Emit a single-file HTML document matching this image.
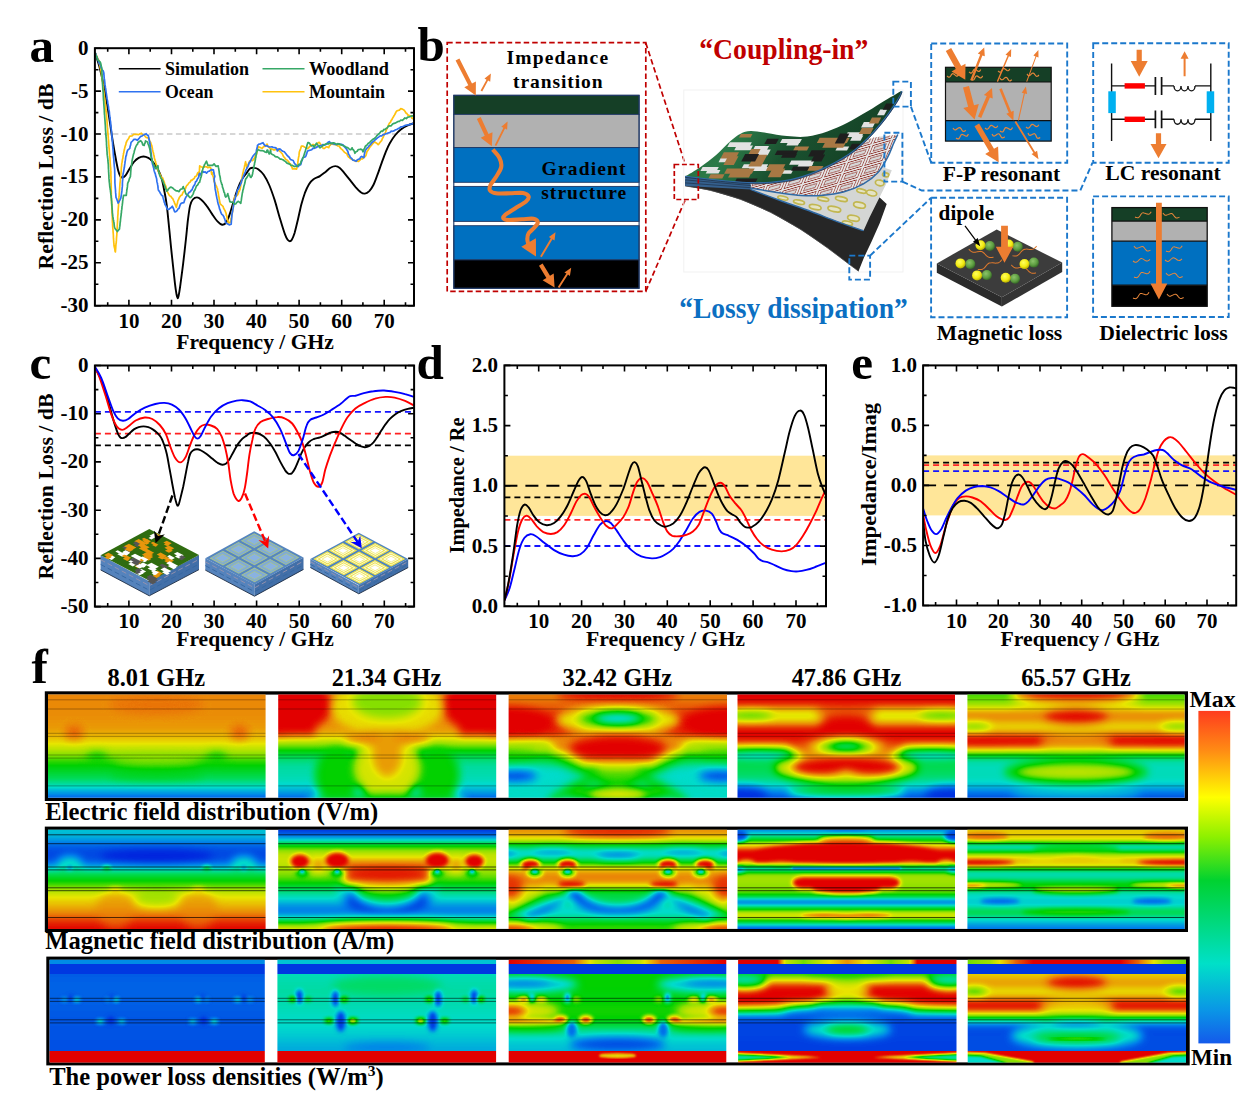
<!DOCTYPE html>
<html lang="en"><head><meta charset="utf-8"><title>Figure</title>
<style>html,body{margin:0;padding:0;background:#fff}svg{display:block}text{font-family:"Liberation Serif",serif;font-weight:bold}</style>
</head><body>
<svg width="1240" height="1095" viewBox="0 0 1240 1095">
<defs>
<clipPath id="clipA"><rect x="95" y="48.2" width="319" height="257.5"/></clipPath>
<clipPath id="clipC"><rect x="95" y="365.5" width="319" height="241"/></clipPath>
<clipPath id="clipD"><rect x="504.4" y="365.4" width="321.6" height="241"/></clipPath>
<clipPath id="clipE"><rect x="923.1" y="365.4" width="313.1" height="240"/></clipPath>
<radialGradient id="sphY" cx="0.4" cy="0.35" r="0.7"><stop offset="0" stop-color="#FFFF60"/><stop offset="0.6" stop-color="#F2EA10"/><stop offset="1" stop-color="#A8A000"/></radialGradient>
<radialGradient id="sphG" cx="0.4" cy="0.35" r="0.7"><stop offset="0" stop-color="#8CC46A"/><stop offset="0.6" stop-color="#5C9C40"/><stop offset="1" stop-color="#2F5E22"/></radialGradient>
<clipPath id="clip3"><path d="M750.6 189.4L782.9 201.5L811.1 211.5L837.3 221.6L863.5 230.7L869.6 217.2L877.7 201L885.7 184.9L891.8 170.2L880.7 166.4L851.5 182.9L811.1 191L750.6 186.9Z"/></clipPath>
<clipPath id="clip2"><path d="M750.6 183.3L770.8 182.9L791 180.3L811.1 174.2L831.3 165.2L851.5 153.1L867.6 139.6L873.6 137.5L897.8 134.5L893.8 143L887.7 157.1L877.7 172.8L863.5 183.9L843.4 192L821.2 195.4L801 195.4L780.9 193L750.6 187.9Z"/></clipPath>
<pattern id="diam" width="21" height="9.5" patternUnits="userSpaceOnUse" patternTransform="translate(762 196) rotate(-16) skewX(-38)"><rect width="21" height="9.5" fill="#E6E6E6"/><rect x="1.6" y="1.1" width="17.8" height="7.3" fill="none" stroke="#8A2A22" stroke-width="0.75"/><rect x="4.6" y="3" width="11.8" height="3.5" fill="#D6D6D6" stroke="#8A2A22" stroke-width="0.65"/></pattern>
<clipPath id="clipG"><path d="M685.1 176.5C687.6 174.9 695 170.8 700.2 167.2C705.5 163.5 711.3 159 716.4 154.7C721.4 150.3 726.5 144.5 730.5 141C734.5 137.5 737.2 135.4 740.6 133.7C743.9 132.1 746.3 131.2 750.6 131.1C755 131 760.7 132.1 766.8 132.9C772.8 133.7 780.2 135.5 786.9 136.1C793.7 136.7 800.4 137.3 807.1 136.5C813.8 135.8 820.5 133.8 827.3 131.5C834 129.2 840.7 126.2 847.4 122.8C854.1 119.5 861.5 114.9 867.6 111.3C873.6 107.7 879 104.1 883.7 101.2C888.4 98.4 892.8 95.9 895.8 94.2C898.8 92.5 901.2 90.7 901.9 91.2C902.5 91.7 901.1 94.2 899.4 97.2C897.8 100.2 894.7 105 891.8 109.3C888.8 113.6 885.7 118 881.7 122.8C877.7 127.7 872.6 133.6 867.6 138.5C862.5 143.5 857.5 148.3 851.5 152.7C845.4 157 838 161.2 831.3 164.8C824.6 168.3 817.8 171.3 811.1 173.8C804.4 176.4 797.7 178.4 791 179.9C784.2 181.3 777.5 182 770.8 182.5C764.1 183 757.4 183.1 750.6 182.9C743.9 182.7 737.2 182.1 730.5 181.5C723.8 180.9 717.9 180.3 710.3 179.5C702.8 178.6 689.3 177 685.1 176.5Z"/></clipPath>
<linearGradient id="gg" x1="0" y1="0" x2="1" y2="0.3"><stop offset="0" stop-color="#1E5A33"/><stop offset="0.35" stop-color="#2C7A48"/><stop offset="0.6" stop-color="#1A5230"/><stop offset="1" stop-color="#143F24"/></linearGradient>
<filter id="jet" color-interpolation-filters="sRGB" x="-5%" y="-5%" width="110%" height="110%"><feComponentTransfer><feFuncR type="table" tableValues="0 0 0 0 0 0.55 0.91 0.92 0.89"/><feFuncG type="table" tableValues="0.13 0.5 0.86 0.86 0.82 0.88 0.9 0.5 0"/><feFuncB type="table" tableValues="0.87 0.92 0.8 0.35 0 0 0 0.03 0"/></feComponentTransfer></filter>
<filter id="bS" color-interpolation-filters="sRGB" x="-10%" y="-20%" width="120%" height="140%"><feGaussianBlur stdDeviation="4.5"/></filter>
<filter id="bM" color-interpolation-filters="sRGB" x="-10%" y="-20%" width="120%" height="140%"><feGaussianBlur stdDeviation="2.2"/></filter>
<filter id="bH" color-interpolation-filters="sRGB" x="-10%" y="-20%" width="120%" height="140%"><feGaussianBlur stdDeviation="0.9"/></filter>
<filter id="bX" color-interpolation-filters="sRGB" x="-10%" y="-20%" width="120%" height="140%"><feGaussianBlur stdDeviation="7"/></filter>
<clipPath id="mc1"><rect x="48" y="694.6" width="217.6" height="103.2"/></clipPath>
<linearGradient id="g1_1" gradientUnits="userSpaceOnUse" x1="0" y1="694.6" x2="0" y2="797.8"><stop offset="0" stop-color="#dddddd"/><stop offset="0.1" stop-color="#dcdcdc"/><stop offset="0.3" stop-color="#d9d9d9"/><stop offset="0.42" stop-color="#d0d0d0"/><stop offset="0.49" stop-color="#bdbdbd"/><stop offset="0.57" stop-color="#a3a3a3"/><stop offset="0.67" stop-color="#808080"/><stop offset="0.8" stop-color="#666666"/><stop offset="0.88" stop-color="#4c4c4c"/><stop offset="0.93" stop-color="#333333"/><stop offset="1" stop-color="#0a0a0a"/></linearGradient>
<clipPath id="mc2"><rect x="278.2" y="694.6" width="218" height="103.2"/></clipPath>
<linearGradient id="g2_1" gradientUnits="userSpaceOnUse" x1="0" y1="694.6" x2="0" y2="797.8"><stop offset="0" stop-color="#dbdbdb"/><stop offset="0.35" stop-color="#dbdbdb"/><stop offset="0.43" stop-color="#cccccc"/><stop offset="0.48" stop-color="#9e9e9e"/><stop offset="0.56" stop-color="#737373"/><stop offset="0.64" stop-color="#4c4c4c"/><stop offset="0.88" stop-color="#454545"/><stop offset="0.95" stop-color="#2e2e2e"/><stop offset="1" stop-color="#0a0a0a"/></linearGradient>
<clipPath id="mc3"><rect x="508.6" y="694.6" width="218.4" height="103.2"/></clipPath>
<linearGradient id="g3_1" gradientUnits="userSpaceOnUse" x1="0" y1="694.6" x2="0" y2="797.8"><stop offset="0" stop-color="#e0e0e0"/><stop offset="0.1" stop-color="#dedede"/><stop offset="0.16" stop-color="#f5f5f5"/><stop offset="0.38" stop-color="#ffffff"/><stop offset="0.44" stop-color="#e6e6e6"/><stop offset="0.5" stop-color="#b2b2b2"/><stop offset="0.58" stop-color="#808080"/><stop offset="0.68" stop-color="#595959"/><stop offset="0.8" stop-color="#404040"/><stop offset="0.9" stop-color="#454545"/><stop offset="1" stop-color="#404040"/></linearGradient>
<clipPath id="mc4"><rect x="737.5" y="694.6" width="217.5" height="103.2"/></clipPath>
<linearGradient id="g4_1" gradientUnits="userSpaceOnUse" x1="0" y1="694.6" x2="0" y2="797.8"><stop offset="0" stop-color="#ffffff"/><stop offset="0.1" stop-color="#ffffff"/><stop offset="0.13" stop-color="#d9d9d9"/><stop offset="0.16" stop-color="#b8b8b8"/><stop offset="0.25" stop-color="#b8b8b8"/><stop offset="0.29" stop-color="#e6e6e6"/><stop offset="0.32" stop-color="#ffffff"/><stop offset="0.45" stop-color="#ffffff"/><stop offset="0.49" stop-color="#d9d9d9"/><stop offset="0.53" stop-color="#b2b2b2"/><stop offset="0.58" stop-color="#808080"/><stop offset="0.65" stop-color="#666666"/><stop offset="0.8" stop-color="#5c5c5c"/><stop offset="0.87" stop-color="#454545"/><stop offset="0.93" stop-color="#262626"/><stop offset="1" stop-color="#0d0d0d"/></linearGradient>
<clipPath id="mc5"><rect x="967.4" y="694.6" width="217.2" height="103.2"/></clipPath>
<linearGradient id="g5_1" gradientUnits="userSpaceOnUse" x1="0" y1="694.6" x2="0" y2="797.8"><stop offset="0" stop-color="#8c8c8c"/><stop offset="0.04" stop-color="#999999"/><stop offset="0.1" stop-color="#999999"/><stop offset="0.14" stop-color="#cccccc"/><stop offset="0.2" stop-color="#e6e6e6"/><stop offset="0.27" stop-color="#d1d1d1"/><stop offset="0.33" stop-color="#b2b2b2"/><stop offset="0.37" stop-color="#d9d9d9"/><stop offset="0.4" stop-color="#ffffff"/><stop offset="0.5" stop-color="#ffffff"/><stop offset="0.54" stop-color="#bfbfbf"/><stop offset="0.58" stop-color="#808080"/><stop offset="0.62" stop-color="#474747"/><stop offset="0.7" stop-color="#454545"/><stop offset="0.85" stop-color="#454545"/><stop offset="0.92" stop-color="#262626"/><stop offset="1" stop-color="#0d0d0d"/></linearGradient>
<clipPath id="mc6"><rect x="48" y="829.8" width="217.6" height="99.1"/></clipPath>
<linearGradient id="g6_1" gradientUnits="userSpaceOnUse" x1="0" y1="829.8" x2="0" y2="928.9"><stop offset="0" stop-color="#383838"/><stop offset="0.1" stop-color="#303030"/><stop offset="0.14" stop-color="#171717"/><stop offset="0.2" stop-color="#0d0d0d"/><stop offset="0.32" stop-color="#0d0d0d"/><stop offset="0.37" stop-color="#2e2e2e"/><stop offset="0.41" stop-color="#4c4c4c"/><stop offset="0.47" stop-color="#737373"/><stop offset="0.56" stop-color="#8c8c8c"/><stop offset="0.6" stop-color="#a8a8a8"/><stop offset="0.64" stop-color="#b8b8b8"/><stop offset="0.72" stop-color="#c7c7c7"/><stop offset="0.8" stop-color="#d4d4d4"/><stop offset="0.88" stop-color="#e6e6e6"/><stop offset="0.93" stop-color="#f7f7f7"/><stop offset="1" stop-color="#ffffff"/></linearGradient>
<clipPath id="mc7"><rect x="278.2" y="829.8" width="218" height="99.1"/></clipPath>
<linearGradient id="g7_1" gradientUnits="userSpaceOnUse" x1="0" y1="829.8" x2="0" y2="928.9"><stop offset="0" stop-color="#050505"/><stop offset="0.06" stop-color="#141414"/><stop offset="0.11" stop-color="#404040"/><stop offset="0.15" stop-color="#737373"/><stop offset="0.2" stop-color="#a8a8a8"/><stop offset="0.27" stop-color="#b8b8b8"/><stop offset="0.35" stop-color="#b2b2b2"/><stop offset="0.45" stop-color="#9e9e9e"/><stop offset="0.55" stop-color="#808080"/><stop offset="0.6" stop-color="#595959"/><stop offset="0.7" stop-color="#404040"/><stop offset="0.8" stop-color="#1a1a1a"/><stop offset="0.86" stop-color="#1a1a1a"/><stop offset="0.9" stop-color="#4c4c4c"/><stop offset="0.94" stop-color="#8c8c8c"/><stop offset="1" stop-color="#cccccc"/></linearGradient>
<clipPath id="mc8"><rect x="508.6" y="829.8" width="218.4" height="99.1"/></clipPath>
<linearGradient id="g8_1" gradientUnits="userSpaceOnUse" x1="0" y1="829.8" x2="0" y2="928.9"><stop offset="0" stop-color="#dbdbdb"/><stop offset="0.1" stop-color="#cccccc"/><stop offset="0.135" stop-color="#949494"/><stop offset="0.17" stop-color="#4c4c4c"/><stop offset="0.25" stop-color="#333333"/><stop offset="0.3" stop-color="#4c4c4c"/><stop offset="0.34" stop-color="#8c8c8c"/><stop offset="0.38" stop-color="#bfbfbf"/><stop offset="0.44" stop-color="#dedede"/><stop offset="0.56" stop-color="#dedede"/><stop offset="0.6" stop-color="#b8b8b8"/><stop offset="0.65" stop-color="#808080"/><stop offset="0.75" stop-color="#4c4c4c"/><stop offset="0.85" stop-color="#333333"/><stop offset="0.9" stop-color="#595959"/><stop offset="0.95" stop-color="#808080"/><stop offset="1" stop-color="#8c8c8c"/></linearGradient>
<clipPath id="mc9"><rect x="737.5" y="829.8" width="217.5" height="99.1"/></clipPath>
<linearGradient id="g9_1" gradientUnits="userSpaceOnUse" x1="0" y1="829.8" x2="0" y2="928.9"><stop offset="0" stop-color="#1f1f1f"/><stop offset="0.04" stop-color="#404040"/><stop offset="0.09" stop-color="#666666"/><stop offset="0.13" stop-color="#a6a6a6"/><stop offset="0.17" stop-color="#cccccc"/><stop offset="0.21" stop-color="#ffffff"/><stop offset="0.335" stop-color="#ffffff"/><stop offset="0.36" stop-color="#999999"/><stop offset="0.385" stop-color="#0f0f0f"/><stop offset="0.415" stop-color="#666666"/><stop offset="0.45" stop-color="#a6a6a6"/><stop offset="0.5" stop-color="#a8a8a8"/><stop offset="0.6" stop-color="#9e9e9e"/><stop offset="0.65" stop-color="#8c8c8c"/><stop offset="0.69" stop-color="#4c4c4c"/><stop offset="0.73" stop-color="#0d0d0d"/><stop offset="0.77" stop-color="#4c4c4c"/><stop offset="0.81" stop-color="#8c8c8c"/><stop offset="0.86" stop-color="#cccccc"/><stop offset="0.9" stop-color="#9e9e9e"/><stop offset="0.95" stop-color="#4c4c4c"/><stop offset="1" stop-color="#080808"/></linearGradient>
<clipPath id="mc10"><rect x="967.4" y="829.8" width="217.2" height="99.1"/></clipPath>
<linearGradient id="g10_1" gradientUnits="userSpaceOnUse" x1="0" y1="829.8" x2="0" y2="928.9"><stop offset="0" stop-color="#c7c7c7"/><stop offset="0.1" stop-color="#c7c7c7"/><stop offset="0.13" stop-color="#808080"/><stop offset="0.16" stop-color="#3d3d3d"/><stop offset="0.2" stop-color="#4c4c4c"/><stop offset="0.235" stop-color="#999999"/><stop offset="0.28" stop-color="#c2c2c2"/><stop offset="0.36" stop-color="#c7c7c7"/><stop offset="0.385" stop-color="#999999"/><stop offset="0.42" stop-color="#454545"/><stop offset="0.49" stop-color="#4c4c4c"/><stop offset="0.53" stop-color="#737373"/><stop offset="0.575" stop-color="#8c8c8c"/><stop offset="0.6" stop-color="#666666"/><stop offset="0.64" stop-color="#454545"/><stop offset="0.75" stop-color="#383838"/><stop offset="0.8" stop-color="#595959"/><stop offset="0.84" stop-color="#6b6b6b"/><stop offset="0.88" stop-color="#4c4c4c"/><stop offset="0.94" stop-color="#333333"/><stop offset="1" stop-color="#1a1a1a"/></linearGradient>
<clipPath id="mc11"><rect x="49.6" y="959.8" width="215.2" height="102.6"/></clipPath>
<linearGradient id="g11_1" gradientUnits="userSpaceOnUse" x1="0" y1="959.8" x2="0" y2="1062.4"><stop offset="0" stop-color="#121212"/><stop offset="0.3" stop-color="#171717"/><stop offset="0.6" stop-color="#121212"/><stop offset="1" stop-color="#0f0f0f"/></linearGradient>
<clipPath id="mc12"><rect x="277.4" y="959.8" width="218.7" height="102.6"/></clipPath>
<linearGradient id="g12_1" gradientUnits="userSpaceOnUse" x1="0" y1="959.8" x2="0" y2="1062.4"><stop offset="0" stop-color="#404040"/><stop offset="0.13" stop-color="#454545"/><stop offset="0.3" stop-color="#4c4c4c"/><stop offset="0.5" stop-color="#454545"/><stop offset="0.7" stop-color="#3d3d3d"/><stop offset="0.88" stop-color="#2e2e2e"/><stop offset="1" stop-color="#2e2e2e"/></linearGradient>
<clipPath id="mc13"><rect x="508.7" y="959.8" width="217.6" height="102.6"/></clipPath>
<linearGradient id="g13_1" gradientUnits="userSpaceOnUse" x1="0" y1="959.8" x2="0" y2="1062.4"><stop offset="0" stop-color="#808080"/><stop offset="0.13" stop-color="#808080"/><stop offset="0.3" stop-color="#808080"/><stop offset="0.37" stop-color="#787878"/><stop offset="0.45" stop-color="#858585"/><stop offset="0.6" stop-color="#808080"/><stop offset="0.66" stop-color="#5c5c5c"/><stop offset="0.72" stop-color="#454545"/><stop offset="0.88" stop-color="#333333"/><stop offset="1" stop-color="#333333"/></linearGradient>
<linearGradient id="g13_2" gradientUnits="userSpaceOnUse" x1="508.7" y1="0" x2="726.3" y2="0"><stop offset="0" stop-color="#ffffff"/><stop offset="0.3" stop-color="#e6e6e6"/><stop offset="0.4" stop-color="#b2b2b2"/><stop offset="0.5" stop-color="#9e9e9e"/><stop offset="0.6" stop-color="#b2b2b2"/><stop offset="0.7" stop-color="#e6e6e6"/><stop offset="1" stop-color="#ffffff"/></linearGradient>
<clipPath id="mc14"><rect x="738.1" y="959.8" width="218.4" height="102.6"/></clipPath>
<linearGradient id="g14_1" gradientUnits="userSpaceOnUse" x1="0" y1="959.8" x2="0" y2="1062.4"><stop offset="0" stop-color="#808080"/><stop offset="0.14" stop-color="#808080"/><stop offset="0.17" stop-color="#8c8c8c"/><stop offset="0.2" stop-color="#bfbfbf"/><stop offset="0.24" stop-color="#ffffff"/><stop offset="0.4" stop-color="#ffffff"/><stop offset="0.44" stop-color="#e6e6e6"/><stop offset="0.47" stop-color="#999999"/><stop offset="0.5" stop-color="#4c4c4c"/><stop offset="0.54" stop-color="#1a1a1a"/><stop offset="0.6" stop-color="#0a0a0a"/><stop offset="0.7" stop-color="#0d0d0d"/><stop offset="0.8" stop-color="#0a0a0a"/><stop offset="0.88" stop-color="#0a0a0a"/><stop offset="1" stop-color="#0a0a0a"/></linearGradient>
<linearGradient id="g14_2" gradientUnits="userSpaceOnUse" x1="738.1" y1="0" x2="956.5" y2="0"><stop offset="0" stop-color="#ffffff"/><stop offset="0.18" stop-color="#ffffff"/><stop offset="0.22" stop-color="#b2b2b2"/><stop offset="0.3" stop-color="#999999"/><stop offset="0.5" stop-color="#d9d9d9"/><stop offset="0.7" stop-color="#999999"/><stop offset="0.78" stop-color="#b2b2b2"/><stop offset="0.82" stop-color="#ffffff"/><stop offset="1" stop-color="#ffffff"/></linearGradient>
<clipPath id="mc15"><rect x="967.7" y="959.8" width="218.3" height="102.6"/></clipPath>
<linearGradient id="g15_1" gradientUnits="userSpaceOnUse" x1="0" y1="959.8" x2="0" y2="1062.4"><stop offset="0" stop-color="#bfbfbf"/><stop offset="0.135" stop-color="#bfbfbf"/><stop offset="0.17" stop-color="#cccccc"/><stop offset="0.22" stop-color="#e0e0e0"/><stop offset="0.28" stop-color="#cccccc"/><stop offset="0.33" stop-color="#a6a6a6"/><stop offset="0.37" stop-color="#e6e6e6"/><stop offset="0.42" stop-color="#ffffff"/><stop offset="0.5" stop-color="#ffffff"/><stop offset="0.53" stop-color="#bfbfbf"/><stop offset="0.57" stop-color="#666666"/><stop offset="0.6" stop-color="#333333"/><stop offset="0.64" stop-color="#0d0d0d"/><stop offset="0.75" stop-color="#0f0f0f"/><stop offset="0.88" stop-color="#0f0f0f"/><stop offset="1" stop-color="#0f0f0f"/></linearGradient>
<linearGradient id="g15_2" gradientUnits="userSpaceOnUse" x1="967.7" y1="0" x2="1186" y2="0"><stop offset="0" stop-color="#999999"/><stop offset="0.1" stop-color="#a6a6a6"/><stop offset="0.22" stop-color="#e6e6e6"/><stop offset="0.3" stop-color="#ffffff"/><stop offset="0.7" stop-color="#ffffff"/><stop offset="0.78" stop-color="#e6e6e6"/><stop offset="0.9" stop-color="#a6a6a6"/><stop offset="1" stop-color="#999999"/></linearGradient>
<linearGradient id="cbar" x1="0" y1="0" x2="0" y2="1"><stop offset="0" stop-color="#FF3C1E"/><stop offset="0.12" stop-color="#FF8C14"/><stop offset="0.26" stop-color="#FFFF00"/><stop offset="0.38" stop-color="#8CF000"/><stop offset="0.51" stop-color="#00D230"/><stop offset="0.76" stop-color="#00E0C8"/><stop offset="0.9" stop-color="#0A96E6"/><stop offset="1" stop-color="#145AEB"/></linearGradient>
</defs>
<rect width="1240" height="1095" fill="#fff"/>
<!-- panel a -->
<path d="M94.9 134H414" stroke="#C9C9C9" stroke-width="1.6" stroke-dasharray="5.5 3.5" fill="none"/>
<g clip-path="url(#clipA)" fill="none" stroke-linejoin="round">
<path d="M95.2 53C95.9 55.4 98.2 62 99.6 67.4C101 72.8 102.3 78.4 103.7 85.2C105.1 92.1 106.5 100.1 107.8 108.5C109.2 117 110.7 128 111.9 136C113.2 144 114.3 150.8 115.4 156.5C116.4 162.2 117.3 166.9 118.1 170.2C119 173.6 119.7 175.2 120.4 176.4C121.2 177.6 121.8 177.6 122.6 177.5C123.5 177.4 124.3 177.1 125.4 175.7C126.4 174.4 127.7 171.8 129.1 169.6C130.5 167.3 132.3 164 133.9 162C135.5 160.1 137.1 158.8 138.7 157.9C140.3 157 141.9 156.5 143.5 156.5C145.1 156.5 146.8 157.1 148.3 157.9C149.8 158.7 150.9 159.6 152.4 161.3C153.9 163 155.7 165.6 157.2 168.2C158.7 170.8 160.1 173.6 161.3 177.1C162.4 180.6 163.1 184.4 164 189.2C164.9 194 165.9 198.6 166.8 205.6C167.7 212.7 168.6 222.8 169.5 231.7C170.4 240.6 171.3 250.4 172.3 259.1C173.2 267.8 174.3 277.8 175 283.8C175.7 289.7 176.2 292.4 176.6 294.8C177.1 297.2 177.4 298.2 177.7 298.2C178.1 298.2 178.4 297.2 178.8 294.8C179.3 292.4 179.8 289 180.5 283.8C181.2 278.5 182.3 270.8 183.2 263.2C184.1 255.7 185.2 245.9 186 238.5C186.8 231.2 187.3 224.8 188 219.4C188.7 213.9 189.3 209 190.1 205.6C190.9 202.3 191.7 200.8 192.8 199.5C194 198.1 195.6 197.4 196.9 197.4C198.3 197.4 199.4 198.1 201 199.5C202.6 200.8 204.7 203.2 206.5 205.6C208.4 208 210.2 211.2 212 213.9C213.8 216.5 215.8 219.6 217.5 221.4C219.2 223.2 220.8 224.7 222.3 224.8C223.8 225 225.2 223.9 226.4 222.1C227.7 220.3 228.6 217.5 229.8 213.9C231.1 210.2 232.6 204.5 234 200.2C235.3 195.8 236.7 191.4 238.1 187.8C239.4 184.3 240.8 181.3 242.2 178.9C243.5 176.5 245 175.2 246.3 173.4C247.6 171.7 248.7 169.5 250 168.5C251.3 167.6 252.7 167.7 254.1 167.9C255.5 168 256.6 168.1 258.2 169.2C259.8 170.4 261.9 172.1 263.7 174.7C265.5 177.3 267.4 180.8 269.2 185C271 189.2 272.8 194.4 274.7 200.1C276.5 205.8 278.4 213.6 280.2 219.3C281.9 225 283.7 230.9 285 234.4C286.2 237.8 286.9 238.7 287.7 239.8C288.5 241 289.1 241.2 289.8 241.2C290.4 241.2 291 241.2 291.8 239.8C292.6 238.5 293.5 236.4 294.6 233C295.6 229.6 296.8 224.1 298 219.3C299.1 214.5 300.3 208.5 301.4 204.2C302.6 199.9 303.6 196.5 304.8 193.2C306.1 189.9 307.5 186.7 309 184.3C310.4 182 311.9 180.5 313.8 179.1C315.6 177.7 318 177.3 319.9 176.1C321.9 174.9 323.6 173.4 325.4 172C327.2 170.5 329.2 168.4 330.9 167.5C332.6 166.5 334.2 166 335.7 166.1C337.2 166.1 338.3 166.7 339.8 167.9C341.3 169.1 342.9 171.3 344.6 173.3C346.3 175.4 348.3 177.9 350.1 180.2C351.9 182.5 353.9 185.1 355.6 187.1C357.3 189 358.8 190.8 360.4 191.9C361.9 193 363.4 193.8 364.9 193.6C366.4 193.5 367.9 192.6 369.3 191.2C370.7 189.7 372 187.7 373.4 185C374.8 182.3 376.1 178.4 377.5 174.7C378.9 171.1 380.2 166.8 381.6 163.1C383 159.3 384.4 155.4 385.7 152.1C387.1 148.8 388.2 146 389.8 143.2C391.4 140.3 393.5 137.2 395.3 135C397.2 132.7 398.8 131.1 400.8 129.5C402.9 127.9 405.5 126.4 407.7 125.4C409.8 124.3 412.8 123.6 413.8 123.3" stroke="#000" stroke-width="1.9"/>
<path d="M95.2 53L95.8 53.9L96.4 55.6L97 56.5L97.6 58.1L98.2 59.4L98.6 60L98.9 61.3L99.3 63.8L99.6 64.3L99.9 65.7L100.3 68.1L100.6 68.7L101 70.6L101.2 71.5L101.3 73.1L101.5 73.8L101.7 75.8L101.9 77.5L102.1 78.4L102.3 80.1L102.5 81.4L102.7 81.9L102.8 84.2L103 85.4L103.2 86.3L103.4 87.3L103.5 89.9L103.7 90.7L103.9 92.4L104.1 94L104.2 95.1L104.4 96.8L104.6 97.4L104.7 99.4L104.9 100.2L105.1 102.3L105.2 103.6L105.4 103.9L105.5 105.3L105.6 106.8L105.8 109.2L105.9 109.8L106 111.5L106.2 112.4L106.3 114L106.5 115.2L106.6 116.6L106.7 118.3L106.9 119.6L107 121.5L107.1 122.5L107.2 124.2L107.3 125.4L107.4 126.9L107.5 127.7L107.6 128.3L107.7 130.6L107.8 132L107.9 133.3L108 134.1L108.1 135.6L108.2 136.2L108.3 138.4L108.4 139.3L108.5 140.2L108.6 141.2L108.7 143.6L108.8 145.1L108.9 145.2L109 147.5L109.1 148.2L109.2 149.2L109.3 150.8L109.4 152.8L109.5 154.3L109.6 154.5L109.7 156.7L109.9 157.3L110 159.6L110.1 160.4L110.2 162.5L110.3 164.1L110.4 164.8L110.5 166.8L110.6 167.2L110.7 168.3L110.8 170.4L110.9 170.9L110.9 172.5L110.9 174.2L110.9 175.8L111 176.6L111 177.8L111 180.3L111.1 180.9L111.1 183.1L111.1 184.4L111.1 185L111.2 186.5L111.2 187.9L111.2 189.5L111.2 190.8L111.3 192.1L111.3 193.5L111.3 195.3L111.4 196.1L111.4 197.3L111.4 199L111.5 199.7L111.6 201.1L111.6 203.3L111.7 204L111.7 205.3L111.8 205.9L111.9 207.7L111.9 209.3L112 209.8L112 211.9L112.1 213.3L112.2 213.8L112.2 215.9L112.3 217L112.3 218.6L112.4 219.4L112.4 221.2L112.5 222.6L112.6 222.9L112.6 224.2L112.7 226.5L112.8 228.2L112.9 228.6L113 230.3L113.1 231.8L113.2 232.8L113.3 234.2L113.4 235.5L113.4 237L113.5 238.7L113.6 239.6L113.7 241.1L113.8 243L113.9 243.4L114 245.5L114.3 247.1L114.5 247.9L114.8 249.1L115.1 251.3L115.4 251.9L115.5 250.4L115.6 249.4L115.7 248.4L115.8 246.2L115.9 245.2L116 243.8L116.2 243.1L116.3 241.2L116.4 240.4L116.5 238.1L116.6 236.9L116.7 236L116.8 235L116.9 233.1L117 231.5L117 230.1L117.1 229.4L117.2 227.6L117.2 227.1L117.3 225.9L117.4 223.7L117.5 222.5L117.5 221.9L117.6 220.4L117.7 219.4L117.7 217.4L117.8 215.8L117.9 214.7L118 214.1L118 212.1L118.1 210.9L118.2 209.6L118.3 208.3L118.4 206.9L118.5 206.2L118.6 203.8L118.7 202.2L118.7 202.2L118.8 200.7L118.9 199.5L119 197.3L119.1 196.7L119.2 195.3L119.3 192.9L119.4 192.3L119.5 191L119.6 189.4L119.7 187.8L119.8 186.2L119.9 184.9L120 183.3L120.2 181.7L120.3 181.1L120.4 179.3L120.5 178.7L120.6 176.2L120.7 176L120.8 174.4L121 173.4L121.1 172L121.2 170.7L121.3 168.9L121.4 166.7L121.6 166.4L121.7 164.3L121.8 163.1L122.1 162.2L122.3 160.7L122.5 159.2L122.8 158.5L123 156.7L123.3 154.9L123.5 153.4L123.8 152.9L124 151L124.3 150.1L124.7 148.1L125.1 146.5L125.4 145.6L125.8 144.6L126.2 142.4L126.6 141.9L127 140.7L127.9 139.5L128.7 138.5L129.6 136.3L130.4 136.1L132 136L133.6 134.4L135.2 134.3L137 134.3L138.7 134.6L140 133.8L141.4 133.2L142.8 135L144.2 135.3L145.2 136.4L146.2 137.5L147.6 137.8L149 138.1L149.5 140.7L150 141.9L150.6 142.2L151.1 144.2L151.7 145.3L152 146.7L152.3 148.1L152.6 149.9L152.9 151.2L153.2 152.2L153.5 153.4L153.8 154.9L154.1 156L154.4 158L154.8 159.6L155.1 160.5L155.5 161.4L155.8 162.9L156.3 164.6L156.7 166.3L157.2 167.9L157.6 168.7L158.1 170.7L158.5 171.8L159.2 172.9L159.9 174.2L160.6 175.7L161.3 177.4L162.7 178.1L163.2 179.9L163.7 180.9L164.2 182L164.7 183.8L165.2 185.4L165.7 185.9L166.2 187.7L166.7 189.1L167.2 191.1L167.7 192.5L168.1 193.1L169.1 195L170 196L170.9 196.4L171.8 197.8L172.7 198.5L173.6 200.6L174.2 201.8L174.7 203.4L175.3 204.7L175.8 205.9L176.4 207.3L176.7 205.8L177.1 203.9L177.4 203.4L177.7 201.3L178.1 200.2L178.4 199.9L179.3 197.6L180.1 196.5L181 195.3L181.9 195.2L182.8 192.9L183.7 191.3L184.6 191L185.1 188.7L185.6 188.3L186.1 186.7L186.7 185.6L187.8 184.6L188.9 182.9L190.1 182.1L191.1 180.1L192.1 180.3L193.2 179.1L194.2 178.5L195 176.6L195.8 176.4L196.7 175.5L197.5 173.2L198.3 172.5L198.6 174.3L199 176.2L199.1 174L199.2 172.5L199.3 171.3L199.4 170.4L199.5 169.2L199.6 167.4L199.7 165.9L201 166.7L202.4 167.3L203.8 167.2L205.2 166.5L206.5 166.8L207.9 167.7L209.3 167.1L210.6 167.8L210.9 168.4L211.1 170.5L211.3 172L211.5 173.2L211.7 174.4L212.3 172.7L212.6 174.3L212.9 176L213.2 176.4L213.5 177.7L213.8 179.9L214.1 181.6L214.6 182.4L215.2 183.6L215.8 185.4L216.4 186L216.9 187.5L217.5 188.8L217.7 190.7L218 191.7L218.2 192.9L218.5 194.9L218.7 196.7L219 197.1L219.2 199.1L219.5 200L219.7 202L220 203L220.2 203.9L221.6 205.2L223 206.3L223.7 208.4L224.4 209.6L225 210.7L225.7 212.3L226.1 213.5L226.4 215.5L226.8 215.9L227.1 218.3L227.4 218.9L227.8 220.4L228.1 221.5L228.5 223.3L230.5 221.9L230.8 220.2L231 218.8L231.3 217.9L231.6 216.8L231.8 214.8L232.1 214L232.3 213.1L232.6 211.1L232.8 209.4L233 208L233.2 207.3L233.4 205.9L233.6 204.9L233.8 203.4L234 201.2L234.2 199.7L234.4 198.5L234.6 197L236 196.3L237.4 195.2L238.1 193.9L238.8 191.6L239.4 191.1L240.1 188.9L240.3 187.7L240.6 186.8L240.8 184.5L241 183.1L241.3 182.8L241.5 180.7L241.7 179.4L241.9 178.3L242.2 177.1L242.5 174.9L242.7 174L243 172.8L243.3 171.6L243.6 169.8L243.9 169L244.3 168.1L244.6 166L244.9 164.8L245.3 162.9L245.6 161.7L245.9 163.6L246.3 164.2L246.6 166.7L247 168.1L247.5 165.6L248.1 165.4L248.6 163.2L249.2 162.4L249.7 161L251.2 160.2L252.7 160.6L253.6 159.2L254.5 158L255.3 155.9L256.2 155.2L256.5 154.1L256.9 152.3L257.2 150.8L257.5 148.8L257.9 148L258.2 146.4L259.6 147.4L261 147.8L262.3 148.1L263.5 146.7L264.7 146.5L265.9 145.6L267.1 144.1L267.8 146.2L268.5 147.1L269.2 147.5L270.6 149.3L271.9 148.9L273.3 149.8L274.7 149.9L276 149.3L277.4 148.7L278.4 150.1L279.5 151L280.5 152L281.5 153L282.4 154L283.2 156L284 157.1L284.8 157.9L285.6 159.3L286.7 159.8L287.7 160.7L288.7 161.9L289.8 163.6L290.4 163.8L291.1 165.8L291.8 166.8L292.5 168.9L293.9 168.6L295.2 168.8L296.6 169.1L296.9 167.8L297.2 166.6L297.4 164.5L297.7 163.7L298 161.2L298.2 160L298.4 158.4L298.6 157L298.8 156.6L299 155.2L299.2 153L299.4 151.7L299.8 150.7L300.2 150L300.6 148.8L301 147.5L301.4 146.1L303.1 146.1L304.8 147.2L306.2 147.6L307.6 148.7L308.6 147.9L309.6 146.5L310.7 145.7L311.7 145.6L313.1 144.4L314.4 145.2L315.8 145.1L316.9 144.4L318.1 142.8L319.2 142.3L320.1 143.6L321.1 144.9L322 146.6L322.7 147.6L323.3 148.4L324.5 148.5L325.6 147.3L326.8 146.8L328.8 147.6L329.5 145.5L330.2 145.4L330.9 144.1L332.3 144.1L333.6 144.4L335 144.5L336.4 144.8L337.7 146L339.1 146L340.1 147.6L341.2 148.9L342.2 149.6L343.2 150.8L344.6 152.4L346 153.3L346.8 153.6L347.7 155.9L348.5 157.1L349.4 157.6L350.5 158.8L351.7 159.3L352.8 159.7L354.2 160.5L355.6 161.3L356.9 160.6L358.3 161.5L359.7 160.4L361 158.7L362.4 158.8L363.6 157.5L364.7 157L365.8 155.8L366.3 154.3L366.8 152.1L367.2 151.2L368.1 150.1L368.9 148.8L369.8 147L370.6 146.3L371.7 145L372.7 143.7L373.7 142.7L374.8 141.9L375.9 142.8L377 143.4L378.2 144.6L379 143.8L379.9 142.6L380.8 141.4L381.6 140.7L382.2 138.9L382.8 137.9L383.3 137L383.9 135.3L384.5 133.7L385 133.5L385.6 132L386.2 130.2L386.8 129L387.3 127.9L387.9 126.8L388.5 125L389.2 123.5L389.8 122.7L390.5 122.3L391.2 120.3L391.9 119.6L392.6 118.1L393.3 117L394 115.8L394.6 114.9L395.3 113.5L396 112.1L396.7 111.1L398.1 110.4L399.4 110.1L400.8 108.7L402.5 109.1L404.2 110.2L405.1 111.4L405.9 113L406.8 113.3L407.7 114.9L409.4 115.6L411.1 115.8L412 118.2L412.9 118.3L413.8 119.9" stroke="#FFC20E" stroke-width="1.7"/>
<path d="M95.2 53L95.7 53.8L96.2 56L96.7 57.1L97.2 57.8L97.7 59.3L98.2 60.5L98.8 62.1L99.4 63.7L99.9 64.2L100.5 65.5L101.1 67.8L101.7 68.7L102.3 70.2L103 70.5L103.7 72.2L103.8 74L104 74.9L104.1 77.3L104.3 78.7L104.4 79.2L104.6 80.6L104.8 82.5L105 84.4L105.1 85.1L105.3 86.3L105.5 87.9L105.7 88.8L105.9 90.4L106.1 92L106.3 93.5L106.5 94.5L106.7 95.9L106.9 97.2L107.1 98.9L107.4 100.1L107.6 101.1L107.8 103.5L108.1 104.5L108.3 106L108.5 106.8L108.7 109.1L109 110.4L109.2 110.8L109.4 112.5L109.5 114.3L109.7 115.7L109.9 117.3L110.1 118.1L110.2 119.9L110.4 121.1L110.6 122L110.7 123.7L110.8 125.5L111 126.8L111.1 127.7L111.2 129.2L111.4 129.9L111.5 131.5L111.7 133.6L111.8 134.5L111.9 135.6L112 137.4L112.1 139L112.3 140.3L112.4 141.3L112.5 142.7L112.6 144.2L112.7 145.9L112.8 147L112.9 148.2L113 149.7L113.1 150.5L113.2 151.9L113.3 154L113.4 155.7L113.5 156.6L113.6 157.8L113.8 158.9L113.9 160.6L114 162.6L114.1 163.7L114.2 164.8L114.3 166.6L114.4 167.2L114.6 168.9L114.7 170.8L114.7 171.7L114.7 172.9L114.8 174L114.8 175.7L114.8 177.5L114.8 177.7L114.9 180L114.9 181.4L114.9 182.8L115 184L115.1 185.5L115.2 186.5L115.3 187.9L115.4 189.1L115.5 190L115.6 192.4L115.7 193.4L115.8 194.3L115.9 196.1L116 197.4L116.6 198.6L117.1 200L117.6 201.6L118.1 203.1L119 201.7L119.9 200.1L120.8 198.2L121 197.1L121.2 195.7L121.4 194.8L121.5 193.7L121.7 192.3L121.9 190.9L122 189.6L122.2 187.5L122.3 186.9L122.4 185.3L122.4 183.2L122.5 181.8L122.6 180.4L122.7 179.9L122.8 177.9L122.8 176.4L122.9 175.6L122.9 175.5L123.1 173.8L123.4 172.6L123.6 171.6L123.9 169.8L124.1 168.6L124.3 167.8L124.5 166.1L124.7 164.5L124.9 163.4L125.1 161.4L125.3 160.5L125.5 159.2L125.7 157.5L125.9 156.1L126.3 155.6L126.6 153.8L127 152.1L127.3 151.2L127.7 150.1L129.8 148.4L130 147L130.3 145.8L130.6 145.1L130.9 143.1L131.1 142.4L132.5 141L133.9 139.4L135.6 139.3L137.3 140.4L138.4 139.1L139.6 137.7L140.7 136.3L141.9 136.1L143 135.2L144.2 134.7L146.2 133.7L147.2 135.1L148.3 135.4L148.6 137.1L149 139.3L149.3 140.5L149.6 141.2L149.8 143.3L150 144L150.2 146.1L150.3 147.2L150.5 148.2L150.7 149.4L150.8 150.5L151 152.9L151.2 153.2L151.4 155.5L151.5 157.1L151.7 158L151.9 158.9L152 161.1L152.2 162.6L152.4 163.6L152.7 164.8L153.1 166L153.4 167.3L153.8 168.5L154.1 170.5L154.4 171.5L154.8 172.6L155.3 173.9L155.7 175.9L156.1 176.9L156.5 178.2L156.7 179.4L156.9 181.4L157.2 182.8L157.4 183.1L157.6 184.7L157.9 186.2L158.1 188.4L158.3 189.5L158.5 190.4L159.4 191.3L160.2 193L161 194.3L161.8 195.5L162.7 195.9L163.1 197.9L163.4 199L163.8 200.1L164.2 202.1L164.6 202.6L165 204.5L165.4 205.1L166.3 206.6L167.2 208.9L168.1 209.4L169.2 209.2L170.2 208.2L171.2 207.6L172.3 206.2L172.9 207.5L173.6 208.8L174.3 210.9L175 211.9L176 211.5L177.1 210.6L178.1 208.8L179.1 208.4L179.6 206.5L180.1 205.1L180.7 203.8L181.2 203.3L182.5 202.9L183.9 202.6L184.4 200.7L184.8 199.6L185.3 198.4L186.1 196.8L187 195.8L187.9 194.2L188.7 192.8L189.6 192L190.4 191.7L191.3 190.3L192.1 189.7L192.8 187.8L193.5 186.2L194.2 185.4L194.9 184.1L195.6 181.8L196.5 181.2L197.4 179.1L198.3 177.8L198.6 177.3L199 174.9L199.3 173.8L199.7 173.3L200.4 174.9L201 173.4L201.7 172.4L202.4 171.3L203.8 172.3L205.2 171.9L206.5 173.2L207.9 171.5L209.3 171.2L210.6 170L212 169.7L213.4 169.9L213.7 171.6L213.9 172.5L214.2 174.5L214.5 175.2L214.8 176.5L214.1 178.8L214.2 179.4L214.4 181.1L214.5 182.3L214.7 183.5L214.8 184.6L215 186.9L215.1 188.4L215.3 189.8L215.4 190.1L215.7 191.6L216 193.4L216.3 195.3L216.5 196.1L216.8 197.6L217.1 199L217.4 199.9L217.6 201.6L217.9 202.7L218.2 204L218.6 205.1L219.1 206.8L219.6 209L220 209.7L220.5 211.3L220.9 212.7L221.8 214.4L222.8 215.1L223.7 216.4L224.2 217.8L224.8 219.1L225.3 221.1L225.9 222.6L226.4 223.2L227.8 224L229.2 224.9L231.2 224.2L231.3 222.8L231.4 220.9L231.6 219.1L231.7 217.9L231.8 216.2L231.9 215.3L232.1 213.4L232.4 212L232.6 211.3L232.8 209.5L233 208.7L233.3 207L233.5 206.1L233.7 203.9L234 202.9L234.3 201.9L234.7 199.7L235.1 199.3L235.5 197L235.9 196.4L236.2 195.3L236.6 193.7L237 191.7L237.4 190.1L238.1 189.2L238.8 188.3L239.4 186.2L240.1 185.6L240.8 183.3L241.3 182.8L241.7 180.4L242.2 179.4L242.6 178.7L243.1 177.2L243.5 176L244.1 174.6L244.7 173.3L245.3 172L245.9 170.1L246.5 169.1L247.1 167.6L247.7 167L248.2 165.7L248.8 163.9L249.4 162.4L250 162.2L250.7 160.7L251.4 159L252.1 157.6L252.7 156.6L253.9 155L255 153.8L256.2 152.6L256.4 151L256.7 149.2L257 148.4L257.3 146.7L257.5 145.3L258.9 144.2L260.3 144L261.7 143.3L263 142.7L264.4 145L265.6 146L266.9 145.9L268.1 146.4L269.3 147L270.6 147L271.9 146.8L273.3 147.5L274.7 147.6L276 147.9L276.7 149.1L277.4 150.9L278.8 148.9L280.2 149.2L281.5 150.4L282.9 151.2L284.3 151.8L285.3 153L286.3 154.2L287.4 155.7L288.4 156.7L289.3 157.3L290.2 159.1L291.1 159.8L293.2 160.5L293.9 162.2L294.6 163.7L295.2 164L296.6 165.6L298 166.7L299.4 165.1L300.7 164.7L301.1 163.5L301.5 161.5L302 160.6L302.4 159.2L302.8 157.7L304.2 157.3L305.5 156.7L306 155.6L306.6 153.9L307.1 152.2L307.6 151.1L309 150.4L310.3 150.1L311.7 149.7L313.1 148.1L314.4 148.3L315.8 147.8L317.2 146.8L318.5 146.5L319.9 145.5L321.3 145.8L322.7 144.6L324 145.3L325.4 144.7L326.8 144L328.1 142.2L329.5 141.6L330.9 143.7L332.3 143L333.6 144L335 144.3L336.4 144.3L337.7 144.3L339.1 143.9L340.5 144.4L341.9 144.4L343.2 145.1L344.6 147L345.5 147.9L346.4 149L347.3 150.5L347.9 151.5L348.4 153.7L349 155L349.5 155.2L350.1 157L351 157.9L351.9 158.7L352.8 160.1L354.5 160.4L356.2 161.3L357.4 159.7L358.5 159.3L359.7 158.9L360.7 157L361.7 156.4L363.8 157.7L364.1 156.6L364.3 154.5L364.6 153.2L364.9 152.1L365.2 150.5L366 149.7L366.8 148.2L367.6 147.7L368.5 146.7L369.3 145.6L370.4 144.7L371.5 143.1L372.6 141.9L373.7 141.3L374.8 140.1L376.1 139L377.5 137.9L378.9 136.9L380.2 135.9L381.6 136L383 134.5L384.4 134.6L385.7 133.6L387.1 133.5L388.5 132.8L389.8 132.6L391.2 131.2L392.6 131.3L394 130.9L395.3 129.9L396.7 129.5L398.1 128.6L399.4 128.1L400.8 126.8L402.2 126.8L403.5 126.3L404.9 125.5L406.3 125.1L407.7 125L409.2 124.6L410.7 124L412.3 123.8L413.8 123.3" stroke="#2F72F0" stroke-width="1.7"/>
<path d="M95.2 53L95.7 54.9L96.1 56.1L96.6 56.1L97.1 57.4L97.5 59.7L98.9 60.9L100.3 62.2L100.6 63L101 64.8L101.3 66.2L101.7 67.5L101.7 68.3L101.8 70.1L101.9 71.4L101.9 73.2L102 75L102.1 76.3L102.1 77.1L102.2 78.3L102.3 79.4L102.3 80.5L102.4 81.8L102.5 83.8L102.6 85L102.7 86.4L102.8 88.5L102.9 89.4L103 90.8L103.1 91.7L103.2 92.8L103.3 94.6L103.3 95.7L103.4 97.6L103.5 99.6L103.6 100.6L103.7 101.2L103.8 103.6L103.9 104.9L104 106.1L104.1 107.7L104.2 108.9L104.3 110.3L104.3 111.1L104.4 113.3L104.5 114.7L104.6 114.9L104.7 117.1L104.8 118.4L104.9 119.5L105 120.9L105.1 122.2L105.2 124.2L105.3 125L105.4 126.8L105.4 127.5L105.5 129.6L105.6 131L105.7 131.8L105.8 133.3L105.9 135.2L106 136.3L106.1 137.3L106.2 138.3L106.3 139.8L106.4 141.7L106.5 142.4L106.5 144.8L106.6 145.2L106.7 147.5L106.8 148L106.9 150.3L107 151.3L107.1 152.4L107.1 153.8L107.3 155.4L107.5 156.7L107.6 157.6L107.8 158.9L107.9 160.7L108.1 162.6L108.2 163.6L108.3 164.2L108.4 166.6L108.4 167.8L108.5 169.4L108.6 169.8L108.6 172L108.7 172.4L108.8 174.6L108.9 175.4L108.9 176.7L109 178.9L109.1 179.2L109.2 181.1L109.4 182.9L109.5 183.4L109.6 184.7L109.8 187L110 187.7L110.2 189.5L110.4 189.9L110.5 191.7L110.7 192.8L110.9 194.9L111.1 195.5L111.2 198.1L111.4 198.1L111.5 200.5L111.6 200.9L111.7 202.6L111.8 204.7L111.9 205.2L112 206.6L112.1 208.7L112.2 209.6L112.3 210.5L112.4 213.2L112.5 213.4L112.6 214.6L112.8 216.4L113.1 218.1L113.3 219.7L113.5 220.2L113.8 221.9L114 222.8L114.2 224.8L114.4 226.6L114.7 227.9L115.6 229.3L116.5 230.2L117.4 231.5L118.4 230.3L119.5 228.9L119.6 227.2L119.8 226.4L120 224.6L120.1 222.9L120.3 222L120.4 221.3L120.6 218.8L120.7 218.1L120.9 216.5L121.1 215.3L121.2 213.4L121.4 213.1L121.5 210.8L121.7 209.9L121.9 208.3L122 206.3L122.2 205.7L122.4 203.8L122.6 202.3L122.7 200.9L122.9 199.7L123.1 198.2L123.2 197.6L123.4 196.1L123.6 195.4L125 195.3L126.3 195.4L126.5 192.9L126.7 191.9L126.8 190.2L127 189.3L127.2 188L127.4 186.9L127.5 185.4L127.7 183.4L128.2 182.2L128.8 181L129.3 178.9L129.9 177.6L130.4 176.7L130.5 175L130.6 174.5L130.7 172.5L130.8 171L130.9 169.8L131 168.5L131.2 167.1L131.4 166.2L131.6 164.7L131.8 163.1L132 162.2L132.1 160.2L132.3 159.8L132.5 158.6L132.9 156.9L133.3 155.1L133.7 153.8L134.1 152.5L134.5 150.4L134.9 149.6L135.2 148.3L135.9 146.5L136.6 145L137.3 144.6L138 142.6L139.4 141.5L140.7 140.7L141.4 141.6L142.1 142.5L142.8 144.9L144.2 145.4L144.6 143.5L145.1 143.1L145.5 140.9L147.6 141.9L148 143.8L148.4 144.8L148.8 145.2L149.2 147L149.6 148.2L149.9 149.7L150.1 150.6L150.3 152.5L150.6 153.2L150.8 154.9L151 156.4L151.4 158.5L151.8 158.7L152.2 161L152.7 161.6L153.1 163.5L153.8 164.6L154.4 166.1L155.1 167.9L155.8 168.7L156.8 167L157.9 165.6L158.1 166.9L158.3 169.4L158.5 170.4L158.8 172.3L159 173.3L159.2 173.7L159.9 175.9L160.6 177.4L161.3 178.6L162 179.6L162.7 180.8L163.2 182.1L163.7 183.8L164.2 184.2L164.7 185.8L165.2 186.9L165.7 188.8L166.3 189.8L166.8 191.2L167.8 190.2L168.8 188.6L169.9 187.6L170.9 187.1L172.3 187.7L173.6 188.9L175 190.1L176.4 190.9L177.7 190.9L179.1 191.7L180.1 189.7L181.2 189L182.2 188.9L183.2 186.6L183.8 188.3L184.3 189L184.9 190.3L185.4 192.6L186 194L187 194.7L188 195.2L189.1 196.6L190.1 197.7L191 197.2L191.9 196.1L192.8 194.6L193.4 193.3L193.9 191.4L194.5 190.6L195 189.8L195.6 188.2L196.4 186L197.2 185.4L198 184.4L198.9 182.5L199.7 182.2L200 180.3L200.4 179.4L200.7 177.7L201 177.3L201.4 175.8L201.7 174.2L202.1 171.1L202.6 170.2L203 168.2L203.4 167.6L203.8 166.7L204.5 164.5L205.2 163.7L205.8 162.5L206.5 161.2L207.2 163.3L207.9 165.4L209.6 165.4L211.3 165.4L212.7 165.4L214.1 163.8L215.1 165.4L216.1 166.4L218.2 165.8L218.4 167.4L218.6 168L218.9 170.1L219.1 171.2L219.3 173.1L219.6 175L219.8 175.9L220 176.3L220.3 178.2L220.5 179.9L220.9 181.5L221.3 182.5L221.7 184.2L222.1 184.4L222.5 187.1L222.9 188.1L223.3 189.3L223.7 191.1L224.1 192.5L224.5 192.7L224.9 195.1L225.3 196.4L225.7 197L226.4 196.6L227.1 195.3L227.8 193.6L228.1 195.7L228.5 196L228.8 197.9L229.2 198.9L229.5 199.9L229.8 201.6L231.6 202.2L233.3 202.5L234.6 204.2L236 203.7L236.7 202.4L237.4 202L238.1 201.3L239.4 202.1L240.8 203.3L241 201.5L241.3 200.4L241.5 198.6L241.7 197.1L241.9 196.1L242.2 194L242.4 192.7L242.6 192.3L242.9 190.1L243.2 189.5L243.5 188.2L243.9 186.3L244.2 185.3L244.6 184.1L244.9 182.8L245.3 180.5L245.6 179.1L246.5 178.1L247.3 176.8L248.2 175.2L249 173.4L249.7 175.3L250.4 177.1L251.1 177.4L251.1 176.8L252.1 175.9L252.3 174.7L252.6 174L252.8 172L253.1 171.2L253.3 169.6L253.6 168.4L253.9 167.7L254.1 165.2L254.4 165L254.6 162.9L254.9 162.1L255.1 161L255.4 159.5L255.6 157.8L255.9 157.1L256.1 154.8L256.4 154.2L256.6 152.6L256.9 151.5L258.2 149.8L259.6 150.3L261 150.6L262.3 150.6L263.7 151L265.1 152L266.5 152.4L266.8 150.8L267.1 150L267.7 150L268.2 152.2L268.7 152.8L269.2 154L269.9 152.2L270.6 150.1L270.9 152.4L271.2 153.7L272.5 154.6L273.7 155L275 156.4L276.2 156.9L277.4 156.8L278.8 157.9L280.2 159.2L281.5 159.2L282.9 159.8L284.3 160.8L285.6 161.6L287 163.1L288.4 163.6L289.8 164.2L291.1 165.5L292.5 165.4L293.9 166.4L295.2 166.3L296.6 166.1L297.8 165.8L298.9 164.4L300 164.3L300.6 163.1L301.2 161.2L301.8 160.2L302.3 159.4L302.9 157.8L303.5 156.6L303.9 155.4L304.4 154.1L304.8 152.5L305.3 151.4L305.8 149.1L306.2 148.2L306.6 147L307 145.3L307.4 144.1L307.9 142.6L308.3 142.5L309.3 143L310.3 144.5L311.7 145.8L313.1 145.5L314.4 147.3L315.5 144.7L316.5 143.2L317.6 144.8L318.8 146L319.9 147.9L321.3 146.9L322.7 145.8L324 144.5L325.4 144.3L326.8 143.5L328.1 144.1L329.5 143.3L330.9 143L332.3 143.4L333.6 142.9L335 143.4L336.4 144.5L337.7 143.6L339.1 144.1L340.5 144.6L341.9 145.1L343.2 145.8L344.6 146.3L346 147.1L347.3 147.6L348.5 148.3L349.6 149.5L350.8 149.8L352.1 147.8L352.8 149.6L353.5 149.8L354.2 151.1L354.9 153.3L356 151.8L357.2 151.3L358.3 149.5L359.7 149.4L361 149.2L362.1 149.8L363.1 151.8L363.6 150.4L364.1 148.9L364.6 148.5L365.2 146.5L366.3 145.5L367.4 144.6L368.5 143.1L369.5 142.7L370.6 141.3L371.7 140.3L372.8 139.3L373.9 138.9L375 138L376.1 136.8L377.2 135.3L378.3 134.3L379.4 133.5L380.5 131.9L381.6 131L382.7 131.4L383.8 129.4L384.9 129.7L386 128.5L387.1 128L388.5 126.1L389.8 125.8L391.2 125.8L392.6 124L394 123.4L395.3 123.1L396.7 122.2L398.1 121.4L399.4 121.5L400.8 120L402.2 120.5L403.5 119.4L404.9 117.9L406.3 118.6L407.7 117.1L409 116.9L410.4 116.5L412.1 115.8L413.8 116.2" stroke="#36A866" stroke-width="1.7"/>
</g>
<rect x="94.9" y="48.2" width="319.1" height="257.5" fill="none" stroke="#000" stroke-width="2"/>
<path d="M128.9 305.7v-6M128.9 48.2v6M171.5 305.7v-6M171.5 48.2v6M214 305.7v-6M214 48.2v6M256.6 305.7v-6M256.6 48.2v6M299.1 305.7v-6M299.1 48.2v6M341.7 305.7v-6M341.7 48.2v6M384.2 305.7v-6M384.2 48.2v6M107.7 305.7v-3.5M107.7 48.2v3.5M150.2 305.7v-3.5M150.2 48.2v3.5M192.8 305.7v-3.5M192.8 48.2v3.5M235.3 305.7v-3.5M235.3 48.2v3.5M277.9 305.7v-3.5M277.9 48.2v3.5M320.4 305.7v-3.5M320.4 48.2v3.5M362.9 305.7v-3.5M362.9 48.2v3.5M405.5 305.7v-3.5M405.5 48.2v3.5M94.9 48.2h6M414 48.2h-6M94.9 91.1h6M414 91.1h-6M94.9 134h6M414 134h-6M94.9 176.9h6M414 176.9h-6M94.9 219.9h6M414 219.9h-6M94.9 262.8h6M414 262.8h-6M94.9 305.7h6M414 305.7h-6M94.9 69.7h3.5M414 69.7h-3.5M94.9 112.6h3.5M414 112.6h-3.5M94.9 155.5h3.5M414 155.5h-3.5M94.9 198.4h3.5M414 198.4h-3.5M94.9 241.3h3.5M414 241.3h-3.5M94.9 284.2h3.5M414 284.2h-3.5" stroke="#000" stroke-width="1.6" fill="none"/>
<text x="128.9" y="328.3" font-size="21" text-anchor="middle" fill="#000">10</text>
<text x="171.5" y="328.3" font-size="21" text-anchor="middle" fill="#000">20</text>
<text x="214" y="328.3" font-size="21" text-anchor="middle" fill="#000">30</text>
<text x="256.6" y="328.3" font-size="21" text-anchor="middle" fill="#000">40</text>
<text x="299.1" y="328.3" font-size="21" text-anchor="middle" fill="#000">50</text>
<text x="341.7" y="328.3" font-size="21" text-anchor="middle" fill="#000">60</text>
<text x="384.2" y="328.3" font-size="21" text-anchor="middle" fill="#000">70</text>
<text x="88.5" y="54.7" font-size="21" text-anchor="end" fill="#000">0</text>
<text x="88.5" y="97.6" font-size="21" text-anchor="end" fill="#000">-5</text>
<text x="88.5" y="140.5" font-size="21" text-anchor="end" fill="#000">-10</text>
<text x="88.5" y="183.4" font-size="21" text-anchor="end" fill="#000">-15</text>
<text x="88.5" y="226.4" font-size="21" text-anchor="end" fill="#000">-20</text>
<text x="88.5" y="269.3" font-size="21" text-anchor="end" fill="#000">-25</text>
<text x="88.5" y="312.2" font-size="21" text-anchor="end" fill="#000">-30</text>
<text x="255" y="348.8" font-size="21.5" text-anchor="middle" fill="#000" textLength="157.5" lengthAdjust="spacingAndGlyphs">Frequency / GHz</text>
<text transform="translate(53 176.5) rotate(-90)" font-size="21.7" text-anchor="middle" textLength="186" lengthAdjust="spacingAndGlyphs">Reflection Loss / dB</text>
<path d="M118.8 68.8H160.6" stroke="#000" stroke-width="1.6"/>
<path d="M118.8 91.8H160.6" stroke="#2F72F0" stroke-width="1.6"/>
<path d="M262.5 68.8H304.5" stroke="#36A866" stroke-width="1.6"/>
<path d="M262.5 91.8H304.5" stroke="#FFC20E" stroke-width="1.6"/>
<text x="165" y="75" font-size="18.5" text-anchor="start" fill="#000" textLength="84" lengthAdjust="spacingAndGlyphs">Simulation</text>
<text x="165" y="97.8" font-size="18.5" text-anchor="start" fill="#000" textLength="48.5" lengthAdjust="spacingAndGlyphs">Ocean</text>
<text x="309" y="75" font-size="18.5" text-anchor="start" fill="#000" textLength="80" lengthAdjust="spacingAndGlyphs">Woodland</text>
<text x="309" y="97.8" font-size="18.5" text-anchor="start" fill="#000" textLength="76" lengthAdjust="spacingAndGlyphs">Mountain</text>
<text x="29.6" y="61.5" font-size="49" text-anchor="start" fill="#000">a</text>
<!-- panel c -->
<g fill="none" stroke-width="1.8" stroke-dasharray="6 4">
<path d="M94.9 411.8H414.1" stroke="#1414FF"/>
<path d="M94.9 433.6H414.1" stroke="#FF2020"/>
<path d="M94.9 445.4H414.1" stroke="#000"/>
</g>
<g clip-path="url(#clipC)" fill="none" stroke-linejoin="round" stroke-width="1.9">
<path d="M95.2 368.2C95.9 369.6 98.2 373.3 99.6 376.3C101 379.3 102.3 382.5 103.7 386.3C105.1 390.2 106.5 394.7 107.8 399.4C109.2 404.2 110.7 410.3 111.9 414.8C113.2 419.3 114.3 423.2 115.4 426.4C116.4 429.6 117.3 432.2 118.1 434.1C119 435.9 119.7 436.8 120.4 437.5C121.2 438.2 121.8 438.2 122.6 438.1C123.5 438.1 124.3 437.9 125.4 437.1C126.5 436.4 127.7 435 129.1 433.7C130.5 432.4 132.3 430.5 133.9 429.4C135.5 428.3 137.1 427.6 138.7 427.1C140.3 426.6 141.9 426.4 143.5 426.4C145.1 426.4 146.8 426.7 148.3 427.1C149.8 427.6 150.9 428.1 152.4 429.1C153.9 430 155.7 431.4 157.2 432.9C158.7 434.4 160.2 435.9 161.3 437.9C162.5 439.9 163.1 442 164.1 444.7C165 447.4 165.9 450 166.8 454C167.7 457.9 168.6 463.6 169.5 468.6C170.5 473.6 171.4 479.1 172.3 484C173.2 488.9 174.3 494.5 175 497.9C175.8 501.2 176.2 502.7 176.7 504C177.1 505.4 177.4 505.9 177.8 505.9C178.1 505.9 178.4 505.4 178.9 504C179.3 502.7 179.8 500.8 180.5 497.9C181.2 494.9 182.3 490.5 183.3 486.3C184.2 482.1 185.2 476.5 186 472.4C186.8 468.3 187.4 464.7 188.1 461.7C188.7 458.6 189.3 455.8 190.1 454C190.9 452.1 191.7 451.3 192.9 450.5C194 449.7 195.6 449.3 197 449.3C198.3 449.3 199.5 449.7 201.1 450.5C202.7 451.3 204.7 452.6 206.6 454C208.4 455.3 210.2 457.1 212.1 458.6C213.9 460 215.8 461.8 217.5 462.8C219.3 463.8 220.9 464.7 222.3 464.7C223.8 464.8 225.2 464.2 226.5 463.2C227.7 462.2 228.6 460.6 229.9 458.6C231.1 456.5 232.6 453.3 234 450.9C235.4 448.4 236.7 445.9 238.1 443.9C239.5 441.9 240.9 440.3 242.2 438.9C243.6 437.6 245 436.8 246.3 435.9C247.6 434.9 248.7 433.6 250 433.1C251.4 432.6 252.8 432.7 254.2 432.7C255.5 432.8 256.7 432.9 258.3 433.5C259.9 434.1 261.9 435.1 263.8 436.6C265.6 438.1 267.4 440 269.2 442.4C271.1 444.7 272.9 447.6 274.7 450.8C276.6 454 278.5 458.4 280.2 461.6C281.9 464.8 283.8 468.2 285 470.1C286.3 472 287 472.5 287.8 473.2C288.6 473.8 289.1 473.9 289.8 473.9C290.5 473.9 291.1 473.9 291.9 473.2C292.7 472.4 293.6 471.2 294.6 469.3C295.6 467.4 296.9 464.3 298 461.6C299.2 458.9 300.3 455.6 301.5 453.1C302.6 450.7 303.6 448.8 304.9 447C306.2 445.1 307.5 443.3 309 442C310.5 440.6 312 439.8 313.8 439C315.6 438.3 318 438 320 437.3C321.9 436.7 323.6 435.8 325.5 435C327.3 434.2 329.2 433 331 432.5C332.7 431.9 334.3 431.7 335.8 431.7C337.2 431.8 338.4 432 339.9 432.7C341.4 433.4 343 434.7 344.7 435.8C346.4 437 348.3 438.4 350.2 439.7C352 440.9 353.9 442.4 355.6 443.5C357.4 444.6 358.9 445.6 360.4 446.2C362 446.8 363.5 447.3 365 447.2C366.5 447.1 367.9 446.6 369.4 445.8C370.8 445 372.1 443.9 373.5 442.4C374.8 440.8 376.2 438.6 377.6 436.6C379 434.5 380.3 432.1 381.7 430C383.1 427.9 384.4 425.7 385.8 423.9C387.2 422 388.3 420.5 389.9 418.9C391.5 417.3 393.6 415.5 395.4 414.2C397.2 413 398.8 412.1 400.9 411.2C403 410.3 405.6 409.4 407.8 408.8C409.9 408.3 412.9 407.9 413.9 407.7" stroke="#000"/>
<path d="M94.6 366.3C95.4 368.2 97.7 372.7 99.6 377.6C101.4 382.5 103.6 389.4 105.6 395.7C107.6 401.9 109.7 410.1 111.6 415.3C113.5 420.4 115.1 424.1 116.9 426.5C118.7 429 120.3 429.9 122.2 429.9C124.1 429.9 125.9 428.1 128.2 426.5C130.5 425 133 422 135.7 420.5C138.5 419 142 417.8 144.8 417.5C147.5 417.3 149.8 417.8 152.3 419C154.8 420.3 157.6 422.5 159.8 425C162.1 427.6 164.1 430.4 165.9 434.1C167.6 437.7 168.9 443 170.4 446.9C171.9 450.8 173.3 454.8 174.9 457.4C176.5 460 178.4 462.4 180.2 462.4C181.9 462.4 183.8 460.3 185.4 457.4C187.1 454.6 188.5 449.1 190 445.4C191.5 441.6 192.8 437.8 194.5 434.8C196.1 431.8 198 429 199.7 427.3C201.5 425.6 203.1 424.9 205 424.6C206.9 424.3 209 424.8 211 425.5C213.1 426.2 215.3 427 217.1 428.8C218.8 430.6 220.2 433.1 221.6 436.3C223 439.6 224.2 443.9 225.4 448.4C226.5 452.9 227.5 458.2 228.4 463.5C229.2 468.7 229.7 475 230.6 480C231.5 485 232.4 490.1 233.6 493.6C234.9 497 236.8 500.2 238.2 500.8C239.5 501.4 240.8 499.6 241.9 497.3C243.1 495.1 244.1 491.7 244.9 487.6C245.8 483.4 246.4 478 247.2 472.5C247.9 467 248.6 459.9 249.5 454.4C250.3 448.9 251.5 443.6 252.5 439.4C253.4 435.1 253.9 431.7 255.3 428.8C256.6 425.9 258.4 423.7 260.5 422C262.7 420.4 265.3 419.8 268.1 419C270.8 418.2 274.4 417.2 277.1 417.1C279.9 416.9 282.1 417.2 284.6 418.3C287.2 419.3 289.9 421 292.2 423.5C294.4 426 296.4 429.9 298.2 433.3C300 436.7 301.3 439.9 302.7 443.9C304.1 447.9 305.2 452.7 306.5 457.4C307.7 462.2 309 468.2 310.3 472.5C311.5 476.8 312.6 480.6 314 483C315.4 485.4 317.2 486.9 318.5 486.8C319.9 486.7 321.2 485.2 322.3 482.3C323.4 479.4 324.1 473.9 325.3 469.5C326.6 465.1 328.1 460.7 329.8 455.9C331.6 451.2 333.8 445.6 335.9 440.9C337.9 436.1 339.9 431.3 341.9 427.3C343.9 423.3 345.6 419.9 347.9 416.8C350.2 413.6 352.7 410.7 355.4 408.5C358.2 406.2 361.2 404.8 364.5 403.2C367.7 401.6 371.5 399.7 375 398.7C378.5 397.6 382.3 397.1 385.6 396.9C388.8 396.7 391.3 396.9 394.6 397.6C397.9 398.3 401.9 399.6 405.1 400.9C408.4 402.2 412.4 404.7 413.9 405.5" stroke="#FF0000"/>
<path d="M94.6 366.3C95.7 368.2 99 372.9 101.1 377.6C103.2 382.2 105.1 388.6 107.1 394.2C109.1 399.7 111.4 406.7 113.1 410.7C114.9 414.7 116 416.6 117.7 418.3C119.3 419.9 121.2 420.7 122.9 420.8C124.7 420.9 126.1 420.3 128.2 419C130.3 417.7 133 414.9 135.7 413C138.5 411.1 141.5 409.2 144.8 407.7C148 406.2 152.1 404.8 155.3 404C158.6 403.2 161.6 402.8 164.4 402.9C167.1 403 169.4 403.5 171.9 404.7C174.4 405.9 177.2 407.7 179.4 410C181.7 412.2 183.4 414.9 185.4 418.3C187.4 421.7 190 427.3 191.5 430.3C193 433.3 193.5 435 194.5 436.3C195.5 437.7 196.5 438.6 197.5 438.6C198.5 438.6 199.2 438.2 200.5 436.3C201.8 434.5 203.3 430.6 205 427.3C206.8 424 208.8 419.9 211 416.8C213.3 413.6 215.8 410.7 218.6 408.5C221.3 406.2 224.6 404.5 227.6 403.2C230.6 401.9 234.1 401.1 236.7 400.6C239.2 400.1 240.4 400.1 242.7 400.2C244.9 400.3 247.7 400.5 250.2 401.4C252.7 402.3 255.1 404 257.5 405.5C260 406.9 262.6 408.1 265.1 410C267.6 411.9 270.1 413.6 272.6 416.8C275.1 419.9 277.9 424.3 280.1 428.8C282.4 433.3 284.5 439.9 286.2 443.9C287.8 447.9 288.7 451 289.9 452.9C291.2 454.8 292.3 455.4 293.7 455.2C295.1 454.9 296.7 454 298.2 451.4C299.7 448.8 301.3 443.6 302.7 439.4C304.1 435.1 305.2 429.1 306.5 425.8C307.7 422.5 308.6 421.2 310.3 419.8C311.9 418.4 314 418.4 316.3 417.5C318.5 416.6 321.3 415.8 323.8 414.5C326.3 413.2 328.6 411.7 331.3 410C334.1 408.2 337.9 405.8 340.4 404C342.9 402.1 344.8 400 346.4 398.7C348 397.4 348.7 396.6 350.2 396.1C351.7 395.6 353.3 396.1 355.4 395.7C357.6 395.2 360 394.2 363 393.4C366 392.7 370 391.6 373.5 391.2C377 390.7 380.5 390.4 384.1 390.5C387.6 390.7 391.1 391.3 394.6 391.9C398.1 392.5 401.9 393.3 405.1 394.2C408.4 395 412.4 396.4 413.9 396.9" stroke="#0000FF"/>
</g>
<rect x="94.9" y="365.5" width="319.2" height="241.1" fill="none" stroke="#000" stroke-width="2"/>
<path d="M128.9 606.6v-6M128.9 365.5v6M171.5 606.6v-6M171.5 365.5v6M214.1 606.6v-6M214.1 365.5v6M256.6 606.6v-6M256.6 365.5v6M299.2 606.6v-6M299.2 365.5v6M341.7 606.6v-6M341.7 365.5v6M384.3 606.6v-6M384.3 365.5v6M107.7 606.6v-3.5M107.7 365.5v3.5M150.2 606.6v-3.5M150.2 365.5v3.5M192.8 606.6v-3.5M192.8 365.5v3.5M235.3 606.6v-3.5M235.3 365.5v3.5M277.9 606.6v-3.5M277.9 365.5v3.5M320.5 606.6v-3.5M320.5 365.5v3.5M363 606.6v-3.5M363 365.5v3.5M405.6 606.6v-3.5M405.6 365.5v3.5M94.9 365.5h6M414.1 365.5h-6M94.9 413.7h6M414.1 413.7h-6M94.9 461.9h6M414.1 461.9h-6M94.9 510.2h6M414.1 510.2h-6M94.9 558.4h6M414.1 558.4h-6M94.9 606.6h6M414.1 606.6h-6M94.9 389.6h3.5M414.1 389.6h-3.5M94.9 437.8h3.5M414.1 437.8h-3.5M94.9 486.1h3.5M414.1 486.1h-3.5M94.9 534.3h3.5M414.1 534.3h-3.5M94.9 582.5h3.5M414.1 582.5h-3.5" stroke="#000" stroke-width="1.6" fill="none"/>
<text x="128.9" y="627.8" font-size="21" text-anchor="middle" fill="#000">10</text>
<text x="171.5" y="627.8" font-size="21" text-anchor="middle" fill="#000">20</text>
<text x="214.1" y="627.8" font-size="21" text-anchor="middle" fill="#000">30</text>
<text x="256.6" y="627.8" font-size="21" text-anchor="middle" fill="#000">40</text>
<text x="299.2" y="627.8" font-size="21" text-anchor="middle" fill="#000">50</text>
<text x="341.7" y="627.8" font-size="21" text-anchor="middle" fill="#000">60</text>
<text x="384.3" y="627.8" font-size="21" text-anchor="middle" fill="#000">70</text>
<text x="88.5" y="372" font-size="21" text-anchor="end" fill="#000">0</text>
<text x="88.5" y="420.2" font-size="21" text-anchor="end" fill="#000">-10</text>
<text x="88.5" y="468.4" font-size="21" text-anchor="end" fill="#000">-20</text>
<text x="88.5" y="516.7" font-size="21" text-anchor="end" fill="#000">-30</text>
<text x="88.5" y="564.9" font-size="21" text-anchor="end" fill="#000">-40</text>
<text x="88.5" y="613.1" font-size="21" text-anchor="end" fill="#000">-50</text>
<text x="255" y="646.3" font-size="21.5" text-anchor="middle" fill="#000" textLength="157.5" lengthAdjust="spacingAndGlyphs">Frequency / GHz</text>
<text transform="translate(53 486.5) rotate(-90)" font-size="21.7" text-anchor="middle" textLength="186" lengthAdjust="spacingAndGlyphs">Reflection Loss / dB</text>
<text x="29.5" y="378.8" font-size="49" text-anchor="start" fill="#000">c</text>
<!-- panel b -->
<rect x="447.2" y="42.6" width="198.6" height="248.8" fill="none" stroke="#C00000" stroke-width="1.7" stroke-dasharray="5.5 3"/>
<rect x="453.8" y="95.3" width="185.3" height="193" fill="#fff"/>
<rect x="453.8" y="95.3" width="185.3" height="19.1" fill="#153F26" stroke="#1F3864" stroke-width="0.9"/>
<rect x="453.8" y="114.4" width="185.3" height="33.2" fill="#B1B1B1" stroke="#1F3864" stroke-width="0.9"/>
<rect x="453.8" y="147.6" width="185.3" height="34.7" fill="#0070C0" stroke="#1F3864" stroke-width="0.9"/>
<rect x="453.8" y="186.4" width="185.3" height="35" fill="#0070C0" stroke="#1F3864" stroke-width="0.9"/>
<rect x="453.8" y="225.7" width="185.3" height="34.2" fill="#0070C0" stroke="#1F3864" stroke-width="0.9"/>
<rect x="453.8" y="259.9" width="185.3" height="28.4" fill="#000" stroke="#1F3864" stroke-width="0.9"/>
<rect x="453.8" y="95.3" width="185.3" height="193" fill="none" stroke="#1F3864" stroke-width="1.1"/>
<polygon points="455.6,60.5 468.3,85.3 464.3,87.3 475.8,95.5 475.9,81.4 472,83.4 459.4,58.5" fill="#ED7D31"/>
<polygon points="482.2,91.5 488.1,80.6 490.2,81.7 490.9,73.6 484.5,78.6 486.5,79.7 480.6,90.5" fill="#ED7D31"/>
<polygon points="476.9,118.9 484.7,135.8 480.7,137.7 491.8,146.3 492.5,132.2 488.5,134.1 480.7,117.1" fill="#ED7D31"/>
<polygon points="496.3,146 505.1,128.6 507.1,129.7 507.6,121.5 501.3,126.7 503.4,127.8 494.7,145.2" fill="#ED7D31"/>
<path d="M492.8 149.5C493.9 150.9 498.1 155.1 499.5 158C500.9 160.9 501.8 163.8 501.2 167C500.6 170.2 497.8 174 496 177C494.2 180 491.5 182.8 490.5 185C489.5 187.2 489.1 189.1 490 190.5C490.9 191.9 492.7 192.8 496 193.3C499.3 193.8 505.5 193.4 510 193.3C514.5 193.2 519.9 192.5 523 193C526.1 193.5 528.1 195.1 528.6 196.5C529.1 197.9 528.3 199.5 526 201.5C523.7 203.5 518.5 206.2 515 208.5C511.5 210.8 506.9 213.3 505 215C503.1 216.7 502.9 217.8 503.6 218.6C504.3 219.4 505.9 219.9 509 220C512.1 220.1 517.9 219.5 522 219.3C526.1 219.1 530.9 218.3 533.5 218.8C536.1 219.3 537.7 221 537.8 222.5C537.9 224 535.5 226.2 534 228C532.5 229.8 529.6 231.7 528.5 233.5C527.4 235.3 527.3 237.1 527.3 239C527.3 240.9 528.3 244 528.5 245" fill="none" stroke="#ED7D31" stroke-width="4.1" stroke-linecap="butt" stroke-linejoin="round"/>
<polygon points="521.3,246.8 535.9,238.2 536,256.6" fill="#ED7D31"/>
<polygon points="541.7,257.3 552.5,239.2 554.5,240.4 555.5,232.3 548.9,237.1 550.8,238.3 540.1,256.3" fill="#ED7D31"/>
<polygon points="539,265.7 546.4,278 542.6,280.2 554.6,287.6 553.7,273.5 550,275.8 542.6,263.5" fill="#ED7D31"/>
<polygon points="559.4,288 568,274.6 569.9,275.9 571.2,267.8 564.4,272.4 566.4,273.6 557.8,287" fill="#ED7D31"/>
<text x="557.3" y="63.7" font-size="19.5" text-anchor="middle" textLength="101.5" lengthAdjust="spacing">Impedance</text>
<text x="557.8" y="87.9" font-size="19.5" text-anchor="middle" textLength="89.5" lengthAdjust="spacing">transition</text>
<text x="583.6" y="174.6" font-size="19.5" text-anchor="middle" textLength="84" lengthAdjust="spacing">Gradient</text>
<text x="583.7" y="198.6" font-size="19.5" text-anchor="middle" textLength="85" lengthAdjust="spacing">structure</text>
<path d="M645.8 43L685.3 164.4M645.8 291.2L685.3 199.6" stroke="#C00000" stroke-width="1.7" stroke-dasharray="5.5 3" fill="none"/>
<rect x="683.8" y="90" width="219.2" height="182" fill="none" stroke="#F1F1F1" stroke-width="1"/>
<path d="M685.1 185.9L710.3 190.4L740.6 199.4L770.8 212.5L801 229.7L827.3 247.8L847.4 262.9L858.5 271.2L864 257.5L871.6 241.4L879.7 223.2L886.7 204.1L879.7 197.4L863.5 191L811.1 186.9L750.6 184.9L685.1 179.9Z" fill="#262626"/>
<path d="M685.1 185.9C689.3 186.7 701.1 188.1 710.3 190.4C719.6 192.6 730.5 195.7 740.6 199.4C750.6 203.1 760.7 207.5 770.8 212.5C780.9 217.6 791.6 223.8 801 229.7C810.5 235.6 819.5 242.3 827.3 247.8C835 253.4 842.2 259 847.4 262.9C852.6 266.8 856.7 269.8 858.5 271.2" fill="none" stroke="#4a4a4a" stroke-width="0.8"/>
<path d="M750.6 189.4L782.9 201.5L811.1 211.5L837.3 221.6L863.5 230.7L869.6 217.2L877.7 201L885.7 184.9L891.8 170.2L880.7 166.4L851.5 182.9L811.1 191L750.6 186.9Z" fill="#D4D6D4"/>
<g clip-path="url(#clip3)">
<ellipse cx="782.9" cy="198" rx="5.2" ry="1.8" fill="#E4E3C4" stroke="#C2B750" stroke-width="1.7" transform="rotate(12 782.9 198)"/>
<ellipse cx="799" cy="202.1" rx="5.6" ry="2" fill="#E4E3C4" stroke="#C2B750" stroke-width="1.7" transform="rotate(12 799 202.1)"/>
<ellipse cx="815.2" cy="207.1" rx="6" ry="2.4" fill="#E4E3C4" stroke="#C2B750" stroke-width="1.7" transform="rotate(12 815.2 207.1)"/>
<ellipse cx="834.3" cy="209.1" rx="6.5" ry="2.6" fill="#E4E3C4" stroke="#C2B750" stroke-width="1.7" transform="rotate(12 834.3 209.1)"/>
<ellipse cx="853.5" cy="218.2" rx="6" ry="2.8" fill="#E4E3C4" stroke="#C2B750" stroke-width="1.7" transform="rotate(12 853.5 218.2)"/>
<ellipse cx="823.2" cy="199" rx="5.6" ry="2" fill="#E4E3C4" stroke="#C2B750" stroke-width="1.7" transform="rotate(12 823.2 199)"/>
<ellipse cx="841.4" cy="199" rx="6" ry="2.2" fill="#E4E3C4" stroke="#C2B750" stroke-width="1.7" transform="rotate(12 841.4 199)"/>
<ellipse cx="859.5" cy="205.1" rx="6" ry="2.8" fill="#E4E3C4" stroke="#C2B750" stroke-width="1.7" transform="rotate(12 859.5 205.1)"/>
<ellipse cx="871.6" cy="193" rx="5.2" ry="2.8" fill="#E4E3C4" stroke="#C2B750" stroke-width="1.7" transform="rotate(12 871.6 193)"/>
<ellipse cx="879.7" cy="182.9" rx="4.4" ry="2.8" fill="#E4E3C4" stroke="#C2B750" stroke-width="1.7" transform="rotate(12 879.7 182.9)"/>
<ellipse cx="861.5" cy="191" rx="4.8" ry="2" fill="#E4E3C4" stroke="#C2B750" stroke-width="1.7" transform="rotate(12 861.5 191)"/>
<ellipse cx="847.4" cy="223.2" rx="5.2" ry="2" fill="#E4E3C4" stroke="#C2B750" stroke-width="1.7" transform="rotate(12 847.4 223.2)"/>
<ellipse cx="885.7" cy="174.8" rx="3.2" ry="2" fill="#E4E3C4" stroke="#C2B750" stroke-width="1.7" transform="rotate(12 885.7 174.8)"/>
</g>
<path d="M750.6 189.4C756 191.4 772.8 197.8 782.9 201.5C793 205.1 802.1 208.2 811.1 211.5C820.2 214.9 828.6 218.4 837.3 221.6C846.1 224.8 859.2 229.2 863.5 230.7" fill="none" stroke="#2F6AA5" stroke-width="1.4"/>
<path d="M750.6 183.3L770.8 182.9L791 180.3L811.1 174.2L831.3 165.2L851.5 153.1L867.6 139.6L873.6 137.5L897.8 134.5L893.8 143L887.7 157.1L877.7 172.8L863.5 183.9L843.4 192L821.2 195.4L801 195.4L780.9 193L750.6 187.9Z" fill="url(#diam)"/>
<path d="M897.8 134.5C897.2 135.9 895.5 139.2 893.8 143C892.1 146.7 890.4 152.1 887.7 157.1C885.1 162.1 881.7 168.4 877.7 172.8C873.6 177.3 869.3 180.7 863.5 183.9C857.8 187.1 850.4 190.1 843.4 192C836.3 193.9 828.3 194.8 821.2 195.4C814.2 196 807.8 195.8 801 195.4C794.3 195 789.3 194.2 780.9 193C772.5 191.7 755.7 188.8 750.6 187.9" fill="none" stroke="#2F6AA5" stroke-width="1.5"/>
<path d="M685.1 176.5L750.6 182.9L750.6 189.4L685.1 185.9Z" fill="#35608E"/>
<path d="M685.1 179.9L750.6 185.5" stroke="#22364f" stroke-width="0.8" fill="none"/>
<path d="M685.1 182.9L750.6 187.7" stroke="#22364f" stroke-width="0.8" fill="none"/>
<path d="M685.1 176.5C687.6 174.9 695 170.8 700.2 167.2C705.5 163.5 711.3 159 716.4 154.7C721.4 150.3 726.5 144.5 730.5 141C734.5 137.5 737.2 135.4 740.6 133.7C743.9 132.1 746.3 131.2 750.6 131.1C755 131 760.7 132.1 766.8 132.9C772.8 133.7 780.2 135.5 786.9 136.1C793.7 136.7 800.4 137.3 807.1 136.5C813.8 135.8 820.5 133.8 827.3 131.5C834 129.2 840.7 126.2 847.4 122.8C854.1 119.5 861.5 114.9 867.6 111.3C873.6 107.7 879 104.1 883.7 101.2C888.4 98.4 892.8 95.9 895.8 94.2C898.8 92.5 901.2 90.7 901.9 91.2C902.5 91.7 901.1 94.2 899.4 97.2C897.8 100.2 894.7 105 891.8 109.3C888.8 113.6 885.7 118 881.7 122.8C877.7 127.7 872.6 133.6 867.6 138.5C862.5 143.5 857.5 148.3 851.5 152.7C845.4 157 838 161.2 831.3 164.8C824.6 168.3 817.8 171.3 811.1 173.8C804.4 176.4 797.7 178.4 791 179.9C784.2 181.3 777.5 182 770.8 182.5C764.1 183 757.4 183.1 750.6 182.9C743.9 182.7 737.2 182.1 730.5 181.5C723.8 180.9 717.9 180.3 710.3 179.5C702.8 178.6 689.3 177 685.1 176.5Z" fill="url(#gg)"/>
<g clip-path="url(#clipG)">
<rect x="729.5" y="142.3" width="22" height="4.7" fill="#E2E2E2" transform="skewX(-28) translate(76 0)"/>
<rect x="736.5" y="145.6" width="16.2" height="4.7" fill="#E2E2E2" transform="skewX(-28) translate(77.7 0)"/>
<rect x="781.9" y="139" width="19.7" height="4.1" fill="#E2E2E2" transform="skewX(-28) translate(74.2 0)"/>
<rect x="787.9" y="141.9" width="11.6" height="3.5" fill="#E2E2E2" transform="skewX(-28) translate(75.7 0)"/>
<rect x="754.7" y="145.9" width="13.9" height="5.3" fill="#E2E2E2" transform="skewX(-28) translate(78 0)"/>
<rect x="758.7" y="149.4" width="11.6" height="5.8" fill="#E2E2E2" transform="skewX(-28) translate(79.9 0)"/>
<rect x="743.6" y="164.2" width="24.3" height="4.1" fill="#E2E2E2" transform="skewX(-28) translate(87.6 0)"/>
<rect x="749.6" y="167" width="18.5" height="4.1" fill="#E2E2E2" transform="skewX(-28) translate(89.1 0)"/>
<rect x="702.3" y="167" width="16.2" height="4.1" fill="#E2E2E2" transform="skewX(-28) translate(89.1 0)"/>
<rect x="707.3" y="169.9" width="12.8" height="3.5" fill="#E2E2E2" transform="skewX(-28) translate(90.6 0)"/>
<rect x="791" y="160.6" width="23.2" height="4.1" fill="#E2E2E2" transform="skewX(-28) translate(85.7 0)"/>
<rect x="799" y="163.5" width="13.9" height="3.5" fill="#E2E2E2" transform="skewX(-28) translate(87.2 0)"/>
<rect x="847.4" y="132.3" width="16.2" height="4.7" fill="#E2E2E2" transform="skewX(-28) translate(70.7 0)"/>
<rect x="852.5" y="135.4" width="10.4" height="5.3" fill="#E2E2E2" transform="skewX(-28) translate(72.4 0)"/>
<rect x="863.5" y="122.1" width="11.6" height="5.3" fill="#E2E2E2" transform="skewX(-28) translate(65.3 0)"/>
<rect x="837.3" y="146.5" width="11.6" height="4.1" fill="#E2E2E2" transform="skewX(-28) translate(78.2 0)"/>
<rect x="720.4" y="158.1" width="10.4" height="4.1" fill="#E2E2E2" transform="skewX(-28) translate(84.4 0)"/>
<rect x="778.9" y="170.3" width="13.9" height="3.5" fill="#E2E2E2" transform="skewX(-28) translate(90.8 0)"/>
<rect x="879.7" y="109.5" width="7" height="5.8" fill="#E2E2E2" transform="skewX(-28) translate(58.7 0)"/>
<rect x="740.6" y="134" width="11.6" height="3.5" fill="#A87844" transform="skewX(-28) translate(71.5 0)"/>
<rect x="723.4" y="152.2" width="15.1" height="6.4" fill="#A87844" transform="skewX(-28) translate(81.4 0)"/>
<rect x="727.5" y="156.3" width="10.4" height="8.8" fill="#A87844" transform="skewX(-28) translate(83.7 0)"/>
<rect x="750.6" y="149" width="9.3" height="8.8" fill="#A87844" transform="skewX(-28) translate(79.9 0)"/>
<rect x="753.7" y="154.7" width="12.8" height="11.7" fill="#A87844" transform="skewX(-28) translate(83.1 0)"/>
<rect x="726.5" y="168.5" width="27.8" height="5.3" fill="#A87844" transform="skewX(-28) translate(90 0)"/>
<rect x="730.5" y="172.1" width="20.9" height="5.3" fill="#A87844" transform="skewX(-28) translate(91.9 0)"/>
<rect x="768.8" y="164.3" width="16.2" height="6.4" fill="#A87844" transform="skewX(-28) translate(87.8 0)"/>
<rect x="771.8" y="168.4" width="12.8" height="8.8" fill="#A87844" transform="skewX(-28) translate(90.2 0)"/>
<rect x="819.2" y="137.8" width="30.1" height="5.3" fill="#A87844" transform="skewX(-28) translate(73.7 0)"/>
<rect x="825.2" y="141.3" width="20.9" height="6.4" fill="#A87844" transform="skewX(-28) translate(75.6 0)"/>
<rect x="861.5" y="128.1" width="11.6" height="5.8" fill="#A87844" transform="skewX(-28) translate(68.5 0)"/>
<rect x="795" y="146.5" width="13.9" height="4.1" fill="#A87844" transform="skewX(-28) translate(78.2 0)"/>
<rect x="809.1" y="166.1" width="13.9" height="4.7" fill="#A87844" transform="skewX(-28) translate(88.7 0)"/>
<rect x="871.6" y="117.6" width="9.3" height="5.8" fill="#A87844" transform="skewX(-28) translate(62.9 0)"/>
<rect x="710.3" y="174.3" width="13.9" height="4.1" fill="#A87844" transform="skewX(-28) translate(93 0)"/>
<rect x="766.8" y="138.8" width="11.6" height="5.3" fill="#1E1E1E" transform="skewX(-28) translate(74.2 0)"/>
<rect x="744.6" y="154" width="13.9" height="7.6" fill="#1E1E1E" transform="skewX(-28) translate(82.5 0)"/>
<rect x="776.9" y="150.4" width="20.9" height="4.7" fill="#1E1E1E" transform="skewX(-28) translate(80.3 0)"/>
<rect x="782.9" y="153.7" width="13.9" height="4.1" fill="#1E1E1E" transform="skewX(-28) translate(82 0)"/>
<rect x="811.1" y="150.2" width="13.9" height="6.4" fill="#1E1E1E" transform="skewX(-28) translate(80.3 0)"/>
<rect x="814.2" y="154.5" width="10.4" height="7" fill="#1E1E1E" transform="skewX(-28) translate(82.7 0)"/>
<rect x="839.4" y="133.6" width="9.3" height="9.9" fill="#1E1E1E" transform="skewX(-28) translate(71.7 0)"/>
<rect x="793" y="166.6" width="16.2" height="4.1" fill="#1E1E1E" transform="skewX(-28) translate(88.9 0)"/>
<rect x="736.5" y="178.4" width="20.9" height="3.5" fill="#1E1E1E" transform="skewX(-28) translate(95.1 0)"/>
<rect x="851.5" y="143.8" width="9.3" height="5.8" fill="#1E1E1E" transform="skewX(-28) translate(76.9 0)"/>
<rect x="885.7" y="103.4" width="7" height="6.4" fill="#1E1E1E" transform="skewX(-28) translate(55.4 0)"/>
</g>
<path d="M685.1 176.5C689.3 177 702.8 178.6 710.3 179.5C717.9 180.3 723.8 180.9 730.5 181.5C737.2 182.1 743.9 182.7 750.6 182.9C757.4 183.1 764.1 183 770.8 182.5C777.5 182 784.2 181.3 791 179.9C797.7 178.4 804.4 176.4 811.1 173.8C817.8 171.3 824.6 168.3 831.3 164.8C838 161.2 845.4 157 851.5 152.7C857.5 148.3 862.5 143.5 867.6 138.5C872.6 133.6 877.7 127.7 881.7 122.8C885.7 118 888.8 113.6 891.8 109.3C894.7 105 897.8 100.2 899.4 97.2C901.1 94.2 901.5 92.2 901.9 91.2" fill="none" stroke="#2F6AA5" stroke-width="1.6"/>
<path d="M685.1 177.3C689.3 177.8 702.8 179.4 710.3 180.3C717.9 181.1 723.8 181.7 730.5 182.3C737.2 182.9 743.9 183.5 750.6 183.7C757.4 183.9 764.1 183.8 770.8 183.3C777.5 182.8 784.2 182.1 791 180.7C797.7 179.2 804.4 177.2 811.1 174.6C817.8 172.1 824.6 169.1 831.3 165.6C838 162 845.4 157.8 851.5 153.5C857.5 149.1 862.5 144.3 867.6 139.4C872.6 134.4 877.7 128.5 881.7 123.6C885.7 118.8 888.8 114.4 891.8 110.1C894.7 105.9 897.8 101 899.4 98C901.1 95 901.5 93 901.9 92" fill="none" stroke="#1c2a3c" stroke-width="0.7"/>
<rect x="674.3" y="164.5" width="24" height="35" fill="none" stroke="#C00000" stroke-width="1.7" stroke-dasharray="5 2.6"/>
<g fill="none" stroke="#1B78CC" stroke-width="1.9" stroke-dasharray="6 3">
<rect x="893.3" y="81.6" width="17.6" height="25"/>
<rect x="884.4" y="132.8" width="18" height="48.8"/>
<rect x="849.3" y="255.6" width="20.8" height="24"/>
<path d="M910.9 106.6L931.2 162.7"/>
<path d="M902.4 181.6L921.8 190.5H1080.3L1092.5 162.7"/>
<path d="M870.1 255.6L931.1 197.8"/>
</g>
<text x="783.8" y="59.4" font-size="28.5" text-anchor="middle" fill="#C00000" textLength="169" lengthAdjust="spacingAndGlyphs">“Coupling-in”</text>
<text x="793.5" y="318.2" font-size="28.5" text-anchor="middle" fill="#0B6FC2" textLength="228.5" lengthAdjust="spacingAndGlyphs">“Lossy dissipation”</text>
<g fill="none" stroke="#1B78CC" stroke-width="1.9" stroke-dasharray="6 3">
<rect x="931.2" y="43.5" width="136" height="119.2"/>
<rect x="1093.2" y="43.3" width="135.5" height="119.4"/>
<rect x="931.1" y="197.8" width="136" height="119.4"/>
<rect x="1093.1" y="196.4" width="135.6" height="120.6"/>
</g>
<rect x="945.5" y="67.3" width="105.7" height="14.7" fill="#153F26"/>
<rect x="945.5" y="82" width="105.7" height="38.6" fill="#B1B1B1"/>
<rect x="945.5" y="120.6" width="105.7" height="20.5" fill="#0070C0"/>
<path d="M945.5 82H1051.2" stroke="#111" stroke-width="1.2"/>
<path d="M945.5 120.6H1051.2" stroke="#111" stroke-width="1.2"/>
<rect x="945.5" y="67.3" width="105.7" height="73.8" fill="none" stroke="#111" stroke-width="1.2"/>
<path d="M0 0C0.2 0.2 0.7 0.8 1 1.1C1.3 1.3 1.7 1.5 2 1.5C2.3 1.5 2.7 1.3 3 1.1C3.3 0.8 3.7 0.4 4 0C4.3 -0.4 4.7 -0.8 5 -1.1C5.3 -1.3 5.7 -1.5 6 -1.5C6.3 -1.5 6.7 -1.3 7 -1.1C7.3 -0.8 7.7 -0.4 8 -0C8.3 0.4 8.7 0.8 9 1.1C9.3 1.3 9.7 1.5 10 1.5C10.3 1.5 10.7 1.3 11 1.1C11.3 0.8 11.8 0.2 12 0" transform="translate(947 76) rotate(-8)" stroke="#E8873A" stroke-width="1.2" fill="none"/>
<path d="M0 0C0.2 0.2 0.7 0.8 1 1.1C1.3 1.3 1.7 1.5 2 1.5C2.3 1.5 2.7 1.3 3 1.1C3.3 0.8 3.7 0.4 4 0C4.3 -0.4 4.7 -0.8 5 -1.1C5.3 -1.3 5.7 -1.5 6 -1.5C6.3 -1.5 6.7 -1.3 7 -1.1C7.3 -0.8 7.7 -0.4 8 -0C8.3 0.4 8.7 0.8 9 1.1C9.3 1.3 9.7 1.5 10 1.5C10.3 1.5 10.7 1.3 11 1.1C11.3 0.8 11.8 0.2 12 0" transform="translate(969 72) rotate(-12)" stroke="#E8873A" stroke-width="1.2" fill="none"/>
<path d="M0 0C0.2 0.2 0.7 0.8 1 1.1C1.3 1.3 1.7 1.5 2 1.5C2.3 1.5 2.7 1.3 3 1.1C3.3 0.8 3.7 0.4 4 0C4.3 -0.4 4.7 -0.8 5 -1.1C5.3 -1.3 5.7 -1.5 6 -1.5C6.3 -1.5 6.7 -1.3 7 -1.1C7.3 -0.8 7.7 -0.4 8 -0C8.3 0.4 8.7 0.8 9 1.1C9.3 1.3 9.7 1.5 10 1.5C10.3 1.5 10.7 1.3 11 1.1C11.3 0.8 11.8 0.2 12 0" transform="translate(998 71) rotate(-10)" stroke="#E8873A" stroke-width="1.2" fill="none"/>
<path d="M0 0C0.2 0.2 0.7 0.8 1 1.1C1.3 1.3 1.7 1.5 2 1.5C2.3 1.5 2.7 1.3 3 1.1C3.3 0.8 3.7 0.4 4 0C4.3 -0.4 4.7 -0.8 5 -1.1C5.3 -1.3 5.7 -1.5 6 -1.5C6.3 -1.5 6.7 -1.3 7 -1.1C7.3 -0.8 7.7 -0.4 8 -0C8.3 0.4 8.7 0.8 9 1.1C9.3 1.3 9.7 1.5 10 1.5C10.3 1.5 10.7 1.3 11 1.1C11.3 0.8 11.8 0.2 12 0" transform="translate(1027 74) rotate(5)" stroke="#E8873A" stroke-width="1.2" fill="none"/>
<path d="M0 0C0.2 0.2 0.7 0.8 1 1.1C1.3 1.3 1.7 1.5 2 1.5C2.3 1.5 2.7 1.3 3 1.1C3.3 0.8 3.7 0.4 4 0C4.3 -0.4 4.7 -0.8 5 -1.1C5.3 -1.3 5.7 -1.5 6 -1.5C6.3 -1.5 6.7 -1.3 7 -1.1C7.3 -0.8 7.7 -0.4 8 -0C8.3 0.4 8.7 0.8 9 1.1C9.3 1.3 9.7 1.5 10 1.5C10.3 1.5 10.7 1.3 11 1.1C11.3 0.8 11.8 0.2 12 0" transform="translate(971 79) rotate(-15)" stroke="#E8873A" stroke-width="1.2" fill="none"/>
<path d="M0 0C0.2 0.2 0.7 0.8 1 1.1C1.3 1.3 1.7 1.5 2 1.5C2.3 1.5 2.7 1.3 3 1.1C3.3 0.8 3.7 0.4 4 0C4.3 -0.4 4.7 -0.8 5 -1.1C5.3 -1.3 5.7 -1.5 6 -1.5C6.3 -1.5 6.7 -1.3 7 -1.1C7.3 -0.8 7.7 -0.4 8 -0C8.3 0.4 8.7 0.8 9 1.1C9.3 1.3 9.7 1.5 10 1.5C10.3 1.5 10.7 1.3 11 1.1C11.3 0.8 11.8 0.2 12 0" transform="translate(1000 78) rotate(8)" stroke="#E8873A" stroke-width="1.2" fill="none"/>
<path d="M0 0C0.2 0.2 0.7 0.9 1.1 1.1C1.4 1.4 1.8 1.6 2.2 1.6C2.5 1.6 2.9 1.4 3.2 1.1C3.6 0.9 4 0.4 4.3 0C4.7 -0.4 5.1 -0.9 5.4 -1.1C5.8 -1.4 6.1 -1.6 6.5 -1.6C6.9 -1.6 7.2 -1.4 7.6 -1.1C7.9 -0.9 8.3 -0.4 8.7 -0C9 0.4 9.4 0.9 9.8 1.1C10.1 1.4 10.5 1.6 10.8 1.6C11.2 1.6 11.6 1.4 11.9 1.1C12.3 0.9 12.8 0.2 13 0" transform="translate(953 128) rotate(10)" stroke="#E8873A" stroke-width="1.2" fill="none"/>
<path d="M0 0C0.2 0.2 0.7 0.9 1.1 1.1C1.4 1.4 1.8 1.6 2.2 1.6C2.5 1.6 2.9 1.4 3.2 1.1C3.6 0.9 4 0.4 4.3 0C4.7 -0.4 5.1 -0.9 5.4 -1.1C5.8 -1.4 6.1 -1.6 6.5 -1.6C6.9 -1.6 7.2 -1.4 7.6 -1.1C7.9 -0.9 8.3 -0.4 8.7 -0C9 0.4 9.4 0.9 9.8 1.1C10.1 1.4 10.5 1.6 10.8 1.6C11.2 1.6 11.6 1.4 11.9 1.1C12.3 0.9 12.8 0.2 13 0" transform="translate(956 138) rotate(-18)" stroke="#E8873A" stroke-width="1.2" fill="none"/>
<path d="M0 0C0.2 0.2 0.7 0.9 1.1 1.1C1.4 1.4 1.8 1.6 2.2 1.6C2.5 1.6 2.9 1.4 3.2 1.1C3.6 0.9 4 0.4 4.3 0C4.7 -0.4 5.1 -0.9 5.4 -1.1C5.8 -1.4 6.1 -1.6 6.5 -1.6C6.9 -1.6 7.2 -1.4 7.6 -1.1C7.9 -0.9 8.3 -0.4 8.7 -0C9 0.4 9.4 0.9 9.8 1.1C10.1 1.4 10.5 1.6 10.8 1.6C11.2 1.6 11.6 1.4 11.9 1.1C12.3 0.9 12.8 0.2 13 0" transform="translate(985 128) rotate(-10)" stroke="#E8873A" stroke-width="1.2" fill="none"/>
<path d="M0 0C0.2 0.2 0.7 0.9 1.1 1.1C1.4 1.4 1.8 1.6 2.2 1.6C2.5 1.6 2.9 1.4 3.2 1.1C3.6 0.9 4 0.4 4.3 0C4.7 -0.4 5.1 -0.9 5.4 -1.1C5.8 -1.4 6.1 -1.6 6.5 -1.6C6.9 -1.6 7.2 -1.4 7.6 -1.1C7.9 -0.9 8.3 -0.4 8.7 -0C9 0.4 9.4 0.9 9.8 1.1C10.1 1.4 10.5 1.6 10.8 1.6C11.2 1.6 11.6 1.4 11.9 1.1C12.3 0.9 12.8 0.2 13 0" transform="translate(992 134) rotate(12)" stroke="#E8873A" stroke-width="1.2" fill="none"/>
<path d="M0 0C0.2 0.2 0.7 0.9 1.1 1.1C1.4 1.4 1.8 1.6 2.2 1.6C2.5 1.6 2.9 1.4 3.2 1.1C3.6 0.9 4 0.4 4.3 0C4.7 -0.4 5.1 -0.9 5.4 -1.1C5.8 -1.4 6.1 -1.6 6.5 -1.6C6.9 -1.6 7.2 -1.4 7.6 -1.1C7.9 -0.9 8.3 -0.4 8.7 -0C9 0.4 9.4 0.9 9.8 1.1C10.1 1.4 10.5 1.6 10.8 1.6C11.2 1.6 11.6 1.4 11.9 1.1C12.3 0.9 12.8 0.2 13 0" transform="translate(1000 131) rotate(-16)" stroke="#E8873A" stroke-width="1.2" fill="none"/>
<path d="M0 0C0.2 0.2 0.7 0.9 1.1 1.1C1.4 1.4 1.8 1.6 2.2 1.6C2.5 1.6 2.9 1.4 3.2 1.1C3.6 0.9 4 0.4 4.3 0C4.7 -0.4 5.1 -0.9 5.4 -1.1C5.8 -1.4 6.1 -1.6 6.5 -1.6C6.9 -1.6 7.2 -1.4 7.6 -1.1C7.9 -0.9 8.3 -0.4 8.7 -0C9 0.4 9.4 0.9 9.8 1.1C10.1 1.4 10.5 1.6 10.8 1.6C11.2 1.6 11.6 1.4 11.9 1.1C12.3 0.9 12.8 0.2 13 0" transform="translate(1026 127) rotate(-10)" stroke="#E8873A" stroke-width="1.2" fill="none"/>
<path d="M0 0C0.2 0.2 0.7 0.9 1.1 1.1C1.4 1.4 1.8 1.6 2.2 1.6C2.5 1.6 2.9 1.4 3.2 1.1C3.6 0.9 4 0.4 4.3 0C4.7 -0.4 5.1 -0.9 5.4 -1.1C5.8 -1.4 6.1 -1.6 6.5 -1.6C6.9 -1.6 7.2 -1.4 7.6 -1.1C7.9 -0.9 8.3 -0.4 8.7 -0C9 0.4 9.4 0.9 9.8 1.1C10.1 1.4 10.5 1.6 10.8 1.6C11.2 1.6 11.6 1.4 11.9 1.1C12.3 0.9 12.8 0.2 13 0" transform="translate(1028 133) rotate(20)" stroke="#E8873A" stroke-width="1.2" fill="none"/>
<polygon points="945.8,51 955.8,69.1 951.5,71.4 965.3,79.8 965.5,63.7 961.2,66.1 951.2,48" fill="#ED7D31"/>
<polygon points="972.4,80.9 982.4,55.4 984.8,56.3 984.2,47.5 977.8,53.6 980.2,54.5 970.2,80.1" fill="#ED7D31"/>
<polygon points="998,81.9 1008.9,56.2 1011,57.1 1011.2,49 1005.5,54.7 1007.6,55.6 996.8,81.3" fill="#ED7D31"/>
<polygon points="1027.2,81.8 1036.4,56.7 1038.5,57.5 1038.4,50 1033.4,55.6 1035.5,56.4 1026.2,81.4" fill="#ED7D31"/>
<polygon points="963,87.6 968.1,106.8 963.3,108.1 974.6,119.6 978.8,104 974,105.3 969,86" fill="#ED7D31"/>
<polygon points="981.2,117.9 989.9,97.4 992.7,98.6 992,88 983.9,94.9 986.7,96.1 978,116.5" fill="#ED7D31"/>
<polygon points="999.3,89.3 1008.8,112.7 1006.3,113.8 1013.4,120.6 1013.7,110.8 1011.2,111.8 1001.7,88.3" fill="#ED7D31"/>
<polygon points="1018.9,120.4 1024.9,93.6 1027.1,94 1025.9,86.6 1021.7,92.8 1023.8,93.3 1017.9,120.2" fill="#ED7D31"/>
<polygon points="974.5,126.2 989.3,151.6 985.2,154 998.7,162.3 998.1,146.4 994,148.8 979.1,123.4" fill="#ED7D31"/>
<polygon points="1014.5,121.9 1033.5,152.9 1031.5,154.1 1038.5,159.2 1037.1,150.7 1035.1,151.9 1016.1,120.9" fill="#ED7D31"/>
<text x="1001.5" y="180.6" font-size="20.5" text-anchor="middle" fill="#000" textLength="117.5" lengthAdjust="spacingAndGlyphs">F-P resonant</text>
<g fill="none" stroke="#111" stroke-width="1.4">
<path d="M1111.6 63.4V141M1210.8 63.4V141"/>
<path d="M1111.6 85.9H1155.4M1161.6 85.9H1174M1195 85.9H1210.8"/>
<path d="M1155.4 77.1V94.9M1161.6 77.1V94.9" stroke-width="1.7"/>
<path d="M1174 85.9a3.5 5 0 0 0 7 0a3.5 5 0 0 0 7 0a3.5 5 0 0 0 7 0"/>
<path d="M1111.6 119.3H1155.4M1161.6 119.3H1174M1195 119.3H1210.8"/>
<path d="M1155.4 110.5V128.3M1161.6 110.5V128.3" stroke-width="1.7"/>
<path d="M1174 119.3a3.5 5 0 0 0 7 0a3.5 5 0 0 0 7 0a3.5 5 0 0 0 7 0"/>
</g>
<rect x="1124.6" y="83.2" width="20.3" height="5.4" fill="#FF0000"/>
<rect x="1124.6" y="116.6" width="20.3" height="5.4" fill="#FF0000"/>
<rect x="1108.3" y="91.3" width="7.5" height="21.8" fill="#00B0F0"/>
<rect x="1206.7" y="91.3" width="7.5" height="21.8" fill="#00B0F0"/>
<polygon points="1136.6,49.8 1136.6,61 1130.7,61 1139.2,76.8 1147.7,61 1141.8,61 1141.8,49.8" fill="#ED7D31"/>
<polygon points="1185.6,76.2 1185.6,58.7 1188.6,58.7 1184.6,51.2 1180.6,58.7 1183.6,58.7 1183.6,76.2" fill="#ED7D31"/>
<polygon points="1155.9,133.2 1155.9,144.1 1150.5,144.1 1158.5,158.3 1166.5,144.1 1161.1,144.1 1161.1,133.2" fill="#ED7D31"/>
<text x="1163" y="180.4" font-size="20.5" text-anchor="middle" fill="#000" textLength="115.5" lengthAdjust="spacingAndGlyphs">LC resonant</text>
<polygon points="936.8,263.4 1001.9,297.3 1001.9,306.6 936.8,272.7" fill="#2B2B2B"/>
<polygon points="1062.2,262.6 1001.9,297.3 1001.9,306.6 1062.2,271.9" fill="#333"/>
<polygon points="936.8,263.4 996.7,229.5 1062.2,262.6 1001.9,297.3" fill="#3C3C3C"/>
<path d="M0 0C0.4 0.2 1.4 0.9 2.2 1.1C2.9 1.4 3.6 1.6 4.3 1.6C5.1 1.6 5.8 1.4 6.5 1.1C7.2 0.9 7.9 0.4 8.7 0C9.4 -0.4 10.1 -0.9 10.8 -1.1C11.6 -1.4 12.3 -1.6 13 -1.6C13.7 -1.6 14.4 -1.4 15.2 -1.1C15.9 -0.9 16.6 -0.4 17.3 -0C18.1 0.4 18.8 0.9 19.5 1.1C20.2 1.4 20.9 1.6 21.7 1.6C22.4 1.6 23.1 1.4 23.8 1.1C24.6 0.9 25.6 0.2 26 0" transform="translate(968.8 249.1) rotate(18)" stroke="#E07A2C" stroke-width="1.0" fill="none"/>
<path d="M0 0C0.4 0.2 1.4 0.9 2.2 1.1C2.9 1.4 3.6 1.6 4.3 1.6C5.1 1.6 5.8 1.4 6.5 1.1C7.2 0.9 7.9 0.4 8.7 0C9.4 -0.4 10.1 -0.9 10.8 -1.1C11.6 -1.4 12.3 -1.6 13 -1.6C13.7 -1.6 14.4 -1.4 15.2 -1.1C15.9 -0.9 16.6 -0.4 17.3 -0C18.1 0.4 18.8 0.9 19.5 1.1C20.2 1.4 20.9 1.6 21.7 1.6C22.4 1.6 23.1 1.4 23.8 1.1C24.6 0.9 25.6 0.2 26 0" transform="translate(1012.5 255.8) rotate(-22)" stroke="#E07A2C" stroke-width="1.0" fill="none"/>
<path d="M0 0C0.4 0.2 1.4 0.9 2.2 1.1C2.9 1.4 3.6 1.6 4.3 1.6C5.1 1.6 5.8 1.4 6.5 1.1C7.2 0.9 7.9 0.4 8.7 0C9.4 -0.4 10.1 -0.9 10.8 -1.1C11.6 -1.4 12.3 -1.6 13 -1.6C13.7 -1.6 14.4 -1.4 15.2 -1.1C15.9 -0.9 16.6 -0.4 17.3 -0C18.1 0.4 18.8 0.9 19.5 1.1C20.2 1.4 20.9 1.6 21.7 1.6C22.4 1.6 23.1 1.4 23.8 1.1C24.6 0.9 25.6 0.2 26 0" transform="translate(977.8 269.4) rotate(-22)" stroke="#E07A2C" stroke-width="1.0" fill="none"/>
<path d="M0 0C0.4 0.2 1.4 0.9 2.2 1.1C2.9 1.4 3.6 1.6 4.3 1.6C5.1 1.6 5.8 1.4 6.5 1.1C7.2 0.9 7.9 0.4 8.7 0C9.4 -0.4 10.1 -0.9 10.8 -1.1C11.6 -1.4 12.3 -1.6 13 -1.6C13.7 -1.6 14.4 -1.4 15.2 -1.1C15.9 -0.9 16.6 -0.4 17.3 -0C18.1 0.4 18.8 0.9 19.5 1.1C20.2 1.4 20.9 1.6 21.7 1.6C22.4 1.6 23.1 1.4 23.8 1.1C24.6 0.9 25.6 0.2 26 0" transform="translate(1011.3 264.9) rotate(18)" stroke="#E07A2C" stroke-width="1.0" fill="none"/>
<circle cx="989.9" cy="246" r="5" fill="url(#sphG)"/>
<circle cx="980.5" cy="245.3" r="5" fill="url(#sphY)"/>
<circle cx="1017.8" cy="246.8" r="5" fill="url(#sphG)"/>
<circle cx="1008.7" cy="244.5" r="5" fill="url(#sphY)"/>
<circle cx="970.3" cy="264.1" r="5" fill="url(#sphG)"/>
<circle cx="960.5" cy="263.4" r="5" fill="url(#sphY)"/>
<circle cx="1033.9" cy="262.6" r="5" fill="url(#sphG)"/>
<circle cx="1024.5" cy="264.1" r="5" fill="url(#sphY)"/>
<circle cx="986.9" cy="275.1" r="5" fill="url(#sphG)"/>
<circle cx="977.1" cy="275.4" r="5" fill="url(#sphY)"/>
<circle cx="1015" cy="278.7" r="5" fill="url(#sphG)"/>
<circle cx="1005.7" cy="277.7" r="5" fill="url(#sphY)"/>
<polygon points="1001.1,225.7 1001.1,246.8 995.8,246.8 1004.5,262.8 1013.2,246.8 1007.9,246.8 1007.9,225.7" fill="#ED7D31"/>
<polygon points="964.5,226.3 974.9,240.3 973,241.7 980.2,246.3 977.8,238.1 975.9,239.5 965.5,225.5" fill="#000"/>
<text x="938.6" y="219.8" font-size="20.5" text-anchor="start" fill="#000" textLength="55.5" lengthAdjust="spacingAndGlyphs">dipole</text>
<text x="999.5" y="339.5" font-size="20.5" text-anchor="middle" fill="#000" textLength="125.5" lengthAdjust="spacingAndGlyphs">Magnetic loss</text>
<rect x="1111.9" y="207.6" width="95.3" height="13.6" fill="#153F26"/>
<rect x="1111.9" y="221.2" width="95.3" height="19.9" fill="#B1B1B1"/>
<rect x="1111.9" y="241.1" width="95.3" height="44.1" fill="#0070C0"/>
<rect x="1111.9" y="285.2" width="95.3" height="21.1" fill="#000"/>
<path d="M1111.9 221.2H1207.2" stroke="#111" stroke-width="1.3"/>
<path d="M1111.9 241.1H1207.2" stroke="#111" stroke-width="1.3"/>
<path d="M1111.9 285.2H1207.2" stroke="#111" stroke-width="1.3"/>
<rect x="1111.9" y="207.6" width="95.3" height="98.7" fill="none" stroke="#111" stroke-width="1.3"/>
<path d="M0 0C0.2 0.2 0.9 0.9 1.4 1.1C1.9 1.4 2.4 1.6 2.8 1.6C3.3 1.6 3.8 1.4 4.2 1.1C4.7 0.9 5.2 0.4 5.7 0C6.1 -0.4 6.6 -0.9 7.1 -1.1C7.6 -1.4 8 -1.6 8.5 -1.6C9 -1.6 9.4 -1.4 9.9 -1.1C10.4 -0.9 10.9 -0.4 11.3 -0C11.8 0.4 12.3 0.9 12.8 1.1C13.2 1.4 13.7 1.6 14.2 1.6C14.6 1.6 15.1 1.4 15.6 1.1C16.1 0.9 16.8 0.2 17 0" transform="translate(1135 217) rotate(-18)" stroke="#E8873A" stroke-width="1.0" fill="none"/>
<path d="M0 0C0.2 0.2 0.9 0.9 1.4 1.1C1.9 1.4 2.4 1.6 2.8 1.6C3.3 1.6 3.8 1.4 4.2 1.1C4.7 0.9 5.2 0.4 5.7 0C6.1 -0.4 6.6 -0.9 7.1 -1.1C7.6 -1.4 8 -1.6 8.5 -1.6C9 -1.6 9.4 -1.4 9.9 -1.1C10.4 -0.9 10.9 -0.4 11.3 -0C11.8 0.4 12.3 0.9 12.8 1.1C13.2 1.4 13.7 1.6 14.2 1.6C14.6 1.6 15.1 1.4 15.6 1.1C16.1 0.9 16.8 0.2 17 0" transform="translate(1163 213) rotate(14)" stroke="#E8873A" stroke-width="1.0" fill="none"/>
<path d="M0 0C0.2 0.2 0.9 0.9 1.4 1.1C1.9 1.4 2.4 1.6 2.8 1.6C3.3 1.6 3.8 1.4 4.2 1.1C4.7 0.9 5.2 0.4 5.7 0C6.1 -0.4 6.6 -0.9 7.1 -1.1C7.6 -1.4 8 -1.6 8.5 -1.6C9 -1.6 9.4 -1.4 9.9 -1.1C10.4 -0.9 10.9 -0.4 11.3 -0C11.8 0.4 12.3 0.9 12.8 1.1C13.2 1.4 13.7 1.6 14.2 1.6C14.6 1.6 15.1 1.4 15.6 1.1C16.1 0.9 16.8 0.2 17 0" transform="translate(1134 246) rotate(14)" stroke="#E8873A" stroke-width="1.0" fill="none"/>
<path d="M0 0C0.2 0.2 0.9 0.9 1.4 1.1C1.9 1.4 2.4 1.6 2.8 1.6C3.3 1.6 3.8 1.4 4.2 1.1C4.7 0.9 5.2 0.4 5.7 0C6.1 -0.4 6.6 -0.9 7.1 -1.1C7.6 -1.4 8 -1.6 8.5 -1.6C9 -1.6 9.4 -1.4 9.9 -1.1C10.4 -0.9 10.9 -0.4 11.3 -0C11.8 0.4 12.3 0.9 12.8 1.1C13.2 1.4 13.7 1.6 14.2 1.6C14.6 1.6 15.1 1.4 15.6 1.1C16.1 0.9 16.8 0.2 17 0" transform="translate(1166 251) rotate(-18)" stroke="#E8873A" stroke-width="1.0" fill="none"/>
<path d="M0 0C0.2 0.2 0.9 0.9 1.4 1.1C1.9 1.4 2.4 1.6 2.8 1.6C3.3 1.6 3.8 1.4 4.2 1.1C4.7 0.9 5.2 0.4 5.7 0C6.1 -0.4 6.6 -0.9 7.1 -1.1C7.6 -1.4 8 -1.6 8.5 -1.6C9 -1.6 9.4 -1.4 9.9 -1.1C10.4 -0.9 10.9 -0.4 11.3 -0C11.8 0.4 12.3 0.9 12.8 1.1C13.2 1.4 13.7 1.6 14.2 1.6C14.6 1.6 15.1 1.4 15.6 1.1C16.1 0.9 16.8 0.2 17 0" transform="translate(1133 261) rotate(-6)" stroke="#E8873A" stroke-width="1.0" fill="none"/>
<path d="M0 0C0.2 0.2 0.9 0.9 1.4 1.1C1.9 1.4 2.4 1.6 2.8 1.6C3.3 1.6 3.8 1.4 4.2 1.1C4.7 0.9 5.2 0.4 5.7 0C6.1 -0.4 6.6 -0.9 7.1 -1.1C7.6 -1.4 8 -1.6 8.5 -1.6C9 -1.6 9.4 -1.4 9.9 -1.1C10.4 -0.9 10.9 -0.4 11.3 -0C11.8 0.4 12.3 0.9 12.8 1.1C13.2 1.4 13.7 1.6 14.2 1.6C14.6 1.6 15.1 1.4 15.6 1.1C16.1 0.9 16.8 0.2 17 0" transform="translate(1165 260) rotate(-4)" stroke="#E8873A" stroke-width="1.0" fill="none"/>
<path d="M0 0C0.2 0.2 0.9 0.9 1.4 1.1C1.9 1.4 2.4 1.6 2.8 1.6C3.3 1.6 3.8 1.4 4.2 1.1C4.7 0.9 5.2 0.4 5.7 0C6.1 -0.4 6.6 -0.9 7.1 -1.1C7.6 -1.4 8 -1.6 8.5 -1.6C9 -1.6 9.4 -1.4 9.9 -1.1C10.4 -0.9 10.9 -0.4 11.3 -0C11.8 0.4 12.3 0.9 12.8 1.1C13.2 1.4 13.7 1.6 14.2 1.6C14.6 1.6 15.1 1.4 15.6 1.1C16.1 0.9 16.8 0.2 17 0" transform="translate(1134 277) rotate(-20)" stroke="#E8873A" stroke-width="1.0" fill="none"/>
<path d="M0 0C0.2 0.2 0.9 0.9 1.4 1.1C1.9 1.4 2.4 1.6 2.8 1.6C3.3 1.6 3.8 1.4 4.2 1.1C4.7 0.9 5.2 0.4 5.7 0C6.1 -0.4 6.6 -0.9 7.1 -1.1C7.6 -1.4 8 -1.6 8.5 -1.6C9 -1.6 9.4 -1.4 9.9 -1.1C10.4 -0.9 10.9 -0.4 11.3 -0C11.8 0.4 12.3 0.9 12.8 1.1C13.2 1.4 13.7 1.6 14.2 1.6C14.6 1.6 15.1 1.4 15.6 1.1C16.1 0.9 16.8 0.2 17 0" transform="translate(1166 273) rotate(12)" stroke="#E8873A" stroke-width="1.0" fill="none"/>
<path d="M0 0C0.2 0.2 0.9 0.9 1.4 1.1C1.9 1.4 2.4 1.6 2.8 1.6C3.3 1.6 3.8 1.4 4.2 1.1C4.7 0.9 5.2 0.4 5.7 0C6.1 -0.4 6.6 -0.9 7.1 -1.1C7.6 -1.4 8 -1.6 8.5 -1.6C9 -1.6 9.4 -1.4 9.9 -1.1C10.4 -0.9 10.9 -0.4 11.3 -0C11.8 0.4 12.3 0.9 12.8 1.1C13.2 1.4 13.7 1.6 14.2 1.6C14.6 1.6 15.1 1.4 15.6 1.1C16.1 0.9 16.8 0.2 17 0" transform="translate(1133 298) rotate(-20)" stroke="#E8873A" stroke-width="1.0" fill="none"/>
<path d="M0 0C0.2 0.2 0.9 0.9 1.4 1.1C1.9 1.4 2.4 1.6 2.8 1.6C3.3 1.6 3.8 1.4 4.2 1.1C4.7 0.9 5.2 0.4 5.7 0C6.1 -0.4 6.6 -0.9 7.1 -1.1C7.6 -1.4 8 -1.6 8.5 -1.6C9 -1.6 9.4 -1.4 9.9 -1.1C10.4 -0.9 10.9 -0.4 11.3 -0C11.8 0.4 12.3 0.9 12.8 1.1C13.2 1.4 13.7 1.6 14.2 1.6C14.6 1.6 15.1 1.4 15.6 1.1C16.1 0.9 16.8 0.2 17 0" transform="translate(1167 294) rotate(12)" stroke="#E8873A" stroke-width="1.0" fill="none"/>
<polygon points="1156,202.8 1156,283.6 1150.5,283.6 1158.9,299.6 1167.3,283.6 1161.8,283.6 1161.8,202.8" fill="#ED7D31"/>
<text x="1163.5" y="339.5" font-size="20.5" text-anchor="middle" fill="#000" textLength="128.5" lengthAdjust="spacingAndGlyphs">Dielectric loss</text>
<text x="417.6" y="61" font-size="49" text-anchor="start" fill="#000">b</text>
<!-- panel c tiles -->
<polygon points="100.6,555.3 149.3,581.2 149.3,595.8 100.6,569.9" fill="#5583BC"/>
<polygon points="199,555 149.3,581.2 149.3,595.8 199,569.6" fill="#426FA8"/>
<path d="M100.6 559.7L149.3 585.6L199 559.4" fill="none" stroke="#9a93ad" stroke-width="0.9" stroke-dasharray="5 3"/>
<path d="M100.6 564.4L149.3 590.3L199 564.1" fill="none" stroke="#3566a0" stroke-width="0.9" stroke-dasharray="5 3"/>
<path d="M100.6 569.9L149.3 595.8L199 569.6" fill="none" stroke="#1d2d44" stroke-width="0.9"/>
<g transform="matrix(49.7 26 -48.7 26.3 149.3 529)">
<rect width="1" height="1" fill="#2F6C10"/>
<rect x="0.41" y="0.5" width="0.16" height="0.07" fill="#E8960C"/>
<rect x="0.48" y="0.56" width="0.11" height="0.06" fill="#E8960C"/>
<rect x="0.46" y="0.53" width="0.1" height="0.08" fill="#E8960C"/>
<rect x="0.5" y="0.58" width="0.07" height="0.06" fill="#E8960C"/>
<rect x="0.57" y="0.71" width="0.09" height="0.07" fill="#FFFFFF"/>
<rect x="0.61" y="0.76" width="0.06" height="0.05" fill="#FFFFFF"/>
<rect x="0.08" y="0.73" width="0.14" height="0.05" fill="#FFFFFF"/>
<rect x="0.15" y="0.77" width="0.1" height="0.04" fill="#FFFFFF"/>
<rect x="0.88" y="0.87" width="0.14" height="0.08" fill="#555555"/>
<rect x="0.95" y="0.92" width="0.1" height="0.06" fill="#555555"/>
<rect x="0.14" y="0.01" width="0.13" height="0.05" fill="#E8960C"/>
<rect x="0.2" y="0.05" width="0.09" height="0.04" fill="#E8960C"/>
<rect x="0.17" y="0.22" width="0.08" height="0.07" fill="#E8960C"/>
<rect x="0.21" y="0.27" width="0.06" height="0.06" fill="#E8960C"/>
<rect x="0.4" y="0.76" width="0.13" height="0.08" fill="#FFFFFF"/>
<rect x="0.45" y="0.82" width="0.09" height="0.07" fill="#FFFFFF"/>
<rect x="0.45" y="0.6" width="0.12" height="0.06" fill="#FFFFFF"/>
<rect x="0.5" y="0.64" width="0.08" height="0.05" fill="#FFFFFF"/>
<rect x="0.9" y="0.9" width="0.16" height="0.09" fill="#555555"/>
<rect x="0.97" y="0.96" width="0.11" height="0.07" fill="#555555"/>
<rect x="0.28" y="0.21" width="0.11" height="0.05" fill="#E8960C"/>
<rect x="0.33" y="0.24" width="0.07" height="0.04" fill="#E8960C"/>
<rect x="0.69" y="0.36" width="0.16" height="0.07" fill="#E8960C"/>
<rect x="0.76" y="0.41" width="0.11" height="0.06" fill="#E8960C"/>
<rect x="0.86" y="0.76" width="0.08" height="0.06" fill="#FFFFFF"/>
<rect x="0.9" y="0.8" width="0.06" height="0.05" fill="#FFFFFF"/>
<rect x="0.82" y="0.42" width="0.17" height="0.07" fill="#FFFFFF"/>
<rect x="0.89" y="0.47" width="0.12" height="0.06" fill="#FFFFFF"/>
<rect x="0.07" y="0.57" width="0.15" height="0.06" fill="#555555"/>
<rect x="0.13" y="0.61" width="0.11" height="0.05" fill="#555555"/>
<rect x="0.08" y="0.3" width="0.17" height="0.09" fill="#E8960C"/>
<rect x="0.15" y="0.36" width="0.12" height="0.07" fill="#E8960C"/>
<rect x="0.11" y="0.22" width="0.09" height="0.05" fill="#E8960C"/>
<rect x="0.15" y="0.26" width="0.06" height="0.04" fill="#E8960C"/>
<rect x="0.72" y="0.16" width="0.13" height="0.07" fill="#FFFFFF"/>
<rect x="0.78" y="0.21" width="0.09" height="0.06" fill="#FFFFFF"/>
<rect x="0.17" y="0.66" width="0.09" height="0.08" fill="#FFFFFF"/>
<rect x="0.21" y="0.72" width="0.06" height="0.07" fill="#FFFFFF"/>
<rect x="0.1" y="0.38" width="0.1" height="0.06" fill="#555555"/>
<rect x="0.15" y="0.42" width="0.07" height="0.05" fill="#555555"/>
<rect x="0.87" y="0.72" width="0.11" height="0.09" fill="#E8960C"/>
<rect x="0.92" y="0.79" width="0.08" height="0.08" fill="#E8960C"/>
<rect x="0.19" y="0.35" width="0.16" height="0.08" fill="#E8960C"/>
<rect x="0.26" y="0.41" width="0.11" height="0.07" fill="#E8960C"/>
<rect x="0.09" y="0.89" width="0.1" height="0.06" fill="#FFFFFF"/>
<rect x="0.13" y="0.93" width="0.07" height="0.05" fill="#FFFFFF"/>
<rect x="0.7" y="0.3" width="0.11" height="0.05" fill="#FFFFFF"/>
<rect x="0.74" y="0.33" width="0.07" height="0.04" fill="#FFFFFF"/>
<rect x="0.08" y="0.52" width="0.1" height="0.08" fill="#555555"/>
<rect x="0.13" y="0.58" width="0.07" height="0.06" fill="#555555"/>
<rect x="0.33" y="0.41" width="0.17" height="0.07" fill="#E8960C"/>
<rect x="0.41" y="0.46" width="0.12" height="0.06" fill="#E8960C"/>
<rect x="0.52" y="0.78" width="0.1" height="0.06" fill="#E8960C"/>
<rect x="0.56" y="0.82" width="0.07" height="0.05" fill="#E8960C"/>
<rect x="0.82" y="0.74" width="0.1" height="0.06" fill="#FFFFFF"/>
<rect x="0.86" y="0.78" width="0.07" height="0.05" fill="#FFFFFF"/>
<rect x="0.67" y="0.85" width="0.1" height="0.1" fill="#FFFFFF"/>
<rect x="0.71" y="0.91" width="0.07" height="0.08" fill="#FFFFFF"/>
<rect x="0.79" y="0.54" width="0.12" height="0.06" fill="#555555"/>
<rect x="0.85" y="0.58" width="0.08" height="0.04" fill="#555555"/>
<rect x="0.03" y="0.87" width="0.1" height="0.09" fill="#E8960C"/>
<rect x="0.08" y="0.93" width="0.07" height="0.07" fill="#E8960C"/>
<rect x="0.23" y="0.74" width="0.13" height="0.06" fill="#E8960C"/>
<rect x="0.29" y="0.79" width="0.09" height="0.05" fill="#E8960C"/>
<rect x="0.16" y="0.65" width="0.09" height="0.06" fill="#FFFFFF"/>
<rect x="0.2" y="0.69" width="0.06" height="0.05" fill="#FFFFFF"/>
<rect x="0.5" y="0.77" width="0.14" height="0.06" fill="#FFFFFF"/>
<rect x="0.56" y="0.81" width="0.09" height="0.05" fill="#FFFFFF"/>
<rect x="0.83" y="0.18" width="0.08" height="0.06" fill="#555555"/>
<rect x="0.86" y="0.23" width="0.06" height="0.05" fill="#555555"/>
<rect x="0.4" y="0.05" width="0.1" height="0.07" fill="#E8960C"/>
<rect x="0.44" y="0.1" width="0.07" height="0.05" fill="#E8960C"/>
<rect x="0.51" y="0.12" width="0.11" height="0.09" fill="#E8960C"/>
<rect x="0.57" y="0.18" width="0.08" height="0.08" fill="#E8960C"/>
<rect x="0.88" y="0.59" width="0.14" height="0.08" fill="#FFFFFF"/>
<rect x="0.95" y="0.65" width="0.1" height="0.06" fill="#FFFFFF"/>
<rect x="0.13" y="0.03" width="0.08" height="0.1" fill="#FFFFFF"/>
<rect x="0.16" y="0.1" width="0.06" height="0.08" fill="#FFFFFF"/>
<rect x="0.63" y="0.87" width="0.08" height="0.08" fill="#555555"/>
<rect x="0.67" y="0.92" width="0.06" height="0.07" fill="#555555"/>
<rect x="0.43" y="0.66" width="0.11" height="0.1" fill="#E8960C"/>
<rect x="0.48" y="0.73" width="0.08" height="0.08" fill="#E8960C"/>
<rect x="0.07" y="0.49" width="0.15" height="0.1" fill="#E8960C"/>
<rect x="0.13" y="0.56" width="0.1" height="0.08" fill="#E8960C"/>
<rect x="0.66" y="0.63" width="0.15" height="0.1" fill="#FFFFFF"/>
<rect x="0.73" y="0.7" width="0.11" height="0.08" fill="#FFFFFF"/>
<rect x="0.32" y="0.62" width="0.16" height="0.09" fill="#FFFFFF"/>
<rect x="0.39" y="0.68" width="0.11" height="0.07" fill="#FFFFFF"/>
<rect x="0.38" y="0.71" width="0.16" height="0.08" fill="#555555"/>
<rect x="0.45" y="0.77" width="0.11" height="0.06" fill="#555555"/>
<rect x="0.56" y="0.34" width="0.13" height="0.08" fill="#E8960C"/>
<rect x="0.62" y="0.4" width="0.09" height="0.06" fill="#E8960C"/>
</g>
<polygon points="205.3,558.3 254.5,584.4 254.5,596.2 205.3,570.1" fill="#5583BC"/>
<polygon points="303.5,557.6 254.5,584.4 254.5,596.2 303.5,569.4" fill="#426FA8"/>
<path d="M205.3 561.8L254.5 587.9L303.5 561.1" fill="none" stroke="#9a93ad" stroke-width="0.9" stroke-dasharray="5 3"/>
<path d="M205.3 565.6L254.5 591.7L303.5 564.9" fill="none" stroke="#3566a0" stroke-width="0.9" stroke-dasharray="5 3"/>
<path d="M205.3 570.1L254.5 596.2L303.5 569.4" fill="none" stroke="#1d2d44" stroke-width="0.9"/>
<g transform="matrix(49.3 26.4 -48.9 27.1 254.2 531.2)">
<rect width="1" height="1" fill="#5686BF"/>
<rect x="0.05" y="0.05" width="0.255" height="0.255" fill="#7FA9D8" stroke="#A3C294" stroke-width="0.02"/>
<rect x="0.1" y="0.1" width="0.15" height="0.15" fill="#8AB2E0" stroke="#A3C294" stroke-width="0.016"/>
<rect x="0.05" y="0.37" width="0.255" height="0.255" fill="#7FA9D8" stroke="#A3C294" stroke-width="0.02"/>
<rect x="0.1" y="0.42" width="0.15" height="0.15" fill="#8AB2E0" stroke="#A3C294" stroke-width="0.016"/>
<rect x="0.05" y="0.69" width="0.255" height="0.255" fill="#7FA9D8" stroke="#A3C294" stroke-width="0.02"/>
<rect x="0.1" y="0.75" width="0.15" height="0.15" fill="#8AB2E0" stroke="#A3C294" stroke-width="0.016"/>
<rect x="0.37" y="0.05" width="0.255" height="0.255" fill="#7FA9D8" stroke="#A3C294" stroke-width="0.02"/>
<rect x="0.42" y="0.1" width="0.15" height="0.15" fill="#8AB2E0" stroke="#A3C294" stroke-width="0.016"/>
<rect x="0.37" y="0.37" width="0.255" height="0.255" fill="#7FA9D8" stroke="#A3C294" stroke-width="0.02"/>
<rect x="0.42" y="0.42" width="0.15" height="0.15" fill="#8AB2E0" stroke="#A3C294" stroke-width="0.016"/>
<rect x="0.37" y="0.69" width="0.255" height="0.255" fill="#7FA9D8" stroke="#A3C294" stroke-width="0.02"/>
<rect x="0.42" y="0.75" width="0.15" height="0.15" fill="#8AB2E0" stroke="#A3C294" stroke-width="0.016"/>
<rect x="0.69" y="0.05" width="0.255" height="0.255" fill="#7FA9D8" stroke="#A3C294" stroke-width="0.02"/>
<rect x="0.75" y="0.1" width="0.15" height="0.15" fill="#8AB2E0" stroke="#A3C294" stroke-width="0.016"/>
<rect x="0.69" y="0.37" width="0.255" height="0.255" fill="#7FA9D8" stroke="#A3C294" stroke-width="0.02"/>
<rect x="0.75" y="0.42" width="0.15" height="0.15" fill="#8AB2E0" stroke="#A3C294" stroke-width="0.016"/>
<rect x="0.69" y="0.69" width="0.255" height="0.255" fill="#7FA9D8" stroke="#A3C294" stroke-width="0.02"/>
<rect x="0.75" y="0.75" width="0.15" height="0.15" fill="#8AB2E0" stroke="#A3C294" stroke-width="0.016"/>
</g>
<polygon points="310.3,559.1 358.8,585.4 358.8,593.8 310.3,567.5" fill="#5583BC"/>
<polygon points="408.2,559.1 358.8,585.4 358.8,593.8 408.2,567.5" fill="#426FA8"/>
<path d="M310.3 561.6L358.8 587.9L408.2 561.6" fill="none" stroke="#9a93ad" stroke-width="0.9" stroke-dasharray="5 3"/>
<path d="M310.3 564.3L358.8 590.6L408.2 564.3" fill="none" stroke="#3566a0" stroke-width="0.9" stroke-dasharray="5 3"/>
<path d="M310.3 567.5L358.8 593.8L408.2 567.5" fill="none" stroke="#1d2d44" stroke-width="0.9"/>
<g transform="matrix(49.4 26.4 -48.5 26.4 358.8 532.7)">
<rect width="1" height="1" fill="#4F84C0"/>
<rect x="0.04" y="0.04" width="0.265" height="0.265" fill="#FBF9D6" stroke="#EDE24A" stroke-width="0.024"/>
<rect x="0.08" y="0.08" width="0.185" height="0.185" fill="#FEFDEC" stroke="#EDE24A" stroke-width="0.02"/>
<rect x="0.12" y="0.12" width="0.11" height="0.11" fill="#fff" stroke="#F3EC80" stroke-width="0.014"/>
<rect x="0.04" y="0.37" width="0.265" height="0.265" fill="#FBF9D6" stroke="#EDE24A" stroke-width="0.024"/>
<rect x="0.08" y="0.41" width="0.185" height="0.185" fill="#FEFDEC" stroke="#EDE24A" stroke-width="0.02"/>
<rect x="0.12" y="0.45" width="0.11" height="0.11" fill="#fff" stroke="#F3EC80" stroke-width="0.014"/>
<rect x="0.04" y="0.69" width="0.265" height="0.265" fill="#FBF9D6" stroke="#EDE24A" stroke-width="0.024"/>
<rect x="0.08" y="0.73" width="0.185" height="0.185" fill="#FEFDEC" stroke="#EDE24A" stroke-width="0.02"/>
<rect x="0.12" y="0.77" width="0.11" height="0.11" fill="#fff" stroke="#F3EC80" stroke-width="0.014"/>
<rect x="0.37" y="0.04" width="0.265" height="0.265" fill="#FBF9D6" stroke="#EDE24A" stroke-width="0.024"/>
<rect x="0.41" y="0.08" width="0.185" height="0.185" fill="#FEFDEC" stroke="#EDE24A" stroke-width="0.02"/>
<rect x="0.45" y="0.12" width="0.11" height="0.11" fill="#fff" stroke="#F3EC80" stroke-width="0.014"/>
<rect x="0.37" y="0.37" width="0.265" height="0.265" fill="#FBF9D6" stroke="#EDE24A" stroke-width="0.024"/>
<rect x="0.41" y="0.41" width="0.185" height="0.185" fill="#FEFDEC" stroke="#EDE24A" stroke-width="0.02"/>
<rect x="0.45" y="0.45" width="0.11" height="0.11" fill="#fff" stroke="#F3EC80" stroke-width="0.014"/>
<rect x="0.37" y="0.69" width="0.265" height="0.265" fill="#FBF9D6" stroke="#EDE24A" stroke-width="0.024"/>
<rect x="0.41" y="0.73" width="0.185" height="0.185" fill="#FEFDEC" stroke="#EDE24A" stroke-width="0.02"/>
<rect x="0.45" y="0.77" width="0.11" height="0.11" fill="#fff" stroke="#F3EC80" stroke-width="0.014"/>
<rect x="0.69" y="0.04" width="0.265" height="0.265" fill="#FBF9D6" stroke="#EDE24A" stroke-width="0.024"/>
<rect x="0.73" y="0.08" width="0.185" height="0.185" fill="#FEFDEC" stroke="#EDE24A" stroke-width="0.02"/>
<rect x="0.77" y="0.12" width="0.11" height="0.11" fill="#fff" stroke="#F3EC80" stroke-width="0.014"/>
<rect x="0.69" y="0.37" width="0.265" height="0.265" fill="#FBF9D6" stroke="#EDE24A" stroke-width="0.024"/>
<rect x="0.73" y="0.41" width="0.185" height="0.185" fill="#FEFDEC" stroke="#EDE24A" stroke-width="0.02"/>
<rect x="0.77" y="0.45" width="0.11" height="0.11" fill="#fff" stroke="#F3EC80" stroke-width="0.014"/>
<rect x="0.69" y="0.69" width="0.265" height="0.265" fill="#FBF9D6" stroke="#EDE24A" stroke-width="0.024"/>
<rect x="0.73" y="0.73" width="0.185" height="0.185" fill="#FEFDEC" stroke="#EDE24A" stroke-width="0.02"/>
<rect x="0.77" y="0.77" width="0.11" height="0.11" fill="#fff" stroke="#F3EC80" stroke-width="0.014"/>
</g>
<path d="M172.4 495.5L158.1 536.1" stroke="#000" stroke-width="2.4" stroke-dasharray="7.5 3.5" fill="none"/><polygon points="155.6,543.2 153.9,530.4 158.1,536.1 164.9,534.3" fill="#000"/>
<path d="M245 493.5L265.3 541.5" stroke="#FF0000" stroke-width="2.4" stroke-dasharray="7.5 3.5" fill="none"/><polygon points="268.2,548.4 258.4,540.1 265.3,541.5 269.1,535.5" fill="#FF0000"/>
<path d="M298.4 454L357.6 542" stroke="#0000FF" stroke-width="2.4" stroke-dasharray="7.5 3.5" fill="none"/><polygon points="361.8,548.2 350.6,541.9 357.6,542 360.2,535.4" fill="#0000FF"/>
<!-- panel d -->
<rect x="504.4" y="455.7" width="321.6" height="60.2" fill="#FFE699"/>
<path d="M504.4 485.8H826" stroke="#000" stroke-width="2" stroke-dasharray="13 8" fill="none"/>
<g fill="none" stroke-width="1.8" stroke-dasharray="6 4">
<path d="M504.4 497.3H826" stroke="#000"/>
<path d="M504.4 519.9H826" stroke="#FF2A2A"/>
<path d="M504.4 546H826" stroke="#1414FF"/>
</g>
<g clip-path="url(#clipD)" fill="none" stroke-linejoin="round" stroke-width="1.9">
<path d="M504.5 600.3C505.3 598.2 508 593.3 509.7 587.9C511.4 582.6 513 574.8 514.7 568.2C516.3 561.6 517.9 553.6 519.6 548.5C521.2 543.4 522.7 540.2 524.5 537.8C526.3 535.4 528.4 534.5 530.3 534.2C532.2 533.9 533.7 534.7 536 536.2C538.4 537.6 541.2 540.4 544.2 542.7C547.3 545.1 550.8 548.1 554.1 550.1C557.4 552.1 560.8 553.7 564 554.7C567.1 555.8 570.3 556.3 573 556.2C575.8 556.1 578.1 555.7 580.4 554.2C582.7 552.8 584.8 550.8 587 547.7C589.2 544.5 591.4 539.2 593.6 535.3C595.8 531.5 598.1 527 600.1 524.7C602.2 522.3 604.1 521.3 605.9 521C607.7 520.8 609 521.5 610.8 523C612.6 524.6 614.5 527.5 616.6 530.4C618.6 533.3 620.7 537 623.2 540.3C625.6 543.6 628.4 547.5 631.4 550.1C634.4 552.8 637.8 555 641.2 556.4C644.7 557.8 648.8 558.2 651.9 558.4C655 558.5 657.6 557.9 660 557.1C662.4 556.4 664.4 555.2 666.6 553.8C668.8 552.5 671 551.1 673.2 548.9C675.3 546.7 677.5 543.8 679.7 540.7C681.9 537.5 684.1 533.7 686.3 530C688.5 526.3 690.7 521.5 692.9 518.5C695.1 515.5 697.3 513.2 699.5 511.9C701.6 510.6 704 510.3 706 510.6C708.1 510.9 710.1 511.8 711.8 513.6C713.4 515.3 714.7 518.4 715.9 521C717.1 523.6 718.1 527.1 719.2 529.2C720.3 531.2 720.8 532.2 722.5 533.3C724.1 534.4 726.6 534.7 729 535.8C731.5 536.8 734.5 538.2 737.3 539.9C740 541.5 742.7 543.4 745.5 545.6C748.2 547.8 751.5 550.8 753.7 553C755.9 555.2 757.1 557.4 758.6 558.8C760.1 560.1 761.2 560.7 762.7 561.2C764.2 561.8 765.6 561.4 767.7 562.1C769.7 562.7 772.5 564.2 775.1 565.3C777.7 566.5 780.5 568.2 783.3 569.1C786 570.1 789 570.7 791.5 571.1C794 571.5 795.6 571.6 798.1 571.4C800.5 571.2 803.6 570.6 806.3 569.9C809 569.3 811.3 568.5 814.5 567.3C817.8 566.1 823.8 563.6 825.7 562.9" stroke="#0000FF"/>
<path d="M504.5 600.3C505.2 597.1 507.3 589.2 508.9 581.4C510.5 573.6 512.3 561.6 513.8 553.4C515.3 545.2 516.6 537.7 517.9 532.1C519.3 526.4 520.6 522.5 522.1 519.7C523.5 517 525 515.8 526.5 515.6C528 515.5 529.4 517.1 531.1 518.9C532.8 520.7 534.8 524.1 536.8 526.3C538.9 528.5 541.1 530.8 543.4 532.1C545.8 533.3 548.5 534 550.8 534C553.2 534 555.2 533.5 557.4 532.1C559.6 530.6 561.8 528.5 564 525.5C566.2 522.5 568.5 517.9 570.5 514C572.6 510 574.5 504.8 576.3 501.6C578.1 498.5 579.7 496.4 581.2 495.1C582.8 493.8 584.3 493.5 585.7 493.9C587 494.3 588 495.3 589.5 497.5C590.9 499.8 592.6 504.1 594.4 507.4C596.2 510.7 598.2 514.2 600.1 517.3C602.1 520.3 604 523.6 605.9 525.5C607.8 527.3 609.9 528.6 611.6 528.4C613.4 528.3 614.7 526.5 616.6 524.7C618.5 522.8 621.1 520.4 623.2 517.3C625.2 514.1 627.3 509.9 628.9 505.8C630.5 501.6 631.6 496.6 633 492.6C634.4 488.6 635.6 484.3 637.1 481.9C638.6 479.5 640.4 478.1 642.1 478.1C643.7 478.1 645.2 479.2 647 481.9C648.8 484.6 651 490.3 652.7 494.2C654.5 498.2 655.9 501 657.7 505.8C659.4 510.5 661.7 518.3 663.3 522.6C664.9 526.9 665.9 529.5 667.4 531.6C668.9 533.8 670.3 535 672.3 535.8C674.4 536.5 677.4 536.4 679.7 536.2C682.1 536.1 684.1 535.7 686.3 534.9C688.5 534.2 690.8 533.3 692.9 531.6C694.9 530 696.8 528.2 698.6 525.1C700.4 521.9 701.8 517.3 703.6 512.7C705.3 508.2 707.4 502.3 709.3 497.9C711.2 493.6 713.2 489 715.1 486.4C716.9 483.9 718.8 482.8 720.5 482.8C722.1 482.8 723.4 484.2 724.9 486.4C726.5 488.7 728.1 493.4 729.9 496.3C731.6 499.2 733.7 501.4 735.6 503.7C737.5 506 739.6 507.7 741.4 510.3C743.2 512.9 744.7 516 746.3 519.3C747.9 522.6 749.5 526.7 751.2 530C753 533.3 754.9 536.4 757 539C759 541.6 761.1 543.8 763.6 545.6C766 547.4 768.8 548.8 771.8 549.7C774.8 550.7 778.6 551.4 781.6 551.4C784.7 551.4 787.4 550.8 789.9 549.7C792.3 548.6 794.2 547.1 796.4 544.8C798.6 542.5 800.8 539.2 803 535.8C805.2 532.3 807.4 528.4 809.6 524.2C811.8 520.1 814.1 515.5 816.2 511.1C818.2 506.7 820.3 501.5 821.9 497.9C823.5 494.4 825.1 491.1 825.7 489.7" stroke="#FF0000"/>
<path d="M504.5 600.3C505.1 597.7 506.7 592.2 508.1 584.7C509.5 577.1 511.5 564.9 513 555.1C514.5 545.2 515.9 532.9 517.1 525.5C518.4 518.1 519.2 514.2 520.4 510.7C521.6 507.2 523.2 505.2 524.5 504.6C525.9 504.1 527.1 505.6 528.6 507.4C530.1 509.2 531.8 513.2 533.6 515.6C535.3 518.1 537.1 520.6 539.3 522.2C541.5 523.8 544.2 525 546.7 525.2C549.2 525.3 551.8 524.5 554.1 523C556.4 521.6 558.5 519.3 560.7 516.4C562.9 513.6 565.1 510 567.3 505.8C569.5 501.5 571.9 495.2 573.8 491C575.8 486.7 577.3 482.6 578.8 480.3C580.2 477.9 581.2 476.8 582.4 477C583.6 477.1 584.8 478.5 586.2 481.1C587.5 483.7 588.8 488.6 590.3 492.6C591.8 496.6 593.6 501.6 595.2 504.9C596.8 508.2 598.5 510.6 600.1 512.3C601.8 514.1 603.4 515.2 605.1 515.3C606.7 515.4 608.1 515 610 513.2C611.9 511.3 614.4 508.1 616.6 504.1C618.8 500.1 621.2 494.2 623.2 489.3C625.1 484.4 626.7 478.6 628.1 474.5C629.5 470.4 630.6 466.7 631.7 464.7C632.8 462.6 633.6 461.9 634.7 462.2C635.7 462.5 636.8 463.4 637.9 466.3C639 469.2 640 474.5 641.2 479.5C642.5 484.4 644 490.7 645.3 495.9C646.7 501.1 647.9 506.6 649.5 510.7C651 514.8 652.5 518.1 654.4 520.5C656.3 523 659 524.5 661 525.5C662.9 526.5 663.9 527 665.9 526.6C667.9 526.3 670.8 525.2 673.2 523.5C675.5 521.7 677.5 519.5 679.7 516.1C681.9 512.7 684.1 507.9 686.3 502.9C688.5 498 690.8 491.4 692.9 486.5C694.9 481.6 697 476.4 698.6 473.4C700.3 470.3 701.6 469.4 702.7 468.4C703.8 467.4 704.2 467 705.2 467.3C706.2 467.5 707.3 468 708.5 470.1C709.7 472.2 711.1 476.1 712.6 479.9C714.1 483.8 715.9 489.1 717.5 493.1C719.2 497.1 720.8 500.8 722.5 503.8C724.1 506.8 725.8 509.4 727.4 511.2C729 512.9 730.8 513.5 732.3 514.5C733.8 515.4 735.1 515.5 736.4 516.9C737.8 518.3 739.2 521 740.5 522.7C741.9 524.3 743.4 526 744.7 526.8C745.9 527.6 746.7 527.6 747.9 527.6C749.2 527.6 750.3 527.7 752.1 526.8C753.8 525.8 756.4 524.2 758.6 521.8C760.8 519.5 763 516.5 765.2 512.8C767.4 509.1 769.6 505.1 771.8 499.7C774 494.2 776.2 487.9 778.4 479.9C780.5 472 783 460.2 784.9 452C786.8 443.8 788.2 436.6 789.9 430.6C791.5 424.6 793.2 419.2 794.8 415.8C796.4 412.5 798.2 410.8 799.7 410.6C801.2 410.3 802.5 411.4 803.8 414.2C805.2 417 806.4 421.3 807.9 427.3C809.5 433.4 811.2 442.7 812.9 450.3C814.5 458 816.2 467.1 817.8 473.4C819.5 479.7 821.4 484.6 822.7 488.2C824.1 491.7 825.2 493.6 825.7 494.7" stroke="#000"/>
</g>
<rect x="504.4" y="365.4" width="321.6" height="240.9" fill="none" stroke="#000" stroke-width="2"/>
<path d="M538.7 606.3v-6M538.7 365.4v6M581.6 606.3v-6M581.6 365.4v6M624.5 606.3v-6M624.5 365.4v6M667.3 606.3v-6M667.3 365.4v6M710.2 606.3v-6M710.2 365.4v6M753.1 606.3v-6M753.1 365.4v6M796 606.3v-6M796 365.4v6M517.3 606.3v-3.5M517.3 365.4v3.5M560.1 606.3v-3.5M560.1 365.4v3.5M603 606.3v-3.5M603 365.4v3.5M645.9 606.3v-3.5M645.9 365.4v3.5M688.8 606.3v-3.5M688.8 365.4v3.5M731.7 606.3v-3.5M731.7 365.4v3.5M774.5 606.3v-3.5M774.5 365.4v3.5M817.4 606.3v-3.5M817.4 365.4v3.5M504.4 606.3h6M826 606.3h-6M504.4 546.1h6M826 546.1h-6M504.4 485.8h6M826 485.8h-6M504.4 425.6h6M826 425.6h-6M504.4 365.4h6M826 365.4h-6M504.4 576.2h3.5M826 576.2h-3.5M504.4 516h3.5M826 516h-3.5M504.4 455.7h3.5M826 455.7h-3.5M504.4 395.5h3.5M826 395.5h-3.5" stroke="#000" stroke-width="1.6" fill="none"/>
<text x="538.7" y="627.8" font-size="21" text-anchor="middle" fill="#000">10</text>
<text x="581.6" y="627.8" font-size="21" text-anchor="middle" fill="#000">20</text>
<text x="624.5" y="627.8" font-size="21" text-anchor="middle" fill="#000">30</text>
<text x="667.3" y="627.8" font-size="21" text-anchor="middle" fill="#000">40</text>
<text x="710.2" y="627.8" font-size="21" text-anchor="middle" fill="#000">50</text>
<text x="753.1" y="627.8" font-size="21" text-anchor="middle" fill="#000">60</text>
<text x="796" y="627.8" font-size="21" text-anchor="middle" fill="#000">70</text>
<text x="498" y="612.8" font-size="21" text-anchor="end" fill="#000">0.0</text>
<text x="498" y="552.6" font-size="21" text-anchor="end" fill="#000">0.5</text>
<text x="498" y="492.3" font-size="21" text-anchor="end" fill="#000">1.0</text>
<text x="498" y="432.1" font-size="21" text-anchor="end" fill="#000">1.5</text>
<text x="498" y="371.9" font-size="21" text-anchor="end" fill="#000">2.0</text>
<text x="665.5" y="646.3" font-size="21.5" text-anchor="middle" fill="#000" textLength="159" lengthAdjust="spacingAndGlyphs">Frequency / GHz</text>
<text transform="translate(463.5 485.5) rotate(-90)" font-size="21.7" text-anchor="middle" textLength="136" lengthAdjust="spacingAndGlyphs">Impedance / Re</text>
<text x="416.6" y="378.7" font-size="49" text-anchor="start" fill="#000">d</text>
<!-- panel e -->
<rect x="923.1" y="455.4" width="313.1" height="60" fill="#FFE699"/>
<path d="M923.1 485.4H1236.2" stroke="#000" stroke-width="1.6" stroke-dasharray="13 8" fill="none"/>
<g fill="none" stroke-width="1.8" stroke-dasharray="6 4">
<path d="M923.1 462.7H1236.2" stroke="#000"/>
<path d="M923.1 465.2H1236.2" stroke="#FF2A2A"/>
<path d="M923.1 471.1H1236.2" stroke="#1414FF"/>
</g>
<g clip-path="url(#clipE)" fill="none" stroke-linejoin="round" stroke-width="1.9">
<path d="M923.1 514.4C923.6 517.1 925.1 525.6 926.4 530.8C927.6 536 929 541.9 930.5 545.6C932 549.3 933.8 553 935.4 553C937.1 553 938.8 549.3 940.3 545.6C941.8 541.9 943.1 535.5 944.5 530.8C945.8 526.2 947.1 522 948.6 517.7C950.1 513.3 951.7 507.9 953.5 504.6C955.3 501.3 957.2 499.4 959.2 498C961.3 496.6 963.6 496.5 965.8 496.4C968 496.3 969.9 496.7 972.4 497.5C974.9 498.3 977.9 499.4 980.6 501.3C983.4 503.2 986.2 506.2 988.8 508.7C991.4 511.2 994 514.3 996.2 516.1C998.4 517.9 1000.4 518.8 1002 519.4C1003.5 520 1004.4 520.3 1005.6 519.9C1006.8 519.5 1008.1 518.9 1009.4 516.9C1010.7 514.9 1012.1 511.3 1013.5 507.9C1014.9 504.5 1016.2 499.9 1017.6 496.4C1019 492.8 1020.3 488.8 1021.7 486.5C1023.1 484.2 1024.6 483.2 1025.8 482.4C1027.1 481.6 1027.9 481.4 1029.1 481.9C1030.3 482.5 1031.7 483.7 1033.2 485.7C1034.7 487.7 1036.4 491.2 1038.2 493.9C1039.9 496.6 1042 499.9 1043.9 502.1C1045.8 504.3 1047.7 506 1049.7 507.1C1051.6 508.1 1053.7 508.6 1055.4 508.4C1057.1 508.1 1058.4 506.6 1060 505.4C1061.6 504.2 1063.4 503.4 1064.9 501.3C1066.4 499.2 1067.8 496.4 1069 493.1C1070.3 489.8 1071.2 486 1072.3 481.6C1073.4 477.2 1074.5 470.9 1075.6 466.8C1076.7 462.7 1077.7 459 1078.9 456.9C1080.1 454.8 1081.4 454 1083 454.1C1084.7 454.3 1086.6 456 1088.8 457.7C1091 459.4 1093.6 461.4 1096.2 464.3C1098.8 467.2 1101.6 471 1104.4 475C1107.1 479 1109.9 483.9 1112.6 488.2C1115.3 492.4 1118.4 497.1 1120.8 500.5C1123.3 503.9 1125.5 506.7 1127.4 508.7C1129.3 510.7 1130.8 511.8 1132.3 512.5C1133.8 513.1 1135.1 513.1 1136.4 512.5C1137.8 511.8 1139 511.1 1140.5 508.7C1142.1 506.3 1143.8 502.5 1145.5 498C1147.1 493.5 1148.9 487.1 1150.4 481.6C1151.9 476.1 1153.2 470.3 1154.5 465.1C1155.9 459.9 1157.1 454.3 1158.6 450.3C1160.1 446.4 1161.9 443.4 1163.6 441.3C1165.2 439.2 1167 438.1 1168.5 437.5C1170 436.9 1171 436.9 1172.6 437.7C1174.2 438.5 1176 439.7 1178.4 442.1C1180.7 444.5 1183.6 448.3 1186.6 452C1189.6 455.7 1193.4 460.8 1196.4 464.3C1199.5 467.9 1201.6 470.5 1204.7 473.4C1207.7 476.2 1211.2 479.1 1214.5 481.6C1217.8 484 1220.8 486 1224.4 488.2C1228 490.3 1234.2 493.6 1236.2 494.7" stroke="#FF0000"/>
<path d="M923.1 508.6C923.8 510.7 925.8 517.4 927.2 521C928.6 524.5 929.8 527.8 931.3 530C932.8 532.2 934.6 534.2 936.2 534.1C937.9 534 939.5 531.8 941.2 529.2C942.8 526.6 944.5 521.9 946.1 518.5C947.7 515.1 949.1 512.1 951 508.7C952.9 505.3 955.1 501 957.6 498C960.1 495 963.1 492.5 965.8 490.6C968.6 488.8 971.3 487.8 974 487C976.8 486.2 979.5 486 982.3 486C985 486.1 987.7 486.5 990.5 487.3C993.2 488.2 996 489.5 998.7 491.1C1001.4 492.7 1004.2 494.9 1006.9 496.7C1009.7 498.5 1012.8 500.9 1015.1 502.1C1017.5 503.4 1019.4 503.9 1020.9 504.3C1022.4 504.6 1022.9 504.8 1024.2 504.3C1025.4 503.8 1026.6 503 1028.3 501.3C1029.9 499.6 1032.1 496.5 1034 493.9C1036 491.3 1037.9 488 1039.8 485.7C1041.7 483.4 1043.6 481.2 1045.5 479.9C1047.5 478.6 1049.4 478.2 1051.3 478C1053.2 477.7 1055.6 478.1 1057.1 478.3C1058.5 478.5 1058.1 478.4 1060 479.1C1061.9 479.8 1065.5 480.9 1068.2 482.4C1071 483.9 1073.7 486 1076.4 488.2C1079.2 490.3 1081.9 492.8 1084.7 495.5C1087.4 498.3 1090.4 502.3 1092.9 504.6C1095.3 506.9 1097.7 508.6 1099.5 509.5C1101.2 510.4 1102.1 510.3 1103.6 509.8C1105.1 509.4 1106.7 508.5 1108.5 507.1C1110.3 505.6 1112.3 503.9 1114.2 501.3C1116.2 498.7 1118.4 495.5 1120 491.4C1121.6 487.3 1122.9 481 1124.1 476.6C1125.3 472.3 1126.2 468.2 1127.4 465.1C1128.6 462.1 1129.9 460.2 1131.5 458.6C1133.2 457 1135.2 456.3 1137.3 455.6C1139.3 454.9 1141.6 455.1 1143.8 454.5C1146 453.8 1148.2 452.7 1150.4 452C1152.6 451.2 1154.9 450.3 1157 450C1159 449.7 1161.1 449.5 1162.7 450C1164.4 450.5 1165.1 451.2 1166.8 452.8C1168.6 454.4 1171 457.3 1173.4 459.4C1175.9 461.4 1178.6 463.5 1181.6 465.1C1184.7 466.8 1188.2 467.3 1191.5 469.2C1194.8 471.2 1198.1 474.5 1201.4 476.6C1204.7 478.8 1207.7 480.8 1211.2 482.4C1214.8 484 1218.6 485.3 1222.7 486.5C1226.9 487.7 1234 489.2 1236.2 489.8" stroke="#0000FF"/>
<path d="M923.1 521C923.5 524.2 924.5 534.9 925.5 540.7C926.6 546.4 928.2 551.8 929.7 555.5C931.1 559.1 932.8 562.5 934.3 562.5C935.8 562.5 937.1 559.9 938.7 555.5C940.3 551 942.1 541.8 943.6 535.8C945.1 529.7 946.2 524 947.7 519.3C949.2 514.7 950.9 510.7 952.7 507.9C954.5 505 956.5 503.3 958.4 502.1C960.4 500.9 962.5 500.7 964.5 500.8C966.6 500.9 968.6 501.6 970.8 502.9C972.9 504.3 975.1 506.5 977.3 508.7C979.5 510.9 981.7 513.6 983.9 516.1C986.1 518.6 988.6 521.6 990.5 523.5C992.4 525.4 994.1 526.8 995.4 527.6C996.7 528.4 997.3 528.6 998.4 528.1C999.5 527.5 1000.8 526.9 1002 524.3C1003.1 521.8 1004.2 517.5 1005.3 512.8C1006.4 508.2 1007.5 501.3 1008.6 496.4C1009.7 491.4 1010.8 486.5 1011.8 483.2C1012.9 479.9 1014 478.1 1015.1 476.6C1016.3 475.2 1017.5 474.4 1018.8 474.5C1020 474.6 1021.1 475.5 1022.5 477.5C1024 479.5 1025.7 483.1 1027.5 486.5C1029.2 489.9 1031.2 494.7 1033.2 498C1035.3 501.3 1037.8 504.4 1039.8 506.2C1041.8 508.1 1043.5 509.3 1045.1 509.2C1046.6 509.1 1047.7 507.8 1048.8 505.4C1050 503 1051 499 1052.1 494.7C1053.2 490.5 1054.3 484.3 1055.4 479.9C1056.5 475.5 1057.4 471.4 1058.7 468.4C1060 465.4 1061.8 463 1063.3 461.8C1064.7 460.7 1065.9 460.8 1067.4 461.4C1068.9 461.9 1070.5 463.1 1072.3 465.1C1074.1 467.1 1076 470.1 1078.1 473.4C1080.1 476.6 1082.5 481 1084.7 484.9C1086.8 488.7 1089 492.7 1091.2 496.4C1093.4 500.1 1095.8 504.3 1097.8 507.1C1099.9 509.8 1101.8 511.6 1103.6 512.8C1105.3 514 1107 514.7 1108.5 514.5C1110 514.2 1111.4 513.6 1112.6 511.2C1113.8 508.7 1114.8 504.3 1115.9 499.7C1117 495 1118.1 488.7 1119.2 483.2C1120.3 477.7 1121.4 471.4 1122.5 466.8C1123.6 462.1 1124.5 458.4 1125.8 455.3C1127 452.1 1128.4 449.6 1129.9 447.9C1131.4 446.2 1133 445.4 1134.8 445.1C1136.6 444.8 1138.5 445.2 1140.5 445.9C1142.6 446.6 1145.1 448 1147.1 449.5C1149.2 451.1 1151.2 452.7 1152.9 455.3C1154.5 457.9 1155.5 461 1157 465.1C1158.5 469.2 1160 475 1161.9 479.9C1163.8 484.9 1166.3 490.1 1168.5 494.7C1170.7 499.4 1172.7 504 1175.1 507.9C1177.4 511.7 1180.1 515.5 1182.5 517.7C1184.8 519.9 1187 521 1189 521C1191.1 521 1193 520.2 1194.8 517.7C1196.6 515.3 1198.2 511.4 1199.7 506.2C1201.2 501 1202.6 493.6 1203.8 486.5C1205.1 479.4 1206 471.2 1207.1 463.5C1208.2 455.8 1209.2 448.2 1210.4 440.5C1211.6 432.8 1213 424.3 1214.5 417.5C1216 410.6 1217.8 403.9 1219.5 399.4C1221.1 394.9 1222.7 392.3 1224.4 390.3C1226 388.4 1227.7 388 1229.3 387.5C1231 387.1 1233.1 387.7 1234.2 387.9C1235.4 388.1 1235.9 388.6 1236.2 388.7" stroke="#000"/>
</g>
<rect x="923.1" y="365.4" width="313.1" height="240.1" fill="none" stroke="#000" stroke-width="2"/>
<path d="M956.5 605.5v-6M956.5 365.4v6M998.2 605.5v-6M998.2 365.4v6M1040 605.5v-6M1040 365.4v6M1081.7 605.5v-6M1081.7 365.4v6M1123.5 605.5v-6M1123.5 365.4v6M1165.2 605.5v-6M1165.2 365.4v6M1207 605.5v-6M1207 365.4v6M935.6 605.5v-3.5M935.6 365.4v3.5M977.4 605.5v-3.5M977.4 365.4v3.5M1019.1 605.5v-3.5M1019.1 365.4v3.5M1060.9 605.5v-3.5M1060.9 365.4v3.5M1102.6 605.5v-3.5M1102.6 365.4v3.5M1144.4 605.5v-3.5M1144.4 365.4v3.5M1186.1 605.5v-3.5M1186.1 365.4v3.5M1227.9 605.5v-3.5M1227.9 365.4v3.5M923.1 605.5h6M1236.2 605.5h-6M923.1 545.5h6M1236.2 545.5h-6M923.1 485.4h6M1236.2 485.4h-6M923.1 425.4h6M1236.2 425.4h-6M923.1 365.4h6M1236.2 365.4h-6M923.1 575.5h3.5M1236.2 575.5h-3.5M923.1 515.5h3.5M1236.2 515.5h-3.5M923.1 455.4h3.5M1236.2 455.4h-3.5M923.1 395.4h3.5M1236.2 395.4h-3.5" stroke="#000" stroke-width="1.6" fill="none"/>
<text x="956.5" y="627.8" font-size="21" text-anchor="middle" fill="#000">10</text>
<text x="998.2" y="627.8" font-size="21" text-anchor="middle" fill="#000">20</text>
<text x="1040" y="627.8" font-size="21" text-anchor="middle" fill="#000">30</text>
<text x="1081.7" y="627.8" font-size="21" text-anchor="middle" fill="#000">40</text>
<text x="1123.5" y="627.8" font-size="21" text-anchor="middle" fill="#000">50</text>
<text x="1165.2" y="627.8" font-size="21" text-anchor="middle" fill="#000">60</text>
<text x="1207" y="627.8" font-size="21" text-anchor="middle" fill="#000">70</text>
<text x="917" y="612" font-size="21" text-anchor="end" fill="#000">-1.0</text>
<text x="917" y="552" font-size="21" text-anchor="end" fill="#000">-0.5</text>
<text x="917" y="491.9" font-size="21" text-anchor="end" fill="#000">0.0</text>
<text x="917" y="431.9" font-size="21" text-anchor="end" fill="#000">0.5</text>
<text x="917" y="371.9" font-size="21" text-anchor="end" fill="#000">1.0</text>
<text x="1080" y="646.3" font-size="21.5" text-anchor="middle" fill="#000" textLength="159" lengthAdjust="spacingAndGlyphs">Frequency / GHz</text>
<text transform="translate(876 484.5) rotate(-90)" font-size="21.7" text-anchor="middle" textLength="163" lengthAdjust="spacingAndGlyphs">Impedance/Imag</text>
<text x="851.3" y="378.7" font-size="49" text-anchor="start" fill="#000">e</text>
<!-- panel f -->
<rect x="44.8" y="691.3" width="1143.2" height="109.7" fill="#000"/>
<rect x="48" y="694.6" width="1136.6" height="103.2" fill="#fff"/>
<g clip-path="url(#mc1)"><g filter="url(#jet)">
<g filter="url(#bX)">
<rect x="18" y="664.6" width="277.6" height="163.2" fill="url(#g1_1)"/>
</g>
<g filter="url(#bS)">
<ellipse cx="74.1" cy="732.8" rx="9.8" ry="7.2" fill="#ededed" opacity="0.75"/>
<ellipse cx="239.5" cy="732.8" rx="9.8" ry="7.2" fill="#ededed" opacity="0.75"/>
<ellipse cx="156.8" cy="704.9" rx="47.9" ry="10.3" fill="#e6e6e6" opacity="0.6"/>
<ellipse cx="97" cy="756.5" rx="10.9" ry="5.2" fill="#7a7a7a" opacity="0.8"/>
<ellipse cx="216.6" cy="756.5" rx="10.9" ry="5.2" fill="#7a7a7a" opacity="0.8"/>
<ellipse cx="156.8" cy="760.6" rx="43.5" ry="5.2" fill="#a8a8a8" opacity="0.7"/>
<ellipse cx="156.8" cy="775.1" rx="47.9" ry="5.2" fill="#808080" opacity="0.6"/>
</g>
</g>
<path d="M48 699.8H265.6M48 709H265.6M48 733.3H265.6M48 736.4H265.6M48 755H265.6M48 758.1H265.6M48 785.9H265.6" stroke="#000" stroke-opacity="0.55" stroke-width="0.55" fill="none"/>
</g>
<g clip-path="url(#mc2)"><g filter="url(#jet)">
<g filter="url(#bX)">
<rect x="248.2" y="664.6" width="278" height="163.2" fill="url(#g2_1)"/>
</g>
<g filter="url(#bS)">
<ellipse cx="278.2" cy="704.9" rx="54.5" ry="31" fill="#ffffff"/>
<ellipse cx="496.2" cy="704.9" rx="54.5" ry="31" fill="#ffffff"/>
<rect x="248.2" y="664.6" width="67.1" height="70.2" fill="#ffffff"/>
<rect x="459.1" y="664.6" width="67.1" height="70.2" fill="#ffffff"/>
<ellipse cx="387.2" cy="707" rx="56.7" ry="27.9" fill="#c2c2c2"/>
<ellipse cx="387.2" cy="701.8" rx="34.9" ry="16.5" fill="#9e9e9e"/>
<ellipse cx="337.1" cy="775.1" rx="21.8" ry="27.9" fill="#808080"/>
<ellipse cx="437.3" cy="775.1" rx="21.8" ry="27.9" fill="#808080"/>
<ellipse cx="387.2" cy="766.8" rx="32.7" ry="34.1" fill="#b8b8b8"/>
<ellipse cx="387.2" cy="737.9" rx="43.6" ry="7.7" fill="#dedede"/>
<ellipse cx="387.2" cy="754.5" rx="15.3" ry="22.7" fill="#d6d6d6"/>
<ellipse cx="387.2" cy="799.9" rx="78.5" ry="6.2" fill="#737373"/>
</g>
</g>
<path d="M278.2 699.8H496.2M278.2 709H496.2M278.2 733.3H496.2M278.2 736.4H496.2M278.2 755H496.2M278.2 758.1H496.2M278.2 785.9H496.2" stroke="#000" stroke-opacity="0.55" stroke-width="0.55" fill="none"/>
</g>
<g clip-path="url(#mc3)"><g filter="url(#jet)">
<g filter="url(#bX)">
<rect x="478.6" y="664.6" width="278.4" height="163.2" fill="url(#g3_1)"/>
</g>
<g filter="url(#bS)">
<ellipse cx="617.8" cy="694.6" rx="61.2" ry="6.2" fill="#ffffff"/>
<ellipse cx="508.6" cy="722.5" rx="43.7" ry="15.5" fill="#ffffff"/>
<ellipse cx="727" cy="722.5" rx="43.7" ry="15.5" fill="#ffffff"/>
<ellipse cx="617.8" cy="719.9" rx="61.2" ry="14.4" fill="#bfbfbf"/>
<ellipse cx="617.8" cy="718.9" rx="39.3" ry="8.8" fill="#808080"/>
<ellipse cx="617.8" cy="718.3" rx="22.9" ry="5" fill="#2e2e2e"/>
<ellipse cx="517.3" cy="745.2" rx="34.9" ry="5.2" fill="#a8a8a8"/>
<ellipse cx="718.3" cy="745.2" rx="34.9" ry="5.2" fill="#a8a8a8"/>
<ellipse cx="508.6" cy="754.5" rx="28.4" ry="4.1" fill="#808080"/>
<ellipse cx="727" cy="754.5" rx="28.4" ry="4.1" fill="#808080"/>
<ellipse cx="617.8" cy="748.3" rx="67.7" ry="18.6" fill="#e0e0e0"/>
<ellipse cx="617.8" cy="748.3" rx="48" ry="12.9" fill="#ffffff"/>
<ellipse cx="526.1" cy="776.1" rx="43.7" ry="10.3" fill="#404040"/>
<ellipse cx="709.5" cy="776.1" rx="43.7" ry="10.3" fill="#404040"/>
<ellipse cx="515.2" cy="776.1" rx="21.8" ry="4.6" fill="#050505"/>
<ellipse cx="720.4" cy="776.1" rx="21.8" ry="4.6" fill="#050505"/>
<ellipse cx="617.8" cy="775.1" rx="28.4" ry="9.3" fill="#8f8f8f"/>
<ellipse cx="574.1" cy="763.7" rx="30.6" ry="4.1" fill="#8c8c8c" transform="rotate(28 574.1 763.7)"/>
<ellipse cx="661.5" cy="763.7" rx="30.6" ry="4.1" fill="#8c8c8c" transform="rotate(-28 661.5 763.7)"/>
<ellipse cx="574.1" cy="787.5" rx="30.6" ry="4.1" fill="#808080" transform="rotate(-28 574.1 787.5)"/>
<ellipse cx="661.5" cy="787.5" rx="30.6" ry="4.1" fill="#808080" transform="rotate(28 661.5 787.5)"/>
<ellipse cx="617.8" cy="764.8" rx="28.4" ry="4.1" fill="#bdbdbd"/>
<ellipse cx="617.8" cy="793.7" rx="52.4" ry="7.2" fill="#8c8c8c"/>
<ellipse cx="617.8" cy="794.7" rx="28.4" ry="5.2" fill="#cccccc"/>
</g>
</g>
<path d="M508.6 699.8H727M508.6 709H727M508.6 733.3H727M508.6 736.4H727M508.6 755H727M508.6 758.1H727M508.6 785.9H727" stroke="#000" stroke-opacity="0.55" stroke-width="0.55" fill="none"/>
</g>
<g clip-path="url(#mc4)"><g filter="url(#jet)">
<g filter="url(#bS)">
<rect x="707.5" y="664.6" width="277.5" height="163.2" fill="url(#g4_1)"/>
<ellipse cx="750.5" cy="715.2" rx="21.8" ry="3.6" fill="#808080"/>
<ellipse cx="942" cy="715.2" rx="21.8" ry="3.6" fill="#808080"/>
<ellipse cx="846.2" cy="713.2" rx="30.5" ry="6.2" fill="#e6e6e6"/>
<ellipse cx="846.2" cy="725.6" rx="28.3" ry="10.3" fill="#ffffff"/>
<ellipse cx="759.2" cy="753.9" rx="43.5" ry="4.6" fill="#333333"/>
<ellipse cx="933.2" cy="753.9" rx="43.5" ry="4.6" fill="#333333"/>
<ellipse cx="846.2" cy="748.3" rx="58.7" ry="10.3" fill="#e6e6e6"/>
<ellipse cx="846.2" cy="746.2" rx="37" ry="7.7" fill="#bfbfbf"/>
<ellipse cx="846.2" cy="746.2" rx="26.1" ry="5.2" fill="#808080"/>
<ellipse cx="846.2" cy="746.2" rx="15.2" ry="3.1" fill="#333333"/>
<ellipse cx="846.2" cy="767.9" rx="71.8" ry="15.5" fill="#b8b8b8"/>
<ellipse cx="820.1" cy="766.8" rx="28.3" ry="8.8" fill="#ffffff"/>
<ellipse cx="872.4" cy="766.8" rx="28.3" ry="8.8" fill="#ffffff"/>
<ellipse cx="846.2" cy="762.7" rx="43.5" ry="7.2" fill="#ffffff"/>
<ellipse cx="846.2" cy="791.6" rx="58.7" ry="5.2" fill="#787878"/>
<ellipse cx="741.9" cy="793.7" rx="26.1" ry="8.3" fill="#050505"/>
<ellipse cx="950.6" cy="793.7" rx="26.1" ry="8.3" fill="#050505"/>
</g>
</g>
<path d="M737.5 699.8H955M737.5 709H955M737.5 733.3H955M737.5 736.4H955M737.5 755H955M737.5 758.1H955M737.5 785.9H955" stroke="#000" stroke-opacity="0.55" stroke-width="0.55" fill="none"/>
</g>
<g clip-path="url(#mc5)"><g filter="url(#jet)">
<g filter="url(#bS)">
<rect x="937.4" y="664.6" width="277.2" height="163.2" fill="url(#g5_1)"/>
<ellipse cx="1076" cy="702.9" rx="65.2" ry="4.1" fill="#bababa"/>
<ellipse cx="1076" cy="693.6" rx="65.2" ry="7.2" fill="#ffffff"/>
<ellipse cx="1076" cy="716.3" rx="32.6" ry="7.7" fill="#ffffff"/>
<ellipse cx="973.9" cy="726.6" rx="17.4" ry="3.1" fill="#808080"/>
<ellipse cx="1178.1" cy="726.6" rx="17.4" ry="3.1" fill="#808080"/>
<ellipse cx="984.8" cy="741" rx="54.3" ry="6.7" fill="#ffffff"/>
<ellipse cx="1167.2" cy="741" rx="54.3" ry="6.7" fill="#ffffff"/>
<ellipse cx="1076" cy="742.1" rx="36.9" ry="7.2" fill="#dbdbdb"/>
<ellipse cx="1076" cy="772" rx="71.7" ry="12.4" fill="#808080"/>
<ellipse cx="1076" cy="772" rx="58.6" ry="7.2" fill="#b2b2b2"/>
<ellipse cx="1076" cy="793.7" rx="65.2" ry="5.2" fill="#383838"/>
</g>
</g>
<path d="M967.4 699.8H1184.6M967.4 709H1184.6M967.4 733.3H1184.6M967.4 736.4H1184.6M967.4 755H1184.6M967.4 758.1H1184.6M967.4 785.9H1184.6" stroke="#000" stroke-opacity="0.55" stroke-width="0.55" fill="none"/>
</g>
<rect x="44.8" y="826.6" width="1143.2" height="105.4" fill="#000"/>
<rect x="48" y="829.8" width="1136.6" height="99.1" fill="#fff"/>
<g clip-path="url(#mc6)"><g filter="url(#jet)">
<g filter="url(#bS)">
<rect x="18" y="799.8" width="277.6" height="159.1" fill="url(#g6_1)"/>
<ellipse cx="156.8" cy="856.6" rx="56.6" ry="7.9" fill="#000000"/>
<ellipse cx="69.8" cy="863.5" rx="12" ry="6.9" fill="#454545"/>
<ellipse cx="243.8" cy="863.5" rx="12" ry="6.9" fill="#454545"/>
<ellipse cx="115.5" cy="909.1" rx="19.6" ry="19.8" fill="#dedede" opacity="0.6"/>
<ellipse cx="198.1" cy="909.1" rx="19.6" ry="19.8" fill="#dedede" opacity="0.6"/>
<ellipse cx="156.8" cy="899.2" rx="21.8" ry="7.9" fill="#a1a1a1" opacity="0.8"/>
</g>
<g filter="url(#bM)">
<ellipse cx="69.8" cy="868" rx="2.6" ry="1.4" fill="#000000"/>
<ellipse cx="243.8" cy="868" rx="2.6" ry="1.4" fill="#000000"/>
<ellipse cx="106.8" cy="868" rx="3.9" ry="1.2" fill="#a6a6a6"/>
<ellipse cx="206.8" cy="868" rx="3.9" ry="1.2" fill="#a6a6a6"/>
<ellipse cx="115.5" cy="889.3" rx="6.5" ry="1.2" fill="#d9d9d9"/>
<ellipse cx="198.1" cy="889.3" rx="6.5" ry="1.2" fill="#d9d9d9"/>
</g>
</g>
<path d="M48 834.8H265.6M48 843.7H265.6M48 867H265.6M48 869.9H265.6M48 887.8H265.6M48 890.7H265.6M48 917.5H265.6" stroke="#000" stroke-opacity="0.75" stroke-width="0.9" fill="none"/>
</g>
<g clip-path="url(#mc7)"><g filter="url(#jet)">
<g filter="url(#bS)">
<rect x="248.2" y="799.8" width="278" height="159.1" fill="url(#g7_1)"/>
<path d="M437.3 887.3L436.1 893.5L432.4 899.3L426.4 904.6L418.5 909L409 912.3L398.4 914.3L387.2 915L376 914.3L365.4 912.3L355.9 909L348 904.6L342 899.3L338.3 893.5L337.1 887.3Z" fill="#080808"/>
<path d="M423.2 887.3L422.3 891.7L419.6 895.9L415.3 899.6L409.6 902.8L402.8 905.1L395.2 906.6L387.2 907.1L379.2 906.6L371.6 905.1L364.8 902.8L359.1 899.6L354.8 895.9L352.1 891.7L351.2 887.3Z" fill="#474747"/>
<path d="M417.7 887.3L417 889.9L414.7 892.4L411.1 894.7L406.2 896.6L400.4 898L394 898.9L387.2 899.2L380.4 898.9L374 898L368.2 896.6L363.3 894.7L359.7 892.4L357.4 889.9L356.7 887.3Z" fill="#808080"/>
<rect x="343.6" y="860.5" width="87.2" height="24.8" fill="#ededed"/>
<ellipse cx="387.2" cy="874.4" rx="37.1" ry="6.9" fill="#fafafa"/>
<ellipse cx="318.5" cy="865.5" rx="8.7" ry="6.9" fill="#d9d9d9"/>
<ellipse cx="455.9" cy="865.5" rx="8.7" ry="6.9" fill="#d9d9d9"/>
<ellipse cx="387.2" cy="888.8" rx="28.3" ry="2.5" fill="#b8b8b8"/>
<ellipse cx="343.6" cy="893.2" rx="6.5" ry="5" fill="#404040"/>
<ellipse cx="430.8" cy="893.2" rx="6.5" ry="5" fill="#404040"/>
<ellipse cx="387.2" cy="928.9" rx="91.6" ry="8.9" fill="#bfbfbf"/>
<ellipse cx="387.2" cy="928.9" rx="65.4" ry="5.9" fill="#ffffff"/>
</g>
<g filter="url(#bM)">
<ellipse cx="300" cy="861.5" rx="9.8" ry="7.4" fill="#ffffff"/>
<ellipse cx="474.4" cy="861.5" rx="9.8" ry="7.4" fill="#ffffff"/>
<ellipse cx="337.1" cy="860.5" rx="12" ry="8.4" fill="#ffffff"/>
<ellipse cx="437.3" cy="860.5" rx="12" ry="8.4" fill="#ffffff"/>
<ellipse cx="302.2" cy="873.4" rx="6.5" ry="4" fill="#737373"/>
<ellipse cx="472.2" cy="873.4" rx="6.5" ry="4" fill="#737373"/>
<ellipse cx="337.1" cy="873.4" rx="6.5" ry="4" fill="#737373"/>
<ellipse cx="437.3" cy="873.4" rx="6.5" ry="4" fill="#737373"/>
</g>
<g filter="url(#bH)">
<ellipse cx="302.2" cy="871.4" rx="2.6" ry="2" fill="#262626"/>
<ellipse cx="472.2" cy="871.4" rx="2.6" ry="2" fill="#262626"/>
<ellipse cx="337.1" cy="871.4" rx="2.6" ry="2" fill="#262626"/>
<ellipse cx="437.3" cy="871.4" rx="2.6" ry="2" fill="#262626"/>
</g>
</g>
<path d="M278.2 834.8H496.2M278.2 843.7H496.2M278.2 867H496.2M278.2 869.9H496.2M278.2 887.8H496.2M278.2 890.7H496.2M278.2 917.5H496.2" stroke="#000" stroke-opacity="0.75" stroke-width="0.9" fill="none"/>
</g>
<g clip-path="url(#mc8)"><g filter="url(#jet)">
<g filter="url(#bS)">
<rect x="478.6" y="799.8" width="278.4" height="159.1" fill="url(#g8_1)"/>
<ellipse cx="617.8" cy="831.8" rx="54.6" ry="7.9" fill="#f5f5f5"/>
<ellipse cx="617.8" cy="856.6" rx="21.8" ry="3" fill="#080808"/>
<ellipse cx="552.3" cy="850.6" rx="19.7" ry="2" fill="#0f0f0f"/>
<ellipse cx="683.3" cy="850.6" rx="19.7" ry="2" fill="#0f0f0f"/>
<ellipse cx="508.6" cy="854.6" rx="6.6" ry="3" fill="#0d0d0d"/>
<ellipse cx="727" cy="854.6" rx="6.6" ry="3" fill="#0d0d0d"/>
<ellipse cx="508.6" cy="887.3" rx="15.3" ry="13.9" fill="#f2f2f2"/>
<ellipse cx="727" cy="887.3" rx="15.3" ry="13.9" fill="#f2f2f2"/>
<ellipse cx="521.7" cy="901.2" rx="32.8" ry="5.5" fill="#b8b8b8" transform="rotate(-28 521.7 901.2)"/>
<ellipse cx="713.9" cy="901.2" rx="32.8" ry="5.5" fill="#b8b8b8" transform="rotate(28 713.9 901.2)"/>
<ellipse cx="541.4" cy="911.1" rx="39.3" ry="3" fill="#0d0d0d" transform="rotate(-32 541.4 911.1)"/>
<ellipse cx="694.2" cy="911.1" rx="39.3" ry="3" fill="#0d0d0d" transform="rotate(32 694.2 911.1)"/>
<path d="M669.1 887.3L667.8 893.2L664 898.9L657.9 904L649.8 908.2L640.1 911.4L629.2 913.4L617.8 914L606.4 913.4L595.5 911.4L585.8 908.2L577.7 904L571.6 898.9L567.8 893.2L566.5 887.3Z" fill="#080808"/>
<path d="M656 887.3L655.1 891.5L652.2 895.4L647.7 899L641.6 902L634.4 904.2L626.3 905.6L617.8 906.1L609.3 905.6L601.2 904.2L594 902L587.9 899L583.4 895.4L580.5 891.5L579.6 887.3Z" fill="#666666"/>
<rect x="565.4" y="869.4" width="104.8" height="18.3" fill="#dedede"/>
<ellipse cx="617.8" cy="924.9" rx="87.4" ry="4" fill="#8c8c8c"/>
<ellipse cx="519.5" cy="928.9" rx="43.7" ry="7.9" fill="#bfbfbf"/>
<ellipse cx="716.1" cy="928.9" rx="43.7" ry="7.9" fill="#bfbfbf"/>
<ellipse cx="508.6" cy="928.9" rx="26.2" ry="5" fill="#ffffff"/>
<ellipse cx="727" cy="928.9" rx="26.2" ry="5" fill="#ffffff"/>
</g>
<g filter="url(#bM)">
<ellipse cx="530.4" cy="864.5" rx="9.8" ry="5.5" fill="#ffffff"/>
<ellipse cx="705.2" cy="864.5" rx="9.8" ry="5.5" fill="#ffffff"/>
<ellipse cx="567.6" cy="864.5" rx="9.8" ry="5.5" fill="#ffffff"/>
<ellipse cx="668" cy="864.5" rx="9.8" ry="5.5" fill="#ffffff"/>
<ellipse cx="534.8" cy="872.4" rx="7.6" ry="4.5" fill="#808080"/>
<ellipse cx="700.8" cy="872.4" rx="7.6" ry="4.5" fill="#808080"/>
<ellipse cx="567.6" cy="872.4" rx="7.6" ry="4.5" fill="#808080"/>
<ellipse cx="668" cy="872.4" rx="7.6" ry="4.5" fill="#808080"/>
<ellipse cx="571.9" cy="884.3" rx="14.2" ry="3.5" fill="#ffffff"/>
<ellipse cx="663.7" cy="884.3" rx="14.2" ry="3.5" fill="#ffffff"/>
</g>
<g filter="url(#bH)">
<ellipse cx="534.8" cy="871.4" rx="3.3" ry="2" fill="#333333"/>
<ellipse cx="700.8" cy="871.4" rx="3.3" ry="2" fill="#333333"/>
<ellipse cx="567.6" cy="871.4" rx="3.3" ry="2" fill="#333333"/>
<ellipse cx="668" cy="871.4" rx="3.3" ry="2" fill="#333333"/>
</g>
</g>
<path d="M508.6 834.8H727M508.6 843.7H727M508.6 867H727M508.6 869.9H727M508.6 887.8H727M508.6 890.7H727M508.6 917.5H727" stroke="#000" stroke-opacity="0.75" stroke-width="0.9" fill="none"/>
</g>
<g clip-path="url(#mc9)"><g filter="url(#jet)">
<g filter="url(#bM)">
<rect x="707.5" y="799.8" width="277.5" height="159.1" fill="url(#g9_1)"/>
<ellipse cx="846.2" cy="853.1" rx="95.7" ry="11.9" fill="#ffffff"/>
<ellipse cx="846.2" cy="838.7" rx="28.3" ry="3" fill="#dbdbdb"/>
<ellipse cx="781" cy="864.5" rx="13" ry="2" fill="#b8b8b8"/>
<ellipse cx="911.5" cy="864.5" rx="13" ry="2" fill="#b8b8b8"/>
<ellipse cx="746.2" cy="863.5" rx="8.7" ry="3" fill="#b8b8b8"/>
<ellipse cx="946.3" cy="863.5" rx="8.7" ry="3" fill="#b8b8b8"/>
<ellipse cx="737.5" cy="836.7" rx="10.9" ry="5.9" fill="#0d0d0d"/>
<ellipse cx="955" cy="836.7" rx="10.9" ry="5.9" fill="#0d0d0d"/>
<ellipse cx="846.2" cy="829.8" rx="21.8" ry="3" fill="#1a1a1a"/>
<rect x="802.8" y="876.4" width="87" height="12.9" fill="#ffffff"/>
<ellipse cx="802.8" cy="882.8" rx="10.9" ry="6.4" fill="#ffffff"/>
<ellipse cx="889.8" cy="882.8" rx="10.9" ry="6.4" fill="#ffffff"/>
<ellipse cx="846.2" cy="889.3" rx="34.8" ry="5" fill="#ffffff"/>
<ellipse cx="737.5" cy="869.4" rx="8.7" ry="4" fill="#262626"/>
<ellipse cx="955" cy="869.4" rx="8.7" ry="4" fill="#262626"/>
<ellipse cx="824.5" cy="915.5" rx="23.9" ry="2.2" fill="#f5f5f5"/>
<ellipse cx="868" cy="915.5" rx="23.9" ry="2.2" fill="#f5f5f5"/>
<ellipse cx="846.2" cy="916.5" rx="17.4" ry="2.2" fill="#ededed"/>
</g>
<g filter="url(#bH)">
<rect x="791.9" y="867.3" width="108.8" height="2" fill="#0a0a0a"/>
</g>
</g>
<path d="M737.5 834.8H955M737.5 843.7H955M737.5 867H955M737.5 869.9H955M737.5 887.8H955M737.5 890.7H955M737.5 917.5H955" stroke="#000" stroke-opacity="0.75" stroke-width="0.9" fill="none"/>
</g>
<g clip-path="url(#mc10)"><g filter="url(#jet)">
<g filter="url(#bM)">
<rect x="937.4" y="799.8" width="277.2" height="159.1" fill="url(#g10_1)"/>
<ellipse cx="984.8" cy="836.7" rx="23.9" ry="4" fill="#e6e6e6"/>
<ellipse cx="1167.2" cy="836.7" rx="23.9" ry="4" fill="#e6e6e6"/>
<ellipse cx="1076" cy="848.6" rx="43.4" ry="3.5" fill="#737373"/>
<ellipse cx="1076" cy="859.5" rx="26.1" ry="5" fill="#c7c7c7"/>
<ellipse cx="1010.8" cy="860.5" rx="21.7" ry="3" fill="#cccccc"/>
<ellipse cx="1141.2" cy="860.5" rx="21.7" ry="3" fill="#cccccc"/>
<ellipse cx="976.1" cy="862.5" rx="39.1" ry="3.5" fill="#ffffff"/>
<ellipse cx="1175.9" cy="862.5" rx="39.1" ry="3.5" fill="#ffffff"/>
<ellipse cx="989.1" cy="884.8" rx="32.6" ry="2.5" fill="#bfbfbf"/>
<ellipse cx="1162.9" cy="884.8" rx="32.6" ry="2.5" fill="#bfbfbf"/>
<ellipse cx="967.4" cy="885.8" rx="19.5" ry="2" fill="#ffffff"/>
<ellipse cx="1184.6" cy="885.8" rx="19.5" ry="2" fill="#ffffff"/>
<ellipse cx="1076" cy="890.3" rx="43.4" ry="3.5" fill="#a8a8a8"/>
<ellipse cx="1000" cy="901.2" rx="19.5" ry="3" fill="#141414"/>
<ellipse cx="1152" cy="901.2" rx="19.5" ry="3" fill="#141414"/>
<ellipse cx="1076" cy="912.1" rx="54.3" ry="3.5" fill="#8c8c8c"/>
</g>
</g>
<path d="M967.4 834.8H1184.6M967.4 843.7H1184.6M967.4 867H1184.6M967.4 869.9H1184.6M967.4 887.8H1184.6M967.4 890.7H1184.6M967.4 917.5H1184.6" stroke="#000" stroke-opacity="0.75" stroke-width="0.9" fill="none"/>
</g>
<rect x="46.3" y="956.6" width="1143.4" height="108.8" fill="#000"/>
<rect x="49.6" y="959.8" width="1136.4" height="102.6" fill="#fff"/>
<g clip-path="url(#mc11)"><g filter="url(#jet)">
<g filter="url(#bS)">
<rect x="19.6" y="929.8" width="275.2" height="162.6" fill="url(#g11_1)"/>
</g>
<g filter="url(#bM)">
<ellipse cx="64.7" cy="999.8" rx="3" ry="1.2" fill="#4c4c4c"/>
<ellipse cx="249.7" cy="999.8" rx="3" ry="1.2" fill="#4c4c4c"/>
<ellipse cx="76.5" cy="999.8" rx="3.4" ry="1.2" fill="#737373"/>
<ellipse cx="237.9" cy="999.8" rx="3.4" ry="1.2" fill="#737373"/>
<ellipse cx="108.8" cy="999.8" rx="3" ry="1.2" fill="#4c4c4c"/>
<ellipse cx="205.6" cy="999.8" rx="3" ry="1.2" fill="#4c4c4c"/>
<ellipse cx="115.2" cy="999.8" rx="3.4" ry="1.2" fill="#8c8c8c"/>
<ellipse cx="199.2" cy="999.8" rx="3.4" ry="1.2" fill="#8c8c8c"/>
<ellipse cx="100.2" cy="1021.4" rx="3.4" ry="1.2" fill="#8c8c8c"/>
<ellipse cx="214.2" cy="1021.4" rx="3.4" ry="1.2" fill="#8c8c8c"/>
<ellipse cx="121.7" cy="1021.4" rx="3.4" ry="1.2" fill="#737373"/>
<ellipse cx="192.7" cy="1021.4" rx="3.4" ry="1.2" fill="#737373"/>
<ellipse cx="71.1" cy="998.3" rx="2.2" ry="3.1" fill="#000000"/>
<ellipse cx="243.3" cy="998.3" rx="2.2" ry="3.1" fill="#000000"/>
<ellipse cx="112" cy="998.3" rx="2.2" ry="3.1" fill="#000000"/>
<ellipse cx="202.4" cy="998.3" rx="2.2" ry="3.1" fill="#000000"/>
<ellipse cx="110.9" cy="1020.3" rx="2.6" ry="3.6" fill="#000000"/>
<ellipse cx="203.5" cy="1020.3" rx="2.6" ry="3.6" fill="#000000"/>
</g>
<g>
<rect x="19.6" y="930" width="275.2" height="34" fill="#242424"/>
<rect x="19.6" y="964" width="275.2" height="10" fill="#080808"/>
<rect x="19.6" y="1051" width="275.2" height="41" fill="#ffffff"/>
</g>
</g>
<path d="M49.6 998.3H264.8M49.6 1001.4H264.8M49.6 1019.8H264.8M49.6 1022.9H264.8" stroke="#000" stroke-opacity="0.7" stroke-width="0.8" fill="none"/>
</g>
<g clip-path="url(#mc12)"><g filter="url(#jet)">
<g filter="url(#bS)">
<rect x="247.4" y="929.8" width="278.7" height="162.6" fill="url(#g12_1)"/>
<ellipse cx="386.8" cy="985.5" rx="54.7" ry="10.3" fill="#5c5c5c"/>
<ellipse cx="386.8" cy="1047" rx="43.7" ry="5.1" fill="#1f1f1f"/>
</g>
<g filter="url(#bM)">
<ellipse cx="299.3" cy="996.7" rx="3.3" ry="7.2" fill="#050505"/>
<ellipse cx="474.2" cy="996.7" rx="3.3" ry="7.2" fill="#050505"/>
<ellipse cx="335.4" cy="998.8" rx="3.3" ry="8.2" fill="#050505"/>
<ellipse cx="438.1" cy="998.8" rx="3.3" ry="8.2" fill="#050505"/>
<ellipse cx="340.8" cy="1021.4" rx="4.8" ry="10.3" fill="#080808"/>
<ellipse cx="432.7" cy="1021.4" rx="4.8" ry="10.3" fill="#080808"/>
<ellipse cx="292.7" cy="999.3" rx="3.3" ry="1.7" fill="#e6e6e6"/>
<ellipse cx="480.8" cy="999.3" rx="3.3" ry="1.7" fill="#e6e6e6"/>
<ellipse cx="308" cy="999.3" rx="3.1" ry="1.6" fill="#999999"/>
<ellipse cx="465.5" cy="999.3" rx="3.1" ry="1.6" fill="#999999"/>
<ellipse cx="344.1" cy="999.3" rx="3.9" ry="2.1" fill="#bfbfbf"/>
<ellipse cx="429.4" cy="999.3" rx="3.9" ry="2.1" fill="#bfbfbf"/>
<ellipse cx="328.8" cy="1020.8" rx="3.9" ry="1.8" fill="#d9d9d9"/>
<ellipse cx="444.7" cy="1020.8" rx="3.9" ry="1.8" fill="#d9d9d9"/>
<ellipse cx="352.9" cy="1020.8" rx="4.4" ry="2.1" fill="#ffffff"/>
<ellipse cx="420.6" cy="1020.8" rx="4.4" ry="2.1" fill="#ffffff"/>
</g>
<g>
<rect x="247.4" y="930" width="278.7" height="34" fill="#383838"/>
<rect x="247.4" y="964" width="278.7" height="10" fill="#080808"/>
<rect x="247.4" y="1051" width="278.7" height="41" fill="#ffffff"/>
</g>
</g>
<path d="M277.4 998.3H496.1M277.4 1001.4H496.1M277.4 1019.8H496.1M277.4 1022.9H496.1" stroke="#000" stroke-opacity="0.7" stroke-width="0.8" fill="none"/>
</g>
<g clip-path="url(#mc13)"><g filter="url(#jet)">
<g filter="url(#bS)">
<rect x="478.7" y="929.8" width="277.6" height="162.6" fill="url(#g13_1)"/>
<ellipse cx="526.1" cy="984.4" rx="52.2" ry="8.2" fill="#333333"/>
<ellipse cx="708.9" cy="984.4" rx="52.2" ry="8.2" fill="#333333"/>
<ellipse cx="519.6" cy="982.4" rx="30.5" ry="3.6" fill="#1a1a1a"/>
<ellipse cx="715.4" cy="982.4" rx="30.5" ry="3.6" fill="#1a1a1a"/>
<ellipse cx="521.8" cy="1011.1" rx="37" ry="9.2" fill="#b8b8b8"/>
<ellipse cx="713.2" cy="1011.1" rx="37" ry="9.2" fill="#b8b8b8"/>
<ellipse cx="508.7" cy="1011.1" rx="17.4" ry="8.2" fill="#f2f2f2"/>
<ellipse cx="726.3" cy="1011.1" rx="17.4" ry="8.2" fill="#f2f2f2"/>
<ellipse cx="526.1" cy="1027" rx="39.2" ry="3.1" fill="#a8a8a8"/>
<ellipse cx="708.9" cy="1027" rx="39.2" ry="3.1" fill="#a8a8a8"/>
<ellipse cx="617.5" cy="1043.9" rx="47.9" ry="7.2" fill="#0d0d0d"/>
</g>
<g filter="url(#bM)">
<ellipse cx="531.5" cy="997.8" rx="2.6" ry="4.1" fill="#0d0d0d"/>
<ellipse cx="703.5" cy="997.8" rx="2.6" ry="4.1" fill="#0d0d0d"/>
<ellipse cx="567.5" cy="997.8" rx="2.6" ry="5.1" fill="#0d0d0d"/>
<ellipse cx="667.5" cy="997.8" rx="2.6" ry="5.1" fill="#0d0d0d"/>
<ellipse cx="571.8" cy="1029.6" rx="5.4" ry="8.2" fill="#1a1a1a"/>
<ellipse cx="663.2" cy="1029.6" rx="5.4" ry="8.2" fill="#1a1a1a"/>
<ellipse cx="523.9" cy="999.3" rx="6.5" ry="2.1" fill="#ffffff"/>
<ellipse cx="711.1" cy="999.3" rx="6.5" ry="2.1" fill="#ffffff"/>
<ellipse cx="541.3" cy="999.3" rx="5.4" ry="2.1" fill="#e6e6e6"/>
<ellipse cx="693.7" cy="999.3" rx="5.4" ry="2.1" fill="#e6e6e6"/>
<ellipse cx="576.2" cy="999.3" rx="4.4" ry="2.1" fill="#b2b2b2"/>
<ellipse cx="658.8" cy="999.3" rx="4.4" ry="2.1" fill="#b2b2b2"/>
<rect x="478.7" y="1019.8" width="82.2" height="3.1" fill="#ffffff"/>
<rect x="674.1" y="1019.8" width="82.2" height="3.1" fill="#ffffff"/>
<ellipse cx="560.9" cy="1019.3" rx="6.5" ry="3.1" fill="#ffffff"/>
<ellipse cx="674.1" cy="1019.3" rx="6.5" ry="3.1" fill="#ffffff"/>
<ellipse cx="585.9" cy="1019.8" rx="6.5" ry="3.6" fill="#ffffff"/>
<ellipse cx="649.1" cy="1019.8" rx="6.5" ry="3.6" fill="#ffffff"/>
</g>
<g>
<rect x="478.7" y="930" width="277.6" height="34" fill="url(#g13_2)"/>
<rect x="478.7" y="964" width="277.6" height="10" fill="#080808"/>
<rect x="478.7" y="1051" width="277.6" height="41" fill="#ffffff"/>
</g>
<g filter="url(#bH)">
<ellipse cx="617.5" cy="1055.7" rx="18.5" ry="2.3" fill="#c2c2c2"/>
</g>
</g>
<path d="M508.7 998.3H726.3M508.7 1001.4H726.3M508.7 1019.8H726.3M508.7 1022.9H726.3" stroke="#000" stroke-opacity="0.7" stroke-width="0.8" fill="none"/>
</g>
<g clip-path="url(#mc14)"><g filter="url(#jet)">
<g filter="url(#bS)">
<rect x="708.1" y="929.8" width="278.4" height="162.6" fill="url(#g14_1)"/>
<ellipse cx="744.7" cy="981.3" rx="21.8" ry="6.2" fill="#404040"/>
<ellipse cx="949.9" cy="981.3" rx="21.8" ry="6.2" fill="#404040"/>
<ellipse cx="847.3" cy="977.2" rx="43.7" ry="4.1" fill="#808080"/>
<ellipse cx="847.3" cy="990.6" rx="21.8" ry="8.2" fill="#bfbfbf"/>
<ellipse cx="847.3" cy="1011.1" rx="65.5" ry="7.2" fill="#1a1a1a"/>
<ellipse cx="847.3" cy="1003.9" rx="32.8" ry="3.1" fill="#4c4c4c"/>
<ellipse cx="738.1" cy="1003.9" rx="48" ry="5.1" fill="#ffffff"/>
<ellipse cx="956.5" cy="1003.9" rx="48" ry="5.1" fill="#ffffff"/>
<ellipse cx="847.3" cy="1029.6" rx="43.7" ry="8.2" fill="#454545"/>
<ellipse cx="847.3" cy="1029.6" rx="21.8" ry="4.1" fill="#808080"/>
</g>
<g>
<rect x="708.1" y="930" width="278.4" height="34" fill="url(#g14_2)"/>
<rect x="708.1" y="964" width="278.4" height="10" fill="#080808"/>
<rect x="708.1" y="1051" width="278.4" height="41" fill="#ffffff"/>
</g>
<g filter="url(#bH)">
<path d="M727.2 1052.7L770.9 1054.7L821.1 1057.3L770.9 1059.8L727.2 1061.9Z" fill="#b8b8b8"/>
<path d="M967.4 1052.7L923.7 1054.7L873.5 1057.3L923.7 1059.8L967.4 1061.9Z" fill="#b8b8b8"/>
<path d="M727.2 1054L764.3 1055.8L790.5 1057.3L764.3 1058.9L727.2 1060.9Z" fill="#4c4c4c"/>
<path d="M967.4 1054L930.3 1055.8L904.1 1057.3L930.3 1058.9L967.4 1060.9Z" fill="#4c4c4c"/>
</g>
</g>
<path d="M738.1 998.3H956.5M738.1 1001.4H956.5M738.1 1019.8H956.5M738.1 1022.9H956.5" stroke="#000" stroke-opacity="0.7" stroke-width="0.8" fill="none"/>
</g>
<g clip-path="url(#mc15)"><g filter="url(#jet)">
<g filter="url(#bS)">
<rect x="937.7" y="929.8" width="278.3" height="162.6" fill="url(#g15_1)"/>
<ellipse cx="1076.8" cy="982.4" rx="30.6" ry="7.2" fill="#ffffff"/>
<ellipse cx="974.2" cy="991.6" rx="13.1" ry="2.6" fill="#4c4c4c"/>
<ellipse cx="1179.5" cy="991.6" rx="13.1" ry="2.6" fill="#4c4c4c"/>
<ellipse cx="1076.8" cy="1007" rx="37.1" ry="7.2" fill="#c7c7c7"/>
<ellipse cx="1076.8" cy="1035.7" rx="65.5" ry="12.3" fill="#454545"/>
<ellipse cx="1076.8" cy="1037.8" rx="43.7" ry="4.1" fill="#808080"/>
<ellipse cx="1076.8" cy="1023.4" rx="26.2" ry="2.6" fill="#050505"/>
</g>
<g filter="url(#bM)">
<ellipse cx="1076.8" cy="1038.8" rx="28.4" ry="1.2" fill="#b2b2b2"/>
</g>
<g>
<rect x="937.7" y="930" width="278.3" height="34" fill="url(#g15_2)"/>
<rect x="937.7" y="964" width="278.3" height="10" fill="#080808"/>
<rect x="937.7" y="1051" width="278.3" height="41" fill="#ffffff"/>
</g>
<g filter="url(#bH)">
<path d="M956.8 1052.1L985.2 1053.2L1033.2 1061.9L1033.2 1067.5L956.8 1067.5Z" fill="#9e9e9e"/>
<path d="M1196.9 1052.1L1168.5 1053.2L1120.5 1061.9L1120.5 1067.5L1196.9 1067.5Z" fill="#9e9e9e"/>
<path d="M956.8 1055.2L980.8 1056.2L1007 1063.4L956.8 1067.5Z" fill="#404040"/>
<path d="M1196.9 1055.2L1172.9 1056.2L1146.7 1063.4L1196.9 1067.5Z" fill="#404040"/>
</g>
</g>
<path d="M967.7 998.3H1186M967.7 1001.4H1186M967.7 1019.8H1186M967.7 1022.9H1186" stroke="#000" stroke-opacity="0.7" stroke-width="0.8" fill="none"/>
</g>
<text x="31.6" y="683.3" font-size="49" text-anchor="start" fill="#000">f</text>
<text x="156.3" y="686.2" font-size="24.4" text-anchor="middle" fill="#000">8.01 GHz</text>
<text x="386.5" y="686.2" font-size="24.4" text-anchor="middle" fill="#000">21.34 GHz</text>
<text x="617.3" y="686.2" font-size="24.4" text-anchor="middle" fill="#000">32.42 GHz</text>
<text x="846.5" y="686.2" font-size="24.4" text-anchor="middle" fill="#000">47.86 GHz</text>
<text x="1076" y="686.2" font-size="24.4" text-anchor="middle" fill="#000">65.57 GHz</text>
<text x="45.3" y="820.2" font-size="24.6" text-anchor="start" fill="#000" textLength="333" lengthAdjust="spacingAndGlyphs">Electric field distribution (V/m)</text>
<text x="45.3" y="948.6" font-size="24.6" text-anchor="start" fill="#000" textLength="349" lengthAdjust="spacingAndGlyphs">Magnetic field distribution (A/m)</text>
<text x="49.2" y="1085.3" font-size="24.6" textLength="334.5" lengthAdjust="spacingAndGlyphs">The power loss densities (W/m<tspan font-size="15.5" dy="-9">3</tspan><tspan dy="9">)</tspan></text>
<rect x="1198.4" y="710.9" width="31.8" height="332.5" fill="url(#cbar)"/>
<text x="1189.5" y="707" font-size="24" text-anchor="start" fill="#000" textLength="46" lengthAdjust="spacingAndGlyphs">Max</text>
<text x="1191" y="1065" font-size="24" text-anchor="start" fill="#000" textLength="41" lengthAdjust="spacingAndGlyphs">Min</text>
</svg>
</body></html>
